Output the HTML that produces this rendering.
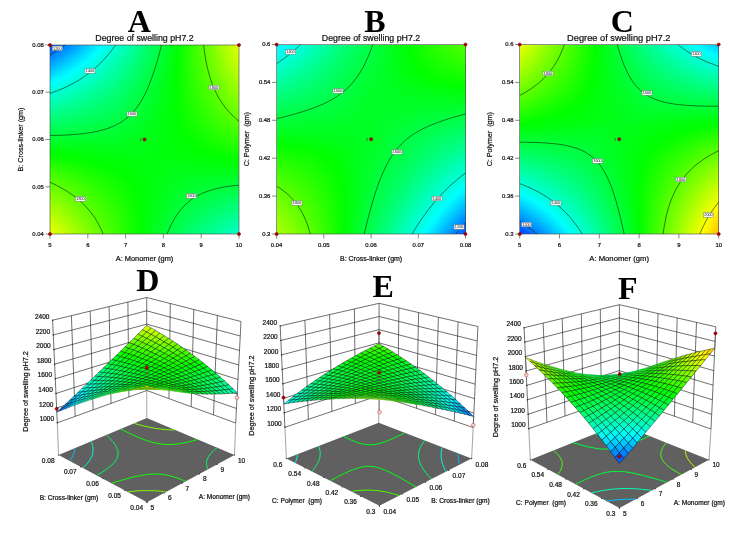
<!DOCTYPE html>
<html><head><meta charset="utf-8"><title>Degree of swelling pH7.2</title>
<style>html,body{margin:0;padding:0;background:#fff}svg{display:block}.t,.u{font-family:"Liberation Sans",Arial,sans-serif}.t{stroke:#111;stroke-width:.22px}</style></head>
<body><svg width="740" height="534" viewBox="0 0 740 534">
<rect width="740" height="534" fill="#fff"/>
<defs><linearGradient id="g0"><stop offset="0" stop-color="#004dff"/><stop offset="0.139" stop-color="#00a3ff"/><stop offset="0.278" stop-color="#0ff"/><stop offset="0.479" stop-color="#00ff84"/><stop offset="0.681" stop-color="#0f0"/><stop offset="0.84" stop-color="#70ff00"/><stop offset="1" stop-color="#e6ff00"/></linearGradient><linearGradient id="g1"><stop offset="0" stop-color="#0057ff"/><stop offset="0.135" stop-color="#00a8ff"/><stop offset="0.269" stop-color="#0ff"/><stop offset="0.474" stop-color="#00ff85"/><stop offset="0.68" stop-color="#0f0"/><stop offset="0.84" stop-color="#6eff00"/><stop offset="1" stop-color="#e3ff00"/></linearGradient><linearGradient id="g2"><stop offset="0" stop-color="#0060ff"/><stop offset="0.13" stop-color="#00adff"/><stop offset="0.259" stop-color="#0ff"/><stop offset="0.469" stop-color="#00ff85"/><stop offset="0.679" stop-color="#0f0"/><stop offset="0.839" stop-color="#6dff00"/><stop offset="1" stop-color="#e0ff00"/></linearGradient><linearGradient id="g3"><stop offset="0" stop-color="#006aff"/><stop offset="0.125" stop-color="#00b2ff"/><stop offset="0.25" stop-color="#0ff"/><stop offset="0.464" stop-color="#00ff85"/><stop offset="0.678" stop-color="#0f0"/><stop offset="0.839" stop-color="#6bff00"/><stop offset="1" stop-color="#df0"/></linearGradient><linearGradient id="g4"><stop offset="0" stop-color="#0074ff"/><stop offset="0.12" stop-color="#00b8ff"/><stop offset="0.239" stop-color="#0ff"/><stop offset="0.458" stop-color="#00ff85"/><stop offset="0.677" stop-color="#0f0"/><stop offset="0.838" stop-color="#6aff00"/><stop offset="1" stop-color="#daff00"/></linearGradient><linearGradient id="g5"><stop offset="0" stop-color="#007eff"/><stop offset="0.114" stop-color="#00bdff"/><stop offset="0.228" stop-color="#0ff"/><stop offset="0.452" stop-color="#00ff85"/><stop offset="0.676" stop-color="#0f0"/><stop offset="0.838" stop-color="#68ff00"/><stop offset="1" stop-color="#d6ff00"/></linearGradient><linearGradient id="g6"><stop offset="0" stop-color="#0087ff"/><stop offset="0.108" stop-color="#00c2ff"/><stop offset="0.217" stop-color="#0ff"/><stop offset="0.446" stop-color="#00ff86"/><stop offset="0.675" stop-color="#0f0"/><stop offset="0.837" stop-color="#6f0"/><stop offset="1" stop-color="#d3ff00"/></linearGradient><linearGradient id="g7"><stop offset="0" stop-color="#0091ff"/><stop offset="0.103" stop-color="#00c7ff"/><stop offset="0.205" stop-color="#0ff"/><stop offset="0.44" stop-color="#00ff86"/><stop offset="0.674" stop-color="#0f0"/><stop offset="0.837" stop-color="#65ff00"/><stop offset="1" stop-color="#d0ff00"/></linearGradient><linearGradient id="g8"><stop offset="0" stop-color="#009bff"/><stop offset="0.096" stop-color="#00cbff"/><stop offset="0.193" stop-color="#0ff"/><stop offset="0.433" stop-color="#00ff86"/><stop offset="0.673" stop-color="#0f0"/><stop offset="0.837" stop-color="#63ff00"/><stop offset="1" stop-color="#cdff00"/></linearGradient><linearGradient id="g9"><stop offset="0" stop-color="#00a4ff"/><stop offset="0.09" stop-color="#00d0ff"/><stop offset="0.18" stop-color="#0ff"/><stop offset="0.426" stop-color="#00ff87"/><stop offset="0.672" stop-color="#0f0"/><stop offset="0.836" stop-color="#62ff00"/><stop offset="1" stop-color="#c9ff00"/></linearGradient><linearGradient id="g10"><stop offset="0" stop-color="#00aeff"/><stop offset="0.083" stop-color="#00d5ff"/><stop offset="0.166" stop-color="#0ff"/><stop offset="0.419" stop-color="#00ff87"/><stop offset="0.672" stop-color="#0f0"/><stop offset="0.836" stop-color="#60ff00"/><stop offset="1" stop-color="#c6ff00"/></linearGradient><linearGradient id="g11"><stop offset="0" stop-color="#00b7ff"/><stop offset="0.076" stop-color="#00daff"/><stop offset="0.151" stop-color="#0ff"/><stop offset="0.411" stop-color="#0f8"/><stop offset="0.671" stop-color="#0f0"/><stop offset="0.835" stop-color="#5eff00"/><stop offset="1" stop-color="#c3ff00"/></linearGradient><linearGradient id="g12"><stop offset="0" stop-color="#00c0ff"/><stop offset="0.136" stop-color="#0ff"/><stop offset="0.403" stop-color="#0f8"/><stop offset="0.67" stop-color="#0f0"/><stop offset="0.835" stop-color="#5cff00"/><stop offset="1" stop-color="#bfff00"/></linearGradient><linearGradient id="g13"><stop offset="0" stop-color="#00caff"/><stop offset="0.12" stop-color="#0ff"/><stop offset="0.395" stop-color="#0f8"/><stop offset="0.669" stop-color="#0f0"/><stop offset="0.835" stop-color="#5bff00"/><stop offset="1" stop-color="#bcff00"/></linearGradient><linearGradient id="g14"><stop offset="0" stop-color="#00d3ff"/><stop offset="0.102" stop-color="#0ff"/><stop offset="0.385" stop-color="#00ff89"/><stop offset="0.669" stop-color="#0f0"/><stop offset="0.834" stop-color="#59ff00"/><stop offset="1" stop-color="#b8ff00"/></linearGradient><linearGradient id="g15"><stop offset="0" stop-color="#00dcff"/><stop offset="0.084" stop-color="#0ff"/><stop offset="0.376" stop-color="#00ff8a"/><stop offset="0.668" stop-color="#0f0"/><stop offset="0.834" stop-color="#57ff00"/><stop offset="1" stop-color="#b5ff00"/></linearGradient><linearGradient id="g16"><stop offset="0" stop-color="#00e6ff"/><stop offset="0.064" stop-color="#0ff"/><stop offset="0.366" stop-color="#00ff8a"/><stop offset="0.668" stop-color="#0f0"/><stop offset="0.834" stop-color="#5f0"/><stop offset="1" stop-color="#b1ff00"/></linearGradient><linearGradient id="g17"><stop offset="0" stop-color="#00efff"/><stop offset="0.042" stop-color="#0ff"/><stop offset="0.355" stop-color="#00ff8b"/><stop offset="0.667" stop-color="#0f0"/><stop offset="0.834" stop-color="#54ff00"/><stop offset="1" stop-color="#aeff00"/></linearGradient><linearGradient id="g18"><stop offset="0" stop-color="#00f8ff"/><stop offset="0.019" stop-color="#0ff"/><stop offset="0.343" stop-color="#00ff8c"/><stop offset="0.666" stop-color="#0f0"/><stop offset="0.833" stop-color="#52ff00"/><stop offset="1" stop-color="#af0"/></linearGradient><linearGradient id="g19"><stop offset="0" stop-color="#00fffd"/><stop offset="0.333" stop-color="#00ff8c"/><stop offset="0.666" stop-color="#0f0"/><stop offset="0.833" stop-color="#50ff00"/><stop offset="1" stop-color="#a7ff00"/></linearGradient><linearGradient id="g20"><stop offset="0" stop-color="#00fff5"/><stop offset="0.333" stop-color="#0f8"/><stop offset="0.666" stop-color="#0f0"/><stop offset="0.833" stop-color="#4eff00"/><stop offset="1" stop-color="#a3ff00"/></linearGradient><linearGradient id="g21"><stop offset="0" stop-color="#00ffed"/><stop offset="0.333" stop-color="#00ff84"/><stop offset="0.665" stop-color="#0f0"/><stop offset="0.833" stop-color="#4cff00"/><stop offset="1" stop-color="#9fff00"/></linearGradient><linearGradient id="g22"><stop offset="0" stop-color="#00ffe6"/><stop offset="0.333" stop-color="#00ff80"/><stop offset="0.665" stop-color="#0f0"/><stop offset="0.833" stop-color="#4aff00"/><stop offset="1" stop-color="#9cff00"/></linearGradient><linearGradient id="g23"><stop offset="0" stop-color="#00ffde"/><stop offset="0.332" stop-color="#00ff7c"/><stop offset="0.665" stop-color="#0f0"/><stop offset="0.832" stop-color="#49ff00"/><stop offset="1" stop-color="#98ff00"/></linearGradient><linearGradient id="g24"><stop offset="0" stop-color="#00ffd6"/><stop offset="0.332" stop-color="#00ff78"/><stop offset="0.665" stop-color="#0f0"/><stop offset="0.832" stop-color="#47ff00"/><stop offset="1" stop-color="#94ff00"/></linearGradient><linearGradient id="g25"><stop offset="0" stop-color="#00ffce"/><stop offset="0.332" stop-color="#00ff74"/><stop offset="0.665" stop-color="#0f0"/><stop offset="0.832" stop-color="#45ff00"/><stop offset="1" stop-color="#90ff00"/></linearGradient><linearGradient id="g26"><stop offset="0" stop-color="#00ffc7"/><stop offset="0.332" stop-color="#00ff71"/><stop offset="0.665" stop-color="#0f0"/><stop offset="0.832" stop-color="#43ff00"/><stop offset="1" stop-color="#8cff00"/></linearGradient><linearGradient id="g27"><stop offset="0" stop-color="#00ffbf"/><stop offset="0.332" stop-color="#00ff6d"/><stop offset="0.665" stop-color="#0f0"/><stop offset="0.832" stop-color="#41ff00"/><stop offset="1" stop-color="#8f0"/></linearGradient><linearGradient id="g28"><stop offset="0" stop-color="#00ffb8"/><stop offset="0.332" stop-color="#00ff69"/><stop offset="0.665" stop-color="#0f0"/><stop offset="0.832" stop-color="#3fff00"/><stop offset="1" stop-color="#84ff00"/></linearGradient><linearGradient id="g29"><stop offset="0" stop-color="#00ffb0"/><stop offset="0.333" stop-color="#00ff65"/><stop offset="0.665" stop-color="#0f0"/><stop offset="0.833" stop-color="#3dff00"/><stop offset="1" stop-color="#80ff00"/></linearGradient><linearGradient id="g30"><stop offset="0" stop-color="#00ffa8"/><stop offset="0.333" stop-color="#00ff61"/><stop offset="0.666" stop-color="#0f0"/><stop offset="0.833" stop-color="#3bff00"/><stop offset="1" stop-color="#7cff00"/></linearGradient><linearGradient id="g31"><stop offset="0" stop-color="#00ffa1"/><stop offset="0.333" stop-color="#00ff5e"/><stop offset="0.666" stop-color="#0f0"/><stop offset="0.833" stop-color="#39ff00"/><stop offset="1" stop-color="#78ff00"/></linearGradient><linearGradient id="g32"><stop offset="0" stop-color="#00ff9a"/><stop offset="0.334" stop-color="#00ff5a"/><stop offset="0.667" stop-color="#0f0"/><stop offset="0.834" stop-color="#37ff00"/><stop offset="1" stop-color="#74ff00"/></linearGradient><linearGradient id="g33"><stop offset="0" stop-color="#00ff92"/><stop offset="0.334" stop-color="#00ff56"/><stop offset="0.668" stop-color="#0f0"/><stop offset="0.834" stop-color="#35ff00"/><stop offset="1" stop-color="#70ff00"/></linearGradient><linearGradient id="g34"><stop offset="0" stop-color="#00ff8b"/><stop offset="0.335" stop-color="#00ff53"/><stop offset="0.669" stop-color="#0f0"/><stop offset="0.835" stop-color="#3f0"/><stop offset="1" stop-color="#6cff00"/></linearGradient><linearGradient id="g35"><stop offset="0" stop-color="#00ff83"/><stop offset="0.335" stop-color="#00ff4f"/><stop offset="0.67" stop-color="#0f0"/><stop offset="0.835" stop-color="#31ff00"/><stop offset="1" stop-color="#68ff00"/></linearGradient><linearGradient id="g36"><stop offset="0" stop-color="#00ff7c"/><stop offset="0.336" stop-color="#00ff4b"/><stop offset="0.672" stop-color="#0f0"/><stop offset="0.836" stop-color="#2fff00"/><stop offset="1" stop-color="#64ff00"/></linearGradient><linearGradient id="g37"><stop offset="0" stop-color="#00ff75"/><stop offset="0.337" stop-color="#00ff48"/><stop offset="0.674" stop-color="#0f0"/><stop offset="0.837" stop-color="#2dff00"/><stop offset="1" stop-color="#5fff00"/></linearGradient><linearGradient id="g38"><stop offset="0" stop-color="#00ff6e"/><stop offset="0.338" stop-color="#0f4"/><stop offset="0.676" stop-color="#0f0"/><stop offset="0.838" stop-color="#2aff00"/><stop offset="1" stop-color="#5bff00"/></linearGradient><linearGradient id="g39"><stop offset="0" stop-color="#0f6"/><stop offset="0.339" stop-color="#00ff41"/><stop offset="0.679" stop-color="#0f0"/><stop offset="0.839" stop-color="#28ff00"/><stop offset="1" stop-color="#57ff00"/></linearGradient><linearGradient id="g40"><stop offset="0" stop-color="#00ff5f"/><stop offset="0.341" stop-color="#00ff3d"/><stop offset="0.681" stop-color="#0f0"/><stop offset="0.841" stop-color="#26ff00"/><stop offset="1" stop-color="#52ff00"/></linearGradient><linearGradient id="g41"><stop offset="0" stop-color="#00ff58"/><stop offset="0.342" stop-color="#00ff3a"/><stop offset="0.685" stop-color="#0f0"/><stop offset="0.842" stop-color="#24ff00"/><stop offset="1" stop-color="#4eff00"/></linearGradient><linearGradient id="g42"><stop offset="0" stop-color="#00ff51"/><stop offset="0.344" stop-color="#00ff37"/><stop offset="0.689" stop-color="#0f0"/><stop offset="0.844" stop-color="#2f0"/><stop offset="1" stop-color="#4aff00"/></linearGradient><linearGradient id="g43"><stop offset="0" stop-color="#00ff4a"/><stop offset="0.347" stop-color="#0f3"/><stop offset="0.693" stop-color="#0f0"/><stop offset="0.847" stop-color="#20ff00"/><stop offset="1" stop-color="#45ff00"/></linearGradient><linearGradient id="g44"><stop offset="0" stop-color="#00ff43"/><stop offset="0.349" stop-color="#00ff30"/><stop offset="0.699" stop-color="#0f0"/><stop offset="0.849" stop-color="#1eff00"/><stop offset="1" stop-color="#41ff00"/></linearGradient><linearGradient id="g45"><stop offset="0" stop-color="#00ff3c"/><stop offset="0.353" stop-color="#00ff2d"/><stop offset="0.705" stop-color="#0f0"/><stop offset="0.853" stop-color="#1bff00"/><stop offset="1" stop-color="#3cff00"/></linearGradient><linearGradient id="g46"><stop offset="0" stop-color="#00ff35"/><stop offset="0.356" stop-color="#00ff2a"/><stop offset="0.712" stop-color="#0f0"/><stop offset="0.856" stop-color="#19ff00"/><stop offset="1" stop-color="#38ff00"/></linearGradient><linearGradient id="g47"><stop offset="0" stop-color="#00ff2e"/><stop offset="0.36" stop-color="#00ff26"/><stop offset="0.721" stop-color="#0f0"/><stop offset="0.86" stop-color="#17ff00"/><stop offset="1" stop-color="#3f0"/></linearGradient><linearGradient id="g48"><stop offset="0" stop-color="#00ff27"/><stop offset="0.366" stop-color="#00ff23"/><stop offset="0.731" stop-color="#0f0"/><stop offset="0.866" stop-color="#15ff00"/><stop offset="1" stop-color="#2eff00"/></linearGradient><linearGradient id="g49"><stop offset="0" stop-color="#00ff20"/><stop offset="0.372" stop-color="#00ff20"/><stop offset="0.743" stop-color="#0f0"/><stop offset="0.872" stop-color="#13ff00"/><stop offset="1" stop-color="#2aff00"/></linearGradient><linearGradient id="g50"><stop offset="0" stop-color="#00ff19"/><stop offset="0.379" stop-color="#00ff1e"/><stop offset="0.757" stop-color="#0f0"/><stop offset="0.879" stop-color="#1f0"/><stop offset="1" stop-color="#25ff00"/></linearGradient><linearGradient id="g51"><stop offset="0" stop-color="#00ff12"/><stop offset="0.387" stop-color="#00ff1b"/><stop offset="0.774" stop-color="#0f0"/><stop offset="0.887" stop-color="#0fff00"/><stop offset="1" stop-color="#20ff00"/></linearGradient><linearGradient id="g52"><stop offset="0" stop-color="#00ff0c"/><stop offset="0.397" stop-color="#00ff19"/><stop offset="0.794" stop-color="#0f0"/><stop offset="0.897" stop-color="#0dff00"/><stop offset="1" stop-color="#1cff00"/></linearGradient><linearGradient id="g53"><stop offset="0" stop-color="#00ff05"/><stop offset="0.409" stop-color="#00ff16"/><stop offset="0.818" stop-color="#0f0"/><stop offset="0.909" stop-color="#0aff00"/><stop offset="1" stop-color="#17ff00"/></linearGradient><linearGradient id="g54"><stop offset="0" stop-color="#02ff00"/><stop offset="0.017" stop-color="#0f0"/><stop offset="0.432" stop-color="#00ff15"/><stop offset="0.847" stop-color="#0f0"/><stop offset="0.924" stop-color="#08ff00"/><stop offset="1" stop-color="#12ff00"/></linearGradient><linearGradient id="g55"><stop offset="0" stop-color="#08ff00"/><stop offset="0.08" stop-color="#0f0"/><stop offset="0.481" stop-color="#00ff13"/><stop offset="0.881" stop-color="#0f0"/><stop offset="1" stop-color="#0dff00"/></linearGradient><linearGradient id="g56"><stop offset="0" stop-color="#0fff00"/><stop offset="0.137" stop-color="#0f0"/><stop offset="0.529" stop-color="#00ff12"/><stop offset="0.921" stop-color="#0f0"/><stop offset="1" stop-color="#08ff00"/></linearGradient><linearGradient id="g57"><stop offset="0" stop-color="#16ff00"/><stop offset="0.094" stop-color="#0aff00"/><stop offset="0.188" stop-color="#0f0"/><stop offset="0.577" stop-color="#00ff12"/><stop offset="0.967" stop-color="#0f0"/><stop offset="1" stop-color="#03ff00"/></linearGradient><linearGradient id="g58"><stop offset="0" stop-color="#1cff00"/><stop offset="0.116" stop-color="#0cff00"/><stop offset="0.232" stop-color="#0f0"/><stop offset="0.616" stop-color="#00ff12"/><stop offset="1" stop-color="#00ff02"/></linearGradient><linearGradient id="g59"><stop offset="0" stop-color="#23ff00"/><stop offset="0.135" stop-color="#0fff00"/><stop offset="0.27" stop-color="#0f0"/><stop offset="0.635" stop-color="#00ff13"/><stop offset="1" stop-color="#00ff07"/></linearGradient><linearGradient id="g60"><stop offset="0" stop-color="#29ff00"/><stop offset="0.151" stop-color="#12ff00"/><stop offset="0.303" stop-color="#0f0"/><stop offset="0.651" stop-color="#00ff14"/><stop offset="1" stop-color="#00ff0c"/></linearGradient><linearGradient id="g61"><stop offset="0" stop-color="#30ff00"/><stop offset="0.165" stop-color="#15ff00"/><stop offset="0.33" stop-color="#0f0"/><stop offset="0.665" stop-color="#00ff16"/><stop offset="1" stop-color="#0f1"/></linearGradient><linearGradient id="g62"><stop offset="0" stop-color="#36ff00"/><stop offset="0.177" stop-color="#17ff00"/><stop offset="0.353" stop-color="#0f0"/><stop offset="0.677" stop-color="#00ff17"/><stop offset="1" stop-color="#00ff16"/></linearGradient><linearGradient id="g63"><stop offset="0" stop-color="#3cff00"/><stop offset="0.186" stop-color="#1aff00"/><stop offset="0.373" stop-color="#0f0"/><stop offset="0.686" stop-color="#00ff19"/><stop offset="1" stop-color="#00ff1b"/></linearGradient><linearGradient id="g64"><stop offset="0" stop-color="#43ff00"/><stop offset="0.194" stop-color="#1dff00"/><stop offset="0.389" stop-color="#0f0"/><stop offset="0.694" stop-color="#00ff1b"/><stop offset="1" stop-color="#00ff20"/></linearGradient><linearGradient id="g65"><stop offset="0" stop-color="#49ff00"/><stop offset="0.201" stop-color="#20ff00"/><stop offset="0.402" stop-color="#0f0"/><stop offset="0.701" stop-color="#00ff1d"/><stop offset="1" stop-color="#00ff25"/></linearGradient><linearGradient id="g66"><stop offset="0" stop-color="#4fff00"/><stop offset="0.207" stop-color="#23ff00"/><stop offset="0.414" stop-color="#0f0"/><stop offset="0.707" stop-color="#00ff20"/><stop offset="1" stop-color="#00ff2b"/></linearGradient><linearGradient id="g67"><stop offset="0" stop-color="#56ff00"/><stop offset="0.212" stop-color="#26ff00"/><stop offset="0.424" stop-color="#0f0"/><stop offset="0.712" stop-color="#0f2"/><stop offset="1" stop-color="#00ff30"/></linearGradient><linearGradient id="g68"><stop offset="0" stop-color="#5cff00"/><stop offset="0.216" stop-color="#28ff00"/><stop offset="0.432" stop-color="#0f0"/><stop offset="0.716" stop-color="#00ff24"/><stop offset="1" stop-color="#00ff35"/></linearGradient><linearGradient id="g69"><stop offset="0" stop-color="#62ff00"/><stop offset="0.219" stop-color="#2bff00"/><stop offset="0.439" stop-color="#0f0"/><stop offset="0.719" stop-color="#00ff27"/><stop offset="1" stop-color="#00ff3b"/></linearGradient><linearGradient id="g70"><stop offset="0" stop-color="#68ff00"/><stop offset="0.222" stop-color="#2eff00"/><stop offset="0.445" stop-color="#0f0"/><stop offset="0.722" stop-color="#00ff29"/><stop offset="1" stop-color="#00ff40"/></linearGradient><linearGradient id="g71"><stop offset="0" stop-color="#6eff00"/><stop offset="0.225" stop-color="#31ff00"/><stop offset="0.45" stop-color="#0f0"/><stop offset="0.725" stop-color="#00ff2c"/><stop offset="1" stop-color="#00ff45"/></linearGradient><linearGradient id="g72"><stop offset="0" stop-color="#74ff00"/><stop offset="0.227" stop-color="#34ff00"/><stop offset="0.454" stop-color="#0f0"/><stop offset="0.727" stop-color="#00ff2e"/><stop offset="1" stop-color="#00ff4b"/></linearGradient><linearGradient id="g73"><stop offset="0" stop-color="#7bff00"/><stop offset="0.229" stop-color="#37ff00"/><stop offset="0.458" stop-color="#0f0"/><stop offset="0.729" stop-color="#00ff31"/><stop offset="1" stop-color="#00ff50"/></linearGradient><linearGradient id="g74"><stop offset="0" stop-color="#81ff00"/><stop offset="0.231" stop-color="#3aff00"/><stop offset="0.461" stop-color="#0f0"/><stop offset="0.731" stop-color="#00ff34"/><stop offset="1" stop-color="#00ff56"/></linearGradient><linearGradient id="g75"><stop offset="0" stop-color="#87ff00"/><stop offset="0.232" stop-color="#3dff00"/><stop offset="0.464" stop-color="#0f0"/><stop offset="0.732" stop-color="#00ff36"/><stop offset="1" stop-color="#00ff5b"/></linearGradient><linearGradient id="g76"><stop offset="0" stop-color="#8cff00"/><stop offset="0.233" stop-color="#40ff00"/><stop offset="0.467" stop-color="#0f0"/><stop offset="0.733" stop-color="#00ff39"/><stop offset="1" stop-color="#00ff61"/></linearGradient><linearGradient id="g77"><stop offset="0" stop-color="#92ff00"/><stop offset="0.234" stop-color="#43ff00"/><stop offset="0.469" stop-color="#0f0"/><stop offset="0.734" stop-color="#00ff3c"/><stop offset="1" stop-color="#00ff67"/></linearGradient><linearGradient id="g78"><stop offset="0" stop-color="#98ff00"/><stop offset="0.235" stop-color="#46ff00"/><stop offset="0.471" stop-color="#0f0"/><stop offset="0.735" stop-color="#00ff3e"/><stop offset="1" stop-color="#00ff6c"/></linearGradient><linearGradient id="g79"><stop offset="0" stop-color="#9eff00"/><stop offset="0.236" stop-color="#48ff00"/><stop offset="0.472" stop-color="#0f0"/><stop offset="0.736" stop-color="#00ff41"/><stop offset="1" stop-color="#00ff72"/></linearGradient><linearGradient id="g80"><stop offset="0" stop-color="#a4ff00"/><stop offset="0.237" stop-color="#4bff00"/><stop offset="0.473" stop-color="#0f0"/><stop offset="0.737" stop-color="#0f4"/><stop offset="1" stop-color="#00ff78"/></linearGradient><linearGradient id="g81"><stop offset="0" stop-color="#af0"/><stop offset="0.237" stop-color="#4eff00"/><stop offset="0.474" stop-color="#0f0"/><stop offset="0.737" stop-color="#00ff47"/><stop offset="1" stop-color="#00ff7d"/></linearGradient><linearGradient id="g82"><stop offset="0" stop-color="#afff00"/><stop offset="0.238" stop-color="#51ff00"/><stop offset="0.475" stop-color="#0f0"/><stop offset="0.738" stop-color="#00ff4a"/><stop offset="1" stop-color="#00ff83"/></linearGradient><linearGradient id="g83"><stop offset="0" stop-color="#b5ff00"/><stop offset="0.238" stop-color="#54ff00"/><stop offset="0.476" stop-color="#0f0"/><stop offset="0.738" stop-color="#00ff4d"/><stop offset="1" stop-color="#00ff89"/></linearGradient><linearGradient id="g84"><stop offset="0" stop-color="#bf0"/><stop offset="0.238" stop-color="#57ff00"/><stop offset="0.477" stop-color="#0f0"/><stop offset="0.738" stop-color="#00ff50"/><stop offset="1" stop-color="#00ff8f"/></linearGradient><linearGradient id="g85"><stop offset="0" stop-color="#c0ff00"/><stop offset="0.238" stop-color="#59ff00"/><stop offset="0.477" stop-color="#0f0"/><stop offset="0.738" stop-color="#00ff53"/><stop offset="1" stop-color="#00ff95"/></linearGradient><linearGradient id="g86"><stop offset="0" stop-color="#c6ff00"/><stop offset="0.239" stop-color="#5cff00"/><stop offset="0.477" stop-color="#0f0"/><stop offset="0.739" stop-color="#0f5"/><stop offset="1" stop-color="#00ff9b"/></linearGradient><linearGradient id="g87"><stop offset="0" stop-color="#cf0"/><stop offset="0.239" stop-color="#5fff00"/><stop offset="0.477" stop-color="#0f0"/><stop offset="0.739" stop-color="#00ff58"/><stop offset="1" stop-color="#00ffa1"/></linearGradient><linearGradient id="g88"><stop offset="0" stop-color="#d1ff00"/><stop offset="0.239" stop-color="#62ff00"/><stop offset="0.478" stop-color="#0f0"/><stop offset="0.739" stop-color="#00ff5b"/><stop offset="1" stop-color="#00ffa7"/></linearGradient><linearGradient id="g89"><stop offset="0" stop-color="#d7ff00"/><stop offset="0.239" stop-color="#65ff00"/><stop offset="0.478" stop-color="#0f0"/><stop offset="0.739" stop-color="#00ff5e"/><stop offset="1" stop-color="#00ffad"/></linearGradient><linearGradient id="g90"><stop offset="0" stop-color="#dcff00"/><stop offset="0.239" stop-color="#67ff00"/><stop offset="0.477" stop-color="#0f0"/><stop offset="0.739" stop-color="#00ff61"/><stop offset="1" stop-color="#00ffb3"/></linearGradient><linearGradient id="g91"><stop offset="0" stop-color="#e2ff00"/><stop offset="0.239" stop-color="#6aff00"/><stop offset="0.477" stop-color="#0f0"/><stop offset="0.739" stop-color="#00ff65"/><stop offset="1" stop-color="#00ffb9"/></linearGradient><linearGradient id="g92"><stop offset="0" stop-color="#e7ff00"/><stop offset="0.239" stop-color="#6dff00"/><stop offset="0.477" stop-color="#0f0"/><stop offset="0.739" stop-color="#00ff68"/><stop offset="1" stop-color="#00ffbf"/></linearGradient><linearGradient id="g93"><stop offset="0" stop-color="#ecff00"/><stop offset="0.238" stop-color="#6fff00"/><stop offset="0.477" stop-color="#0f0"/><stop offset="0.738" stop-color="#00ff6b"/><stop offset="1" stop-color="#00ffc5"/></linearGradient><linearGradient id="g94"><stop offset="0" stop-color="#f0ff00"/><stop offset="0.238" stop-color="#71ff00"/><stop offset="0.476" stop-color="#0f0"/><stop offset="0.738" stop-color="#00ff6d"/><stop offset="1" stop-color="#00ffca"/></linearGradient><linearGradient id="g95"><stop offset="0" stop-color="#00eaff"/><stop offset="0.038" stop-color="#0ff"/><stop offset="0.367" stop-color="#00ff72"/><stop offset="0.696" stop-color="#0f0"/><stop offset="0.848" stop-color="#2bff00"/><stop offset="1" stop-color="#51ff00"/></linearGradient><linearGradient id="g96"><stop offset="0" stop-color="#00f1ff"/><stop offset="0.025" stop-color="#0ff"/><stop offset="0.362" stop-color="#00ff71"/><stop offset="0.698" stop-color="#0f0"/><stop offset="0.849" stop-color="#2aff00"/><stop offset="1" stop-color="#4dff00"/></linearGradient><linearGradient id="g97"><stop offset="0" stop-color="#00f9ff"/><stop offset="0.012" stop-color="#0ff"/><stop offset="0.356" stop-color="#00ff71"/><stop offset="0.7" stop-color="#0f0"/><stop offset="0.85" stop-color="#28ff00"/><stop offset="1" stop-color="#4aff00"/></linearGradient><linearGradient id="g98"><stop offset="0" stop-color="#00fffe"/><stop offset="0.351" stop-color="#00ff6f"/><stop offset="0.703" stop-color="#0f0"/><stop offset="0.851" stop-color="#26ff00"/><stop offset="1" stop-color="#46ff00"/></linearGradient><linearGradient id="g99"><stop offset="0" stop-color="#00fff8"/><stop offset="0.353" stop-color="#00ff6c"/><stop offset="0.705" stop-color="#0f0"/><stop offset="0.853" stop-color="#24ff00"/><stop offset="1" stop-color="#42ff00"/></linearGradient><linearGradient id="g100"><stop offset="0" stop-color="#00fff2"/><stop offset="0.354" stop-color="#00ff69"/><stop offset="0.708" stop-color="#0f0"/><stop offset="0.854" stop-color="#2f0"/><stop offset="1" stop-color="#3fff00"/></linearGradient><linearGradient id="g101"><stop offset="0" stop-color="#00ffeb"/><stop offset="0.356" stop-color="#0f6"/><stop offset="0.712" stop-color="#0f0"/><stop offset="0.856" stop-color="#20ff00"/><stop offset="1" stop-color="#3bff00"/></linearGradient><linearGradient id="g102"><stop offset="0" stop-color="#00ffe5"/><stop offset="0.358" stop-color="#00ff62"/><stop offset="0.716" stop-color="#0f0"/><stop offset="0.858" stop-color="#1eff00"/><stop offset="1" stop-color="#37ff00"/></linearGradient><linearGradient id="g103"><stop offset="0" stop-color="#00ffdf"/><stop offset="0.36" stop-color="#00ff5f"/><stop offset="0.721" stop-color="#0f0"/><stop offset="0.86" stop-color="#1cff00"/><stop offset="1" stop-color="#3f0"/></linearGradient><linearGradient id="g104"><stop offset="0" stop-color="#00ffd9"/><stop offset="0.363" stop-color="#00ff5c"/><stop offset="0.726" stop-color="#0f0"/><stop offset="0.863" stop-color="#1aff00"/><stop offset="1" stop-color="#2fff00"/></linearGradient><linearGradient id="g105"><stop offset="0" stop-color="#00ffd3"/><stop offset="0.366" stop-color="#00ff59"/><stop offset="0.732" stop-color="#0f0"/><stop offset="0.866" stop-color="#18ff00"/><stop offset="1" stop-color="#2bff00"/></linearGradient><linearGradient id="g106"><stop offset="0" stop-color="#00ffcd"/><stop offset="0.369" stop-color="#0f5"/><stop offset="0.739" stop-color="#0f0"/><stop offset="0.869" stop-color="#16ff00"/><stop offset="1" stop-color="#27ff00"/></linearGradient><linearGradient id="g107"><stop offset="0" stop-color="#00ffc7"/><stop offset="0.373" stop-color="#00ff52"/><stop offset="0.747" stop-color="#0f0"/><stop offset="0.873" stop-color="#14ff00"/><stop offset="1" stop-color="#23ff00"/></linearGradient><linearGradient id="g108"><stop offset="0" stop-color="#00ffc1"/><stop offset="0.378" stop-color="#00ff4e"/><stop offset="0.756" stop-color="#0f0"/><stop offset="0.878" stop-color="#12ff00"/><stop offset="1" stop-color="#1fff00"/></linearGradient><linearGradient id="g109"><stop offset="0" stop-color="#0fb"/><stop offset="0.383" stop-color="#00ff4b"/><stop offset="0.767" stop-color="#0f0"/><stop offset="0.883" stop-color="#0fff00"/><stop offset="1" stop-color="#1bff00"/></linearGradient><linearGradient id="g110"><stop offset="0" stop-color="#00ffb5"/><stop offset="0.39" stop-color="#00ff47"/><stop offset="0.779" stop-color="#0f0"/><stop offset="0.89" stop-color="#0dff00"/><stop offset="1" stop-color="#17ff00"/></linearGradient><linearGradient id="g111"><stop offset="0" stop-color="#00ffaf"/><stop offset="0.398" stop-color="#0f4"/><stop offset="0.795" stop-color="#0f0"/><stop offset="0.898" stop-color="#0bff00"/><stop offset="1" stop-color="#13ff00"/></linearGradient><linearGradient id="g112"><stop offset="0" stop-color="#00ffa9"/><stop offset="0.407" stop-color="#00ff40"/><stop offset="0.815" stop-color="#0f0"/><stop offset="0.907" stop-color="#09ff00"/><stop offset="1" stop-color="#0fff00"/></linearGradient><linearGradient id="g113"><stop offset="0" stop-color="#00ffa4"/><stop offset="0.42" stop-color="#00ff3b"/><stop offset="0.84" stop-color="#0f0"/><stop offset="0.92" stop-color="#06ff00"/><stop offset="1" stop-color="#0bff00"/></linearGradient><linearGradient id="g114"><stop offset="0" stop-color="#00ff9e"/><stop offset="0.438" stop-color="#00ff37"/><stop offset="0.875" stop-color="#0f0"/><stop offset="1" stop-color="#07ff00"/></linearGradient><linearGradient id="g115"><stop offset="0" stop-color="#00ff98"/><stop offset="0.466" stop-color="#00ff30"/><stop offset="0.933" stop-color="#0f0"/><stop offset="1" stop-color="#02ff00"/></linearGradient><linearGradient id="g116"><stop offset="0" stop-color="#00ff92"/><stop offset="0.5" stop-color="#00ff2a"/><stop offset="1" stop-color="#00ff02"/></linearGradient><linearGradient id="g117"><stop offset="0" stop-color="#00ff8d"/><stop offset="0.5" stop-color="#00ff2a"/><stop offset="1" stop-color="#00ff06"/></linearGradient><linearGradient id="g118"><stop offset="0" stop-color="#00ff87"/><stop offset="0.5" stop-color="#00ff29"/><stop offset="1" stop-color="#00ff0a"/></linearGradient><linearGradient id="g119"><stop offset="0" stop-color="#00ff81"/><stop offset="0.5" stop-color="#00ff29"/><stop offset="1" stop-color="#00ff0f"/></linearGradient><linearGradient id="g120"><stop offset="0" stop-color="#00ff7c"/><stop offset="0.5" stop-color="#00ff28"/><stop offset="1" stop-color="#00ff13"/></linearGradient><linearGradient id="g121"><stop offset="0" stop-color="#00ff76"/><stop offset="0.5" stop-color="#00ff27"/><stop offset="1" stop-color="#00ff18"/></linearGradient><linearGradient id="g122"><stop offset="0" stop-color="#00ff71"/><stop offset="0.5" stop-color="#00ff27"/><stop offset="1" stop-color="#00ff1c"/></linearGradient><linearGradient id="g123"><stop offset="0" stop-color="#00ff6b"/><stop offset="0.5" stop-color="#00ff26"/><stop offset="1" stop-color="#00ff21"/></linearGradient><linearGradient id="g124"><stop offset="0" stop-color="#0f6"/><stop offset="0.5" stop-color="#00ff26"/><stop offset="1" stop-color="#00ff25"/></linearGradient><linearGradient id="g125"><stop offset="0" stop-color="#00ff61"/><stop offset="0.5" stop-color="#00ff26"/><stop offset="1" stop-color="#00ff2a"/></linearGradient><linearGradient id="g126"><stop offset="0" stop-color="#00ff5b"/><stop offset="0.5" stop-color="#00ff25"/><stop offset="1" stop-color="#00ff2e"/></linearGradient><linearGradient id="g127"><stop offset="0" stop-color="#00ff56"/><stop offset="0.5" stop-color="#00ff25"/><stop offset="1" stop-color="#0f3"/></linearGradient><linearGradient id="g128"><stop offset="0" stop-color="#00ff51"/><stop offset="0.5" stop-color="#00ff25"/><stop offset="1" stop-color="#00ff38"/></linearGradient><linearGradient id="g129"><stop offset="0" stop-color="#00ff4b"/><stop offset="0.5" stop-color="#00ff24"/><stop offset="1" stop-color="#00ff3d"/></linearGradient><linearGradient id="g130"><stop offset="0" stop-color="#00ff46"/><stop offset="0.5" stop-color="#00ff24"/><stop offset="1" stop-color="#00ff41"/></linearGradient><linearGradient id="g131"><stop offset="0" stop-color="#00ff41"/><stop offset="0.5" stop-color="#00ff24"/><stop offset="1" stop-color="#00ff46"/></linearGradient><linearGradient id="g132"><stop offset="0" stop-color="#00ff3c"/><stop offset="0.5" stop-color="#00ff24"/><stop offset="1" stop-color="#00ff4b"/></linearGradient><linearGradient id="g133"><stop offset="0" stop-color="#00ff37"/><stop offset="0.5" stop-color="#00ff24"/><stop offset="1" stop-color="#00ff50"/></linearGradient><linearGradient id="g134"><stop offset="0" stop-color="#00ff32"/><stop offset="0.5" stop-color="#00ff23"/><stop offset="1" stop-color="#0f5"/></linearGradient><linearGradient id="g135"><stop offset="0" stop-color="#00ff2d"/><stop offset="0.5" stop-color="#00ff23"/><stop offset="1" stop-color="#00ff5a"/></linearGradient><linearGradient id="g136"><stop offset="0" stop-color="#00ff28"/><stop offset="0.5" stop-color="#00ff23"/><stop offset="1" stop-color="#00ff5f"/></linearGradient><linearGradient id="g137"><stop offset="0" stop-color="#00ff23"/><stop offset="0.5" stop-color="#00ff23"/><stop offset="1" stop-color="#00ff64"/></linearGradient><linearGradient id="g138"><stop offset="0" stop-color="#00ff1e"/><stop offset="0.5" stop-color="#00ff23"/><stop offset="1" stop-color="#00ff69"/></linearGradient><linearGradient id="g139"><stop offset="0" stop-color="#00ff19"/><stop offset="0.5" stop-color="#00ff23"/><stop offset="1" stop-color="#00ff6e"/></linearGradient><linearGradient id="g140"><stop offset="0" stop-color="#00ff14"/><stop offset="0.5" stop-color="#00ff24"/><stop offset="1" stop-color="#00ff73"/></linearGradient><linearGradient id="g141"><stop offset="0" stop-color="#00ff0f"/><stop offset="0.5" stop-color="#00ff24"/><stop offset="1" stop-color="#00ff78"/></linearGradient><linearGradient id="g142"><stop offset="0" stop-color="#00ff0a"/><stop offset="0.5" stop-color="#00ff24"/><stop offset="1" stop-color="#00ff7d"/></linearGradient><linearGradient id="g143"><stop offset="0" stop-color="#00ff05"/><stop offset="0.5" stop-color="#00ff24"/><stop offset="1" stop-color="#00ff82"/></linearGradient><linearGradient id="g144"><stop offset="0" stop-color="#00ff01"/><stop offset="0.5" stop-color="#00ff24"/><stop offset="1" stop-color="#00ff87"/></linearGradient><linearGradient id="g145"><stop offset="0" stop-color="#04ff00"/><stop offset="0.122" stop-color="#0f0"/><stop offset="0.561" stop-color="#00ff2e"/><stop offset="1" stop-color="#00ff8d"/></linearGradient><linearGradient id="g146"><stop offset="0" stop-color="#09ff00"/><stop offset="0.087" stop-color="#05ff00"/><stop offset="0.175" stop-color="#0f0"/><stop offset="0.587" stop-color="#0f3"/><stop offset="1" stop-color="#00ff92"/></linearGradient><linearGradient id="g147"><stop offset="0" stop-color="#0dff00"/><stop offset="0.104" stop-color="#08ff00"/><stop offset="0.208" stop-color="#0f0"/><stop offset="0.604" stop-color="#00ff38"/><stop offset="1" stop-color="#00ff97"/></linearGradient><linearGradient id="g148"><stop offset="0" stop-color="#12ff00"/><stop offset="0.116" stop-color="#0bff00"/><stop offset="0.233" stop-color="#0f0"/><stop offset="0.616" stop-color="#00ff3c"/><stop offset="1" stop-color="#00ff9d"/></linearGradient><linearGradient id="g149"><stop offset="0" stop-color="#17ff00"/><stop offset="0.126" stop-color="#0dff00"/><stop offset="0.252" stop-color="#0f0"/><stop offset="0.626" stop-color="#00ff3f"/><stop offset="1" stop-color="#00ffa2"/></linearGradient><linearGradient id="g150"><stop offset="0" stop-color="#1bff00"/><stop offset="0.133" stop-color="#10ff00"/><stop offset="0.267" stop-color="#0f0"/><stop offset="0.633" stop-color="#00ff43"/><stop offset="1" stop-color="#00ffa7"/></linearGradient><linearGradient id="g151"><stop offset="0" stop-color="#20ff00"/><stop offset="0.14" stop-color="#12ff00"/><stop offset="0.279" stop-color="#0f0"/><stop offset="0.64" stop-color="#00ff46"/><stop offset="1" stop-color="#00ffad"/></linearGradient><linearGradient id="g152"><stop offset="0" stop-color="#24ff00"/><stop offset="0.145" stop-color="#15ff00"/><stop offset="0.29" stop-color="#0f0"/><stop offset="0.645" stop-color="#00ff49"/><stop offset="1" stop-color="#00ffb2"/></linearGradient><linearGradient id="g153"><stop offset="0" stop-color="#29ff00"/><stop offset="0.149" stop-color="#17ff00"/><stop offset="0.299" stop-color="#0f0"/><stop offset="0.649" stop-color="#00ff4c"/><stop offset="1" stop-color="#00ffb8"/></linearGradient><linearGradient id="g154"><stop offset="0" stop-color="#2dff00"/><stop offset="0.153" stop-color="#19ff00"/><stop offset="0.307" stop-color="#0f0"/><stop offset="0.653" stop-color="#00ff50"/><stop offset="1" stop-color="#00ffbe"/></linearGradient><linearGradient id="g155"><stop offset="0" stop-color="#31ff00"/><stop offset="0.157" stop-color="#1cff00"/><stop offset="0.313" stop-color="#0f0"/><stop offset="0.657" stop-color="#00ff53"/><stop offset="1" stop-color="#00ffc3"/></linearGradient><linearGradient id="g156"><stop offset="0" stop-color="#36ff00"/><stop offset="0.16" stop-color="#1eff00"/><stop offset="0.319" stop-color="#0f0"/><stop offset="0.66" stop-color="#00ff56"/><stop offset="1" stop-color="#00ffc9"/></linearGradient><linearGradient id="g157"><stop offset="0" stop-color="#3aff00"/><stop offset="0.162" stop-color="#20ff00"/><stop offset="0.324" stop-color="#0f0"/><stop offset="0.662" stop-color="#00ff59"/><stop offset="1" stop-color="#00ffce"/></linearGradient><linearGradient id="g158"><stop offset="0" stop-color="#3eff00"/><stop offset="0.164" stop-color="#23ff00"/><stop offset="0.329" stop-color="#0f0"/><stop offset="0.664" stop-color="#00ff5c"/><stop offset="1" stop-color="#00ffd4"/></linearGradient><linearGradient id="g159"><stop offset="0" stop-color="#43ff00"/><stop offset="0.166" stop-color="#25ff00"/><stop offset="0.333" stop-color="#0f0"/><stop offset="0.666" stop-color="#00ff5f"/><stop offset="1" stop-color="#00ffda"/></linearGradient><linearGradient id="g160"><stop offset="0" stop-color="#47ff00"/><stop offset="0.168" stop-color="#27ff00"/><stop offset="0.336" stop-color="#0f0"/><stop offset="0.668" stop-color="#00ff62"/><stop offset="1" stop-color="#00ffe0"/></linearGradient><linearGradient id="g161"><stop offset="0" stop-color="#4bff00"/><stop offset="0.17" stop-color="#29ff00"/><stop offset="0.339" stop-color="#0f0"/><stop offset="0.67" stop-color="#00ff65"/><stop offset="1" stop-color="#00ffe5"/></linearGradient><linearGradient id="g162"><stop offset="0" stop-color="#4fff00"/><stop offset="0.171" stop-color="#2bff00"/><stop offset="0.342" stop-color="#0f0"/><stop offset="0.671" stop-color="#00ff68"/><stop offset="1" stop-color="#00ffeb"/></linearGradient><linearGradient id="g163"><stop offset="0" stop-color="#53ff00"/><stop offset="0.172" stop-color="#2dff00"/><stop offset="0.344" stop-color="#0f0"/><stop offset="0.672" stop-color="#00ff6b"/><stop offset="1" stop-color="#00fff1"/></linearGradient><linearGradient id="g164"><stop offset="0" stop-color="#57ff00"/><stop offset="0.173" stop-color="#2fff00"/><stop offset="0.347" stop-color="#0f0"/><stop offset="0.673" stop-color="#00ff6e"/><stop offset="1" stop-color="#00fff7"/></linearGradient><linearGradient id="g165"><stop offset="0" stop-color="#5bff00"/><stop offset="0.174" stop-color="#31ff00"/><stop offset="0.348" stop-color="#0f0"/><stop offset="0.674" stop-color="#00ff71"/><stop offset="1" stop-color="#00fffd"/></linearGradient><linearGradient id="g166"><stop offset="0" stop-color="#5fff00"/><stop offset="0.175" stop-color="#34ff00"/><stop offset="0.35" stop-color="#0f0"/><stop offset="0.671" stop-color="#00ff72"/><stop offset="0.992" stop-color="#0ff"/><stop offset="1" stop-color="#00faff"/></linearGradient><linearGradient id="g167"><stop offset="0" stop-color="#63ff00"/><stop offset="0.176" stop-color="#36ff00"/><stop offset="0.352" stop-color="#0f0"/><stop offset="0.666" stop-color="#00ff73"/><stop offset="0.979" stop-color="#0ff"/><stop offset="1" stop-color="#00f3ff"/></linearGradient><linearGradient id="g168"><stop offset="0" stop-color="#67ff00"/><stop offset="0.176" stop-color="#38ff00"/><stop offset="0.353" stop-color="#0f0"/><stop offset="0.66" stop-color="#00ff74"/><stop offset="0.968" stop-color="#0ff"/><stop offset="1" stop-color="#00ecff"/></linearGradient><linearGradient id="g169"><stop offset="0" stop-color="#6bff00"/><stop offset="0.177" stop-color="#39ff00"/><stop offset="0.354" stop-color="#0f0"/><stop offset="0.655" stop-color="#00ff74"/><stop offset="0.956" stop-color="#0ff"/><stop offset="1" stop-color="#00e5ff"/></linearGradient><linearGradient id="g170"><stop offset="0" stop-color="#6fff00"/><stop offset="0.177" stop-color="#3bff00"/><stop offset="0.355" stop-color="#0f0"/><stop offset="0.65" stop-color="#00ff74"/><stop offset="0.945" stop-color="#0ff"/><stop offset="1" stop-color="#00deff"/></linearGradient><linearGradient id="g171"><stop offset="0" stop-color="#73ff00"/><stop offset="0.178" stop-color="#3dff00"/><stop offset="0.356" stop-color="#0f0"/><stop offset="0.645" stop-color="#00ff75"/><stop offset="0.934" stop-color="#0ff"/><stop offset="1" stop-color="#00d7ff"/></linearGradient><linearGradient id="g172"><stop offset="0" stop-color="#7f0"/><stop offset="0.178" stop-color="#3fff00"/><stop offset="0.356" stop-color="#0f0"/><stop offset="0.64" stop-color="#00ff75"/><stop offset="0.924" stop-color="#0ff"/><stop offset="1" stop-color="#00d0ff"/></linearGradient><linearGradient id="g173"><stop offset="0" stop-color="#7aff00"/><stop offset="0.178" stop-color="#41ff00"/><stop offset="0.357" stop-color="#0f0"/><stop offset="0.635" stop-color="#00ff76"/><stop offset="0.913" stop-color="#0ff"/><stop offset="1" stop-color="#00c9ff"/></linearGradient><linearGradient id="g174"><stop offset="0" stop-color="#7eff00"/><stop offset="0.179" stop-color="#43ff00"/><stop offset="0.357" stop-color="#0f0"/><stop offset="0.63" stop-color="#00ff76"/><stop offset="0.903" stop-color="#0ff"/><stop offset="1" stop-color="#00c2ff"/></linearGradient><linearGradient id="g175"><stop offset="0" stop-color="#82ff00"/><stop offset="0.179" stop-color="#45ff00"/><stop offset="0.358" stop-color="#0f0"/><stop offset="0.626" stop-color="#00ff76"/><stop offset="0.893" stop-color="#0ff"/><stop offset="1" stop-color="#00baff"/></linearGradient><linearGradient id="g176"><stop offset="0" stop-color="#85ff00"/><stop offset="0.179" stop-color="#47ff00"/><stop offset="0.358" stop-color="#0f0"/><stop offset="0.621" stop-color="#0f7"/><stop offset="0.884" stop-color="#0ff"/><stop offset="1" stop-color="#00b3ff"/></linearGradient><linearGradient id="g177"><stop offset="0" stop-color="#89ff00"/><stop offset="0.179" stop-color="#49ff00"/><stop offset="0.358" stop-color="#0f0"/><stop offset="0.616" stop-color="#0f7"/><stop offset="0.875" stop-color="#0ff"/><stop offset="1" stop-color="#00acff"/></linearGradient><linearGradient id="g178"><stop offset="0" stop-color="#8dff00"/><stop offset="0.179" stop-color="#4aff00"/><stop offset="0.358" stop-color="#0f0"/><stop offset="0.612" stop-color="#0f7"/><stop offset="0.866" stop-color="#0ff"/><stop offset="1" stop-color="#00a4ff"/></linearGradient><linearGradient id="g179"><stop offset="0" stop-color="#90ff00"/><stop offset="0.179" stop-color="#4cff00"/><stop offset="0.358" stop-color="#0f0"/><stop offset="0.607" stop-color="#00ff78"/><stop offset="0.857" stop-color="#0ff"/><stop offset="1" stop-color="#009dff"/></linearGradient><linearGradient id="g180"><stop offset="0" stop-color="#94ff00"/><stop offset="0.179" stop-color="#4eff00"/><stop offset="0.358" stop-color="#0f0"/><stop offset="0.603" stop-color="#00ff78"/><stop offset="0.848" stop-color="#0ff"/><stop offset="0.924" stop-color="#00cbff"/><stop offset="1" stop-color="#0095ff"/></linearGradient><linearGradient id="g181"><stop offset="0" stop-color="#97ff00"/><stop offset="0.179" stop-color="#50ff00"/><stop offset="0.358" stop-color="#0f0"/><stop offset="0.599" stop-color="#00ff78"/><stop offset="0.84" stop-color="#0ff"/><stop offset="0.92" stop-color="#00c7ff"/><stop offset="1" stop-color="#008eff"/></linearGradient><linearGradient id="g182"><stop offset="0" stop-color="#9bff00"/><stop offset="0.179" stop-color="#51ff00"/><stop offset="0.357" stop-color="#0f0"/><stop offset="0.595" stop-color="#00ff78"/><stop offset="0.832" stop-color="#0ff"/><stop offset="0.916" stop-color="#00c4ff"/><stop offset="1" stop-color="#0086ff"/></linearGradient><linearGradient id="g183"><stop offset="0" stop-color="#9eff00"/><stop offset="0.179" stop-color="#53ff00"/><stop offset="0.357" stop-color="#0f0"/><stop offset="0.59" stop-color="#00ff79"/><stop offset="0.824" stop-color="#0ff"/><stop offset="0.912" stop-color="#00c0ff"/><stop offset="1" stop-color="#007fff"/></linearGradient><linearGradient id="g184"><stop offset="0" stop-color="#a1ff00"/><stop offset="0.178" stop-color="#5f0"/><stop offset="0.357" stop-color="#0f0"/><stop offset="0.586" stop-color="#00ff79"/><stop offset="0.816" stop-color="#0ff"/><stop offset="0.908" stop-color="#00bcff"/><stop offset="1" stop-color="#07f"/></linearGradient><linearGradient id="g185"><stop offset="0" stop-color="#a5ff00"/><stop offset="0.178" stop-color="#56ff00"/><stop offset="0.356" stop-color="#0f0"/><stop offset="0.582" stop-color="#00ff79"/><stop offset="0.808" stop-color="#0ff"/><stop offset="0.904" stop-color="#00b9ff"/><stop offset="1" stop-color="#006fff"/></linearGradient><linearGradient id="g186"><stop offset="0" stop-color="#a8ff00"/><stop offset="0.178" stop-color="#58ff00"/><stop offset="0.356" stop-color="#0f0"/><stop offset="0.578" stop-color="#00ff79"/><stop offset="0.8" stop-color="#0ff"/><stop offset="0.9" stop-color="#00b5ff"/><stop offset="1" stop-color="#0068ff"/></linearGradient><linearGradient id="g187"><stop offset="0" stop-color="#abff00"/><stop offset="0.178" stop-color="#5aff00"/><stop offset="0.355" stop-color="#0f0"/><stop offset="0.574" stop-color="#00ff79"/><stop offset="0.793" stop-color="#0ff"/><stop offset="0.897" stop-color="#00b1ff"/><stop offset="1" stop-color="#0060ff"/></linearGradient><linearGradient id="g188"><stop offset="0" stop-color="#afff00"/><stop offset="0.177" stop-color="#5bff00"/><stop offset="0.355" stop-color="#0f0"/><stop offset="0.57" stop-color="#00ff7a"/><stop offset="0.786" stop-color="#0ff"/><stop offset="0.893" stop-color="#00adff"/><stop offset="1" stop-color="#0058ff"/></linearGradient><linearGradient id="g189"><stop offset="0" stop-color="#b1ff00"/><stop offset="0.177" stop-color="#5dff00"/><stop offset="0.354" stop-color="#0f0"/><stop offset="0.567" stop-color="#00ff7a"/><stop offset="0.78" stop-color="#0ff"/><stop offset="0.89" stop-color="#0af"/><stop offset="1" stop-color="#0051ff"/></linearGradient><linearGradient id="g190"><stop offset="0" stop-color="#ebff00"/><stop offset="0.19" stop-color="#71ff00"/><stop offset="0.38" stop-color="#0f0"/><stop offset="0.633" stop-color="#0f8"/><stop offset="0.887" stop-color="#0ff"/><stop offset="1" stop-color="#00c7ff"/></linearGradient><linearGradient id="g191"><stop offset="0" stop-color="#e6ff00"/><stop offset="0.19" stop-color="#6eff00"/><stop offset="0.38" stop-color="#0f0"/><stop offset="0.641" stop-color="#0f8"/><stop offset="0.903" stop-color="#0ff"/><stop offset="1" stop-color="#00d1ff"/></linearGradient><linearGradient id="g192"><stop offset="0" stop-color="#e0ff00"/><stop offset="0.19" stop-color="#6bff00"/><stop offset="0.38" stop-color="#0f0"/><stop offset="0.65" stop-color="#00ff89"/><stop offset="0.921" stop-color="#0ff"/><stop offset="1" stop-color="#00dbff"/></linearGradient><linearGradient id="g193"><stop offset="0" stop-color="#dbff00"/><stop offset="0.19" stop-color="#69ff00"/><stop offset="0.379" stop-color="#0f0"/><stop offset="0.66" stop-color="#00ff8a"/><stop offset="0.94" stop-color="#0ff"/><stop offset="1" stop-color="#00e5ff"/></linearGradient><linearGradient id="g194"><stop offset="0" stop-color="#d6ff00"/><stop offset="0.19" stop-color="#6f0"/><stop offset="0.379" stop-color="#0f0"/><stop offset="0.67" stop-color="#00ff8a"/><stop offset="0.961" stop-color="#0ff"/><stop offset="1" stop-color="#00efff"/></linearGradient><linearGradient id="g195"><stop offset="0" stop-color="#d0ff00"/><stop offset="0.189" stop-color="#64ff00"/><stop offset="0.379" stop-color="#0f0"/><stop offset="0.681" stop-color="#00ff8b"/><stop offset="0.983" stop-color="#0ff"/><stop offset="1" stop-color="#00f8ff"/></linearGradient><linearGradient id="g196"><stop offset="0" stop-color="#cbff00"/><stop offset="0.189" stop-color="#61ff00"/><stop offset="0.378" stop-color="#0f0"/><stop offset="0.689" stop-color="#00ff8b"/><stop offset="1" stop-color="#00fffc"/></linearGradient><linearGradient id="g197"><stop offset="0" stop-color="#c6ff00"/><stop offset="0.189" stop-color="#5eff00"/><stop offset="0.378" stop-color="#0f0"/><stop offset="0.689" stop-color="#00ff87"/><stop offset="1" stop-color="#00fff4"/></linearGradient><linearGradient id="g198"><stop offset="0" stop-color="#c0ff00"/><stop offset="0.189" stop-color="#5bff00"/><stop offset="0.377" stop-color="#0f0"/><stop offset="0.689" stop-color="#00ff83"/><stop offset="1" stop-color="#00ffec"/></linearGradient><linearGradient id="g199"><stop offset="0" stop-color="#bf0"/><stop offset="0.188" stop-color="#59ff00"/><stop offset="0.377" stop-color="#0f0"/><stop offset="0.688" stop-color="#00ff7e"/><stop offset="1" stop-color="#00ffe4"/></linearGradient><linearGradient id="g200"><stop offset="0" stop-color="#b5ff00"/><stop offset="0.188" stop-color="#56ff00"/><stop offset="0.376" stop-color="#0f0"/><stop offset="0.688" stop-color="#00ff7a"/><stop offset="1" stop-color="#00ffdc"/></linearGradient><linearGradient id="g201"><stop offset="0" stop-color="#afff00"/><stop offset="0.187" stop-color="#53ff00"/><stop offset="0.375" stop-color="#0f0"/><stop offset="0.687" stop-color="#00ff76"/><stop offset="1" stop-color="#00ffd3"/></linearGradient><linearGradient id="g202"><stop offset="0" stop-color="#af0"/><stop offset="0.187" stop-color="#50ff00"/><stop offset="0.373" stop-color="#0f0"/><stop offset="0.687" stop-color="#00ff72"/><stop offset="1" stop-color="#00ffcb"/></linearGradient><linearGradient id="g203"><stop offset="0" stop-color="#a4ff00"/><stop offset="0.186" stop-color="#4eff00"/><stop offset="0.372" stop-color="#0f0"/><stop offset="0.686" stop-color="#00ff6e"/><stop offset="1" stop-color="#00ffc3"/></linearGradient><linearGradient id="g204"><stop offset="0" stop-color="#9eff00"/><stop offset="0.185" stop-color="#4bff00"/><stop offset="0.37" stop-color="#0f0"/><stop offset="0.685" stop-color="#00ff6b"/><stop offset="1" stop-color="#0fb"/></linearGradient><linearGradient id="g205"><stop offset="0" stop-color="#9f0"/><stop offset="0.184" stop-color="#48ff00"/><stop offset="0.369" stop-color="#0f0"/><stop offset="0.684" stop-color="#00ff67"/><stop offset="1" stop-color="#00ffb3"/></linearGradient><linearGradient id="g206"><stop offset="0" stop-color="#93ff00"/><stop offset="0.183" stop-color="#45ff00"/><stop offset="0.366" stop-color="#0f0"/><stop offset="0.683" stop-color="#00ff63"/><stop offset="1" stop-color="#00ffab"/></linearGradient><linearGradient id="g207"><stop offset="0" stop-color="#8dff00"/><stop offset="0.182" stop-color="#42ff00"/><stop offset="0.364" stop-color="#0f0"/><stop offset="0.682" stop-color="#00ff5f"/><stop offset="1" stop-color="#00ffa3"/></linearGradient><linearGradient id="g208"><stop offset="0" stop-color="#87ff00"/><stop offset="0.181" stop-color="#3fff00"/><stop offset="0.361" stop-color="#0f0"/><stop offset="0.681" stop-color="#00ff5b"/><stop offset="1" stop-color="#00ff9c"/></linearGradient><linearGradient id="g209"><stop offset="0" stop-color="#81ff00"/><stop offset="0.179" stop-color="#3cff00"/><stop offset="0.358" stop-color="#0f0"/><stop offset="0.679" stop-color="#00ff57"/><stop offset="1" stop-color="#00ff94"/></linearGradient><linearGradient id="g210"><stop offset="0" stop-color="#7bff00"/><stop offset="0.177" stop-color="#39ff00"/><stop offset="0.355" stop-color="#0f0"/><stop offset="0.677" stop-color="#00ff54"/><stop offset="1" stop-color="#00ff8c"/></linearGradient><linearGradient id="g211"><stop offset="0" stop-color="#75ff00"/><stop offset="0.176" stop-color="#37ff00"/><stop offset="0.351" stop-color="#0f0"/><stop offset="0.676" stop-color="#00ff50"/><stop offset="1" stop-color="#00ff84"/></linearGradient><linearGradient id="g212"><stop offset="0" stop-color="#6fff00"/><stop offset="0.173" stop-color="#34ff00"/><stop offset="0.347" stop-color="#0f0"/><stop offset="0.673" stop-color="#00ff4c"/><stop offset="1" stop-color="#00ff7c"/></linearGradient><linearGradient id="g213"><stop offset="0" stop-color="#69ff00"/><stop offset="0.171" stop-color="#31ff00"/><stop offset="0.342" stop-color="#0f0"/><stop offset="0.671" stop-color="#00ff49"/><stop offset="1" stop-color="#00ff75"/></linearGradient><linearGradient id="g214"><stop offset="0" stop-color="#63ff00"/><stop offset="0.168" stop-color="#2eff00"/><stop offset="0.336" stop-color="#0f0"/><stop offset="0.668" stop-color="#00ff45"/><stop offset="1" stop-color="#00ff6d"/></linearGradient><linearGradient id="g215"><stop offset="0" stop-color="#5dff00"/><stop offset="0.165" stop-color="#2bff00"/><stop offset="0.33" stop-color="#0f0"/><stop offset="0.665" stop-color="#00ff41"/><stop offset="1" stop-color="#0f6"/></linearGradient><linearGradient id="g216"><stop offset="0" stop-color="#57ff00"/><stop offset="0.161" stop-color="#28ff00"/><stop offset="0.322" stop-color="#0f0"/><stop offset="0.661" stop-color="#00ff3e"/><stop offset="1" stop-color="#00ff5e"/></linearGradient><linearGradient id="g217"><stop offset="0" stop-color="#50ff00"/><stop offset="0.157" stop-color="#25ff00"/><stop offset="0.314" stop-color="#0f0"/><stop offset="0.657" stop-color="#00ff3b"/><stop offset="1" stop-color="#00ff57"/></linearGradient><linearGradient id="g218"><stop offset="0" stop-color="#4aff00"/><stop offset="0.152" stop-color="#2f0"/><stop offset="0.304" stop-color="#0f0"/><stop offset="0.652" stop-color="#00ff37"/><stop offset="1" stop-color="#00ff4f"/></linearGradient><linearGradient id="g219"><stop offset="0" stop-color="#4f0"/><stop offset="0.147" stop-color="#1fff00"/><stop offset="0.293" stop-color="#0f0"/><stop offset="0.647" stop-color="#00ff34"/><stop offset="1" stop-color="#00ff48"/></linearGradient><linearGradient id="g220"><stop offset="0" stop-color="#3eff00"/><stop offset="0.14" stop-color="#1cff00"/><stop offset="0.281" stop-color="#0f0"/><stop offset="0.64" stop-color="#00ff31"/><stop offset="1" stop-color="#00ff40"/></linearGradient><linearGradient id="g221"><stop offset="0" stop-color="#37ff00"/><stop offset="0.133" stop-color="#19ff00"/><stop offset="0.266" stop-color="#0f0"/><stop offset="0.633" stop-color="#00ff2e"/><stop offset="1" stop-color="#00ff39"/></linearGradient><linearGradient id="g222"><stop offset="0" stop-color="#31ff00"/><stop offset="0.124" stop-color="#16ff00"/><stop offset="0.249" stop-color="#0f0"/><stop offset="0.624" stop-color="#00ff2b"/><stop offset="1" stop-color="#00ff32"/></linearGradient><linearGradient id="g223"><stop offset="0" stop-color="#2aff00"/><stop offset="0.114" stop-color="#13ff00"/><stop offset="0.229" stop-color="#0f0"/><stop offset="0.614" stop-color="#00ff28"/><stop offset="1" stop-color="#00ff2a"/></linearGradient><linearGradient id="g224"><stop offset="0" stop-color="#24ff00"/><stop offset="0.103" stop-color="#1f0"/><stop offset="0.206" stop-color="#0f0"/><stop offset="0.603" stop-color="#00ff26"/><stop offset="1" stop-color="#00ff23"/></linearGradient><linearGradient id="g225"><stop offset="0" stop-color="#1dff00"/><stop offset="0.089" stop-color="#0eff00"/><stop offset="0.179" stop-color="#0f0"/><stop offset="0.589" stop-color="#00ff24"/><stop offset="1" stop-color="#00ff1c"/></linearGradient><linearGradient id="g226"><stop offset="0" stop-color="#17ff00"/><stop offset="0.147" stop-color="#0f0"/><stop offset="0.574" stop-color="#0f2"/><stop offset="1" stop-color="#00ff15"/></linearGradient><linearGradient id="g227"><stop offset="0" stop-color="#10ff00"/><stop offset="0.111" stop-color="#0f0"/><stop offset="0.556" stop-color="#00ff20"/><stop offset="1" stop-color="#00ff0d"/></linearGradient><linearGradient id="g228"><stop offset="0" stop-color="#0aff00"/><stop offset="0.069" stop-color="#0f0"/><stop offset="0.535" stop-color="#00ff1f"/><stop offset="1" stop-color="#00ff06"/></linearGradient><linearGradient id="g229"><stop offset="0" stop-color="#03ff00"/><stop offset="0.022" stop-color="#0f0"/><stop offset="0.508" stop-color="#00ff1f"/><stop offset="0.995" stop-color="#0f0"/><stop offset="1" stop-color="#01ff00"/></linearGradient><linearGradient id="g230"><stop offset="0" stop-color="#00ff04"/><stop offset="0.471" stop-color="#00ff1f"/><stop offset="0.943" stop-color="#0f0"/><stop offset="1" stop-color="#08ff00"/></linearGradient><linearGradient id="g231"><stop offset="0" stop-color="#00ff0b"/><stop offset="0.448" stop-color="#00ff20"/><stop offset="0.897" stop-color="#0f0"/><stop offset="1" stop-color="#0fff00"/></linearGradient><linearGradient id="g232"><stop offset="0" stop-color="#0f1"/><stop offset="0.428" stop-color="#00ff21"/><stop offset="0.857" stop-color="#0f0"/><stop offset="1" stop-color="#16ff00"/></linearGradient><linearGradient id="g233"><stop offset="0" stop-color="#00ff18"/><stop offset="0.411" stop-color="#0f2"/><stop offset="0.822" stop-color="#0f0"/><stop offset="0.911" stop-color="#0dff00"/><stop offset="1" stop-color="#1cff00"/></linearGradient><linearGradient id="g234"><stop offset="0" stop-color="#00ff1f"/><stop offset="0.396" stop-color="#00ff24"/><stop offset="0.792" stop-color="#0f0"/><stop offset="0.896" stop-color="#10ff00"/><stop offset="1" stop-color="#23ff00"/></linearGradient><linearGradient id="g235"><stop offset="0" stop-color="#00ff26"/><stop offset="0.383" stop-color="#00ff26"/><stop offset="0.766" stop-color="#0f0"/><stop offset="0.883" stop-color="#13ff00"/><stop offset="1" stop-color="#2aff00"/></linearGradient><linearGradient id="g236"><stop offset="0" stop-color="#00ff2d"/><stop offset="0.372" stop-color="#00ff28"/><stop offset="0.743" stop-color="#0f0"/><stop offset="0.872" stop-color="#16ff00"/><stop offset="1" stop-color="#31ff00"/></linearGradient><linearGradient id="g237"><stop offset="0" stop-color="#00ff34"/><stop offset="0.362" stop-color="#00ff2b"/><stop offset="0.724" stop-color="#0f0"/><stop offset="0.862" stop-color="#19ff00"/><stop offset="1" stop-color="#38ff00"/></linearGradient><linearGradient id="g238"><stop offset="0" stop-color="#00ff3b"/><stop offset="0.354" stop-color="#00ff2e"/><stop offset="0.708" stop-color="#0f0"/><stop offset="0.854" stop-color="#1cff00"/><stop offset="1" stop-color="#3eff00"/></linearGradient><linearGradient id="g239"><stop offset="0" stop-color="#00ff42"/><stop offset="0.347" stop-color="#00ff31"/><stop offset="0.694" stop-color="#0f0"/><stop offset="0.847" stop-color="#1fff00"/><stop offset="1" stop-color="#45ff00"/></linearGradient><linearGradient id="g240"><stop offset="0" stop-color="#00ff49"/><stop offset="0.341" stop-color="#00ff34"/><stop offset="0.682" stop-color="#0f0"/><stop offset="0.841" stop-color="#23ff00"/><stop offset="1" stop-color="#4cff00"/></linearGradient><linearGradient id="g241"><stop offset="0" stop-color="#00ff50"/><stop offset="0.335" stop-color="#00ff37"/><stop offset="0.671" stop-color="#0f0"/><stop offset="0.835" stop-color="#26ff00"/><stop offset="1" stop-color="#52ff00"/></linearGradient><linearGradient id="g242"><stop offset="0" stop-color="#00ff58"/><stop offset="0.331" stop-color="#00ff3a"/><stop offset="0.662" stop-color="#0f0"/><stop offset="0.831" stop-color="#29ff00"/><stop offset="1" stop-color="#59ff00"/></linearGradient><linearGradient id="g243"><stop offset="0" stop-color="#00ff5f"/><stop offset="0.327" stop-color="#00ff3d"/><stop offset="0.654" stop-color="#0f0"/><stop offset="0.827" stop-color="#2cff00"/><stop offset="1" stop-color="#5fff00"/></linearGradient><linearGradient id="g244"><stop offset="0" stop-color="#0f6"/><stop offset="0.323" stop-color="#00ff41"/><stop offset="0.647" stop-color="#0f0"/><stop offset="0.823" stop-color="#2fff00"/><stop offset="1" stop-color="#6f0"/></linearGradient><linearGradient id="g245"><stop offset="0" stop-color="#00ff6d"/><stop offset="0.32" stop-color="#0f4"/><stop offset="0.64" stop-color="#0f0"/><stop offset="0.82" stop-color="#32ff00"/><stop offset="1" stop-color="#6cff00"/></linearGradient><linearGradient id="g246"><stop offset="0" stop-color="#00ff75"/><stop offset="0.317" stop-color="#00ff47"/><stop offset="0.635" stop-color="#0f0"/><stop offset="0.817" stop-color="#35ff00"/><stop offset="1" stop-color="#73ff00"/></linearGradient><linearGradient id="g247"><stop offset="0" stop-color="#00ff7c"/><stop offset="0.315" stop-color="#00ff4b"/><stop offset="0.63" stop-color="#0f0"/><stop offset="0.815" stop-color="#38ff00"/><stop offset="1" stop-color="#79ff00"/></linearGradient><linearGradient id="g248"><stop offset="0" stop-color="#00ff83"/><stop offset="0.313" stop-color="#00ff4e"/><stop offset="0.626" stop-color="#0f0"/><stop offset="0.813" stop-color="#3bff00"/><stop offset="1" stop-color="#7fff00"/></linearGradient><linearGradient id="g249"><stop offset="0" stop-color="#00ff8b"/><stop offset="0.311" stop-color="#00ff52"/><stop offset="0.622" stop-color="#0f0"/><stop offset="0.811" stop-color="#3eff00"/><stop offset="1" stop-color="#86ff00"/></linearGradient><linearGradient id="g250"><stop offset="0" stop-color="#00ff92"/><stop offset="0.309" stop-color="#00ff56"/><stop offset="0.619" stop-color="#0f0"/><stop offset="0.809" stop-color="#41ff00"/><stop offset="1" stop-color="#8cff00"/></linearGradient><linearGradient id="g251"><stop offset="0" stop-color="#00ff9a"/><stop offset="0.308" stop-color="#00ff59"/><stop offset="0.616" stop-color="#0f0"/><stop offset="0.808" stop-color="#4f0"/><stop offset="1" stop-color="#92ff00"/></linearGradient><linearGradient id="g252"><stop offset="0" stop-color="#00ffa2"/><stop offset="0.307" stop-color="#00ff5d"/><stop offset="0.613" stop-color="#0f0"/><stop offset="0.807" stop-color="#47ff00"/><stop offset="1" stop-color="#98ff00"/></linearGradient><linearGradient id="g253"><stop offset="0" stop-color="#00ffa9"/><stop offset="0.305" stop-color="#00ff61"/><stop offset="0.611" stop-color="#0f0"/><stop offset="0.805" stop-color="#4aff00"/><stop offset="1" stop-color="#9eff00"/></linearGradient><linearGradient id="g254"><stop offset="0" stop-color="#00ffb1"/><stop offset="0.304" stop-color="#00ff64"/><stop offset="0.609" stop-color="#0f0"/><stop offset="0.804" stop-color="#4dff00"/><stop offset="1" stop-color="#a4ff00"/></linearGradient><linearGradient id="g255"><stop offset="0" stop-color="#00ffb8"/><stop offset="0.304" stop-color="#00ff68"/><stop offset="0.607" stop-color="#0f0"/><stop offset="0.804" stop-color="#50ff00"/><stop offset="1" stop-color="#af0"/></linearGradient><linearGradient id="g256"><stop offset="0" stop-color="#00ffc0"/><stop offset="0.303" stop-color="#00ff6c"/><stop offset="0.606" stop-color="#0f0"/><stop offset="0.803" stop-color="#53ff00"/><stop offset="1" stop-color="#b0ff00"/></linearGradient><linearGradient id="g257"><stop offset="0" stop-color="#00ffc8"/><stop offset="0.302" stop-color="#00ff70"/><stop offset="0.604" stop-color="#0f0"/><stop offset="0.802" stop-color="#56ff00"/><stop offset="1" stop-color="#b6ff00"/></linearGradient><linearGradient id="g258"><stop offset="0" stop-color="#00ffd0"/><stop offset="0.302" stop-color="#00ff74"/><stop offset="0.603" stop-color="#0f0"/><stop offset="0.802" stop-color="#59ff00"/><stop offset="1" stop-color="#bcff00"/></linearGradient><linearGradient id="g259"><stop offset="0" stop-color="#00ffd8"/><stop offset="0.301" stop-color="#00ff78"/><stop offset="0.602" stop-color="#0f0"/><stop offset="0.801" stop-color="#5cff00"/><stop offset="1" stop-color="#c2ff00"/></linearGradient><linearGradient id="g260"><stop offset="0" stop-color="#00ffdf"/><stop offset="0.301" stop-color="#00ff7b"/><stop offset="0.601" stop-color="#0f0"/><stop offset="0.801" stop-color="#5fff00"/><stop offset="1" stop-color="#c8ff00"/></linearGradient><linearGradient id="g261"><stop offset="0" stop-color="#00ffe7"/><stop offset="0.3" stop-color="#00ff7f"/><stop offset="0.601" stop-color="#0f0"/><stop offset="0.8" stop-color="#62ff00"/><stop offset="1" stop-color="#ceff00"/></linearGradient><linearGradient id="g262"><stop offset="0" stop-color="#00ffef"/><stop offset="0.3" stop-color="#00ff83"/><stop offset="0.6" stop-color="#0f0"/><stop offset="0.8" stop-color="#65ff00"/><stop offset="1" stop-color="#d4ff00"/></linearGradient><linearGradient id="g263"><stop offset="0" stop-color="#00fff7"/><stop offset="0.3" stop-color="#00ff87"/><stop offset="0.599" stop-color="#0f0"/><stop offset="0.8" stop-color="#67ff00"/><stop offset="1" stop-color="#d9ff00"/></linearGradient><linearGradient id="g264"><stop offset="0" stop-color="#0ff"/><stop offset="0.001" stop-color="#0ff"/><stop offset="0.3" stop-color="#00ff8b"/><stop offset="0.599" stop-color="#0f0"/><stop offset="0.799" stop-color="#6aff00"/><stop offset="1" stop-color="#dfff00"/></linearGradient><linearGradient id="g265"><stop offset="0" stop-color="#00f5ff"/><stop offset="0.023" stop-color="#0ff"/><stop offset="0.311" stop-color="#00ff8a"/><stop offset="0.599" stop-color="#0f0"/><stop offset="0.799" stop-color="#6dff00"/><stop offset="1" stop-color="#e5ff00"/></linearGradient><linearGradient id="g266"><stop offset="0" stop-color="#00ecff"/><stop offset="0.043" stop-color="#0ff"/><stop offset="0.321" stop-color="#00ff8a"/><stop offset="0.598" stop-color="#0f0"/><stop offset="0.799" stop-color="#70ff00"/><stop offset="1" stop-color="#eaff00"/></linearGradient><linearGradient id="g267"><stop offset="0" stop-color="#00e2ff"/><stop offset="0.062" stop-color="#0ff"/><stop offset="0.33" stop-color="#00ff89"/><stop offset="0.598" stop-color="#0f0"/><stop offset="0.799" stop-color="#73ff00"/><stop offset="1" stop-color="#f0ff00"/></linearGradient><linearGradient id="g268"><stop offset="0" stop-color="#00d9ff"/><stop offset="0.079" stop-color="#0ff"/><stop offset="0.339" stop-color="#0f8"/><stop offset="0.598" stop-color="#0f0"/><stop offset="0.799" stop-color="#76ff00"/><stop offset="1" stop-color="#f6ff00"/></linearGradient><linearGradient id="g269"><stop offset="0" stop-color="#00cfff"/><stop offset="0.096" stop-color="#0ff"/><stop offset="0.347" stop-color="#0f8"/><stop offset="0.598" stop-color="#0f0"/><stop offset="0.799" stop-color="#78ff00"/><stop offset="1" stop-color="#fbff00"/></linearGradient><linearGradient id="g270"><stop offset="0" stop-color="#00c6ff"/><stop offset="0.111" stop-color="#0ff"/><stop offset="0.355" stop-color="#00ff87"/><stop offset="0.598" stop-color="#0f0"/><stop offset="0.798" stop-color="#7aff00"/><stop offset="0.998" stop-color="#ff0"/><stop offset="1" stop-color="#fffe00"/></linearGradient><linearGradient id="g271"><stop offset="0" stop-color="#00bcff"/><stop offset="0.125" stop-color="#0ff"/><stop offset="0.362" stop-color="#00ff87"/><stop offset="0.599" stop-color="#0f0"/><stop offset="0.794" stop-color="#7bff00"/><stop offset="0.99" stop-color="#ff0"/><stop offset="1" stop-color="#fff800"/></linearGradient><linearGradient id="g272"><stop offset="0" stop-color="#00b3ff"/><stop offset="0.139" stop-color="#0ff"/><stop offset="0.369" stop-color="#00ff86"/><stop offset="0.599" stop-color="#0f0"/><stop offset="0.791" stop-color="#7bff00"/><stop offset="0.983" stop-color="#ff0"/><stop offset="1" stop-color="#fff300"/></linearGradient><linearGradient id="g273"><stop offset="0" stop-color="#00a9ff"/><stop offset="0.076" stop-color="#00d3ff"/><stop offset="0.151" stop-color="#0ff"/><stop offset="0.375" stop-color="#00ff86"/><stop offset="0.599" stop-color="#0f0"/><stop offset="0.787" stop-color="#7bff00"/><stop offset="0.976" stop-color="#ff0"/><stop offset="1" stop-color="#fe0"/></linearGradient><linearGradient id="g274"><stop offset="0" stop-color="#009fff"/><stop offset="0.082" stop-color="#00ceff"/><stop offset="0.163" stop-color="#0ff"/><stop offset="0.381" stop-color="#00ff86"/><stop offset="0.599" stop-color="#0f0"/><stop offset="0.784" stop-color="#7bff00"/><stop offset="0.969" stop-color="#ff0"/><stop offset="1" stop-color="#ffe900"/></linearGradient><linearGradient id="g275"><stop offset="0" stop-color="#0095ff"/><stop offset="0.087" stop-color="#00c9ff"/><stop offset="0.175" stop-color="#0ff"/><stop offset="0.387" stop-color="#00ff85"/><stop offset="0.6" stop-color="#0f0"/><stop offset="0.781" stop-color="#7bff00"/><stop offset="0.963" stop-color="#ff0"/><stop offset="1" stop-color="#ffe400"/></linearGradient><linearGradient id="g276"><stop offset="0" stop-color="#008cff"/><stop offset="0.093" stop-color="#00c4ff"/><stop offset="0.186" stop-color="#0ff"/><stop offset="0.393" stop-color="#00ff85"/><stop offset="0.6" stop-color="#0f0"/><stop offset="0.778" stop-color="#7bff00"/><stop offset="0.956" stop-color="#ff0"/><stop offset="1" stop-color="#ffde00"/></linearGradient><linearGradient id="g277"><stop offset="0" stop-color="#0082ff"/><stop offset="0.098" stop-color="#00bfff"/><stop offset="0.196" stop-color="#0ff"/><stop offset="0.398" stop-color="#00ff85"/><stop offset="0.6" stop-color="#0f0"/><stop offset="0.775" stop-color="#7cff00"/><stop offset="0.95" stop-color="#ff0"/><stop offset="1" stop-color="#ffd900"/></linearGradient><linearGradient id="g278"><stop offset="0" stop-color="#0078ff"/><stop offset="0.103" stop-color="#00baff"/><stop offset="0.206" stop-color="#0ff"/><stop offset="0.403" stop-color="#00ff85"/><stop offset="0.601" stop-color="#0f0"/><stop offset="0.773" stop-color="#7cff00"/><stop offset="0.945" stop-color="#ff0"/><stop offset="1" stop-color="#ffd400"/></linearGradient><linearGradient id="g279"><stop offset="0" stop-color="#006eff"/><stop offset="0.108" stop-color="#00b5ff"/><stop offset="0.215" stop-color="#0ff"/><stop offset="0.408" stop-color="#00ff84"/><stop offset="0.601" stop-color="#0f0"/><stop offset="0.77" stop-color="#7cff00"/><stop offset="0.939" stop-color="#ff0"/><stop offset="1" stop-color="#ffcf00"/></linearGradient><linearGradient id="g280"><stop offset="0" stop-color="#0064ff"/><stop offset="0.112" stop-color="#00afff"/><stop offset="0.225" stop-color="#0ff"/><stop offset="0.413" stop-color="#00ff84"/><stop offset="0.602" stop-color="#0f0"/><stop offset="0.768" stop-color="#7cff00"/><stop offset="0.934" stop-color="#ff0"/><stop offset="1" stop-color="#ffca00"/></linearGradient><linearGradient id="g281"><stop offset="0" stop-color="#005aff"/><stop offset="0.117" stop-color="#0af"/><stop offset="0.233" stop-color="#0ff"/><stop offset="0.418" stop-color="#00ff84"/><stop offset="0.603" stop-color="#0f0"/><stop offset="0.766" stop-color="#7cff00"/><stop offset="0.929" stop-color="#ff0"/><stop offset="1" stop-color="#ffc600"/></linearGradient><linearGradient id="g282"><stop offset="0" stop-color="#0050ff"/><stop offset="0.121" stop-color="#00a5ff"/><stop offset="0.242" stop-color="#0ff"/><stop offset="0.422" stop-color="#00ff84"/><stop offset="0.603" stop-color="#0f0"/><stop offset="0.764" stop-color="#7cff00"/><stop offset="0.924" stop-color="#ff0"/><stop offset="1" stop-color="#ffc100"/></linearGradient><linearGradient id="g283"><stop offset="0" stop-color="#0045ff"/><stop offset="0.125" stop-color="#00a0ff"/><stop offset="0.25" stop-color="#0ff"/><stop offset="0.427" stop-color="#00ff84"/><stop offset="0.604" stop-color="#0f0"/><stop offset="0.762" stop-color="#7cff00"/><stop offset="0.92" stop-color="#ff0"/><stop offset="1" stop-color="#ffbc00"/></linearGradient><linearGradient id="g284"><stop offset="0" stop-color="#003cff"/><stop offset="0.128" stop-color="#009bff"/><stop offset="0.257" stop-color="#0ff"/><stop offset="0.43" stop-color="#00ff83"/><stop offset="0.604" stop-color="#0f0"/><stop offset="0.76" stop-color="#7cff00"/><stop offset="0.916" stop-color="#ff0"/><stop offset="1" stop-color="#ffb800"/></linearGradient></defs>
<g shape-rendering="crispEdges"><rect x="50" y="45" width="189" height="2.3" fill="url(#g0)"/><rect x="50" y="47" width="189" height="2.3" fill="url(#g1)"/><rect x="50" y="49" width="189" height="2.3" fill="url(#g2)"/><rect x="50" y="51" width="189" height="2.3" fill="url(#g3)"/><rect x="50" y="53" width="189" height="2.3" fill="url(#g4)"/><rect x="50" y="55" width="189" height="2.3" fill="url(#g5)"/><rect x="50" y="57" width="189" height="2.3" fill="url(#g6)"/><rect x="50" y="59" width="189" height="2.3" fill="url(#g7)"/><rect x="50" y="61" width="189" height="2.3" fill="url(#g8)"/><rect x="50" y="63" width="189" height="2.3" fill="url(#g9)"/><rect x="50" y="65" width="189" height="2.3" fill="url(#g10)"/><rect x="50" y="67" width="189" height="2.3" fill="url(#g11)"/><rect x="50" y="69" width="189" height="2.3" fill="url(#g12)"/><rect x="50" y="71" width="189" height="2.3" fill="url(#g13)"/><rect x="50" y="73" width="189" height="2.3" fill="url(#g14)"/><rect x="50" y="75" width="189" height="2.3" fill="url(#g15)"/><rect x="50" y="77" width="189" height="2.3" fill="url(#g16)"/><rect x="50" y="79" width="189" height="2.3" fill="url(#g17)"/><rect x="50" y="81" width="189" height="2.3" fill="url(#g18)"/><rect x="50" y="83" width="189" height="2.3" fill="url(#g19)"/><rect x="50" y="85" width="189" height="2.3" fill="url(#g20)"/><rect x="50" y="87" width="189" height="2.3" fill="url(#g21)"/><rect x="50" y="89" width="189" height="2.3" fill="url(#g22)"/><rect x="50" y="91" width="189" height="2.3" fill="url(#g23)"/><rect x="50" y="93" width="189" height="2.3" fill="url(#g24)"/><rect x="50" y="95" width="189" height="2.3" fill="url(#g25)"/><rect x="50" y="97" width="189" height="2.3" fill="url(#g26)"/><rect x="50" y="99" width="189" height="2.3" fill="url(#g27)"/><rect x="50" y="101" width="189" height="2.3" fill="url(#g28)"/><rect x="50" y="103" width="189" height="2.3" fill="url(#g29)"/><rect x="50" y="105" width="189" height="2.3" fill="url(#g30)"/><rect x="50" y="107" width="189" height="2.3" fill="url(#g31)"/><rect x="50" y="109" width="189" height="2.3" fill="url(#g32)"/><rect x="50" y="111" width="189" height="2.3" fill="url(#g33)"/><rect x="50" y="113" width="189" height="2.3" fill="url(#g34)"/><rect x="50" y="115" width="189" height="2.3" fill="url(#g35)"/><rect x="50" y="117" width="189" height="2.3" fill="url(#g36)"/><rect x="50" y="119" width="189" height="2.3" fill="url(#g37)"/><rect x="50" y="121" width="189" height="2.3" fill="url(#g38)"/><rect x="50" y="123" width="189" height="2.3" fill="url(#g39)"/><rect x="50" y="125" width="189" height="2.3" fill="url(#g40)"/><rect x="50" y="127" width="189" height="2.3" fill="url(#g41)"/><rect x="50" y="129" width="189" height="2.3" fill="url(#g42)"/><rect x="50" y="131" width="189" height="2.3" fill="url(#g43)"/><rect x="50" y="133" width="189" height="2.3" fill="url(#g44)"/><rect x="50" y="135" width="189" height="2.3" fill="url(#g45)"/><rect x="50" y="137" width="189" height="2.3" fill="url(#g46)"/><rect x="50" y="139" width="189" height="2.3" fill="url(#g47)"/><rect x="50" y="141" width="189" height="2.3" fill="url(#g48)"/><rect x="50" y="143" width="189" height="2.3" fill="url(#g49)"/><rect x="50" y="145" width="189" height="2.3" fill="url(#g50)"/><rect x="50" y="147" width="189" height="2.3" fill="url(#g51)"/><rect x="50" y="149" width="189" height="2.3" fill="url(#g52)"/><rect x="50" y="151" width="189" height="2.3" fill="url(#g53)"/><rect x="50" y="153" width="189" height="2.3" fill="url(#g54)"/><rect x="50" y="155" width="189" height="2.3" fill="url(#g55)"/><rect x="50" y="157" width="189" height="2.3" fill="url(#g56)"/><rect x="50" y="159" width="189" height="2.3" fill="url(#g57)"/><rect x="50" y="161" width="189" height="2.3" fill="url(#g58)"/><rect x="50" y="163" width="189" height="2.3" fill="url(#g59)"/><rect x="50" y="165" width="189" height="2.3" fill="url(#g60)"/><rect x="50" y="167" width="189" height="2.3" fill="url(#g61)"/><rect x="50" y="169" width="189" height="2.3" fill="url(#g62)"/><rect x="50" y="171" width="189" height="2.3" fill="url(#g63)"/><rect x="50" y="173" width="189" height="2.3" fill="url(#g64)"/><rect x="50" y="175" width="189" height="2.3" fill="url(#g65)"/><rect x="50" y="177" width="189" height="2.3" fill="url(#g66)"/><rect x="50" y="179" width="189" height="2.3" fill="url(#g67)"/><rect x="50" y="181" width="189" height="2.3" fill="url(#g68)"/><rect x="50" y="183" width="189" height="2.3" fill="url(#g69)"/><rect x="50" y="185" width="189" height="2.3" fill="url(#g70)"/><rect x="50" y="187" width="189" height="2.3" fill="url(#g71)"/><rect x="50" y="189" width="189" height="2.3" fill="url(#g72)"/><rect x="50" y="191" width="189" height="2.3" fill="url(#g73)"/><rect x="50" y="193" width="189" height="2.3" fill="url(#g74)"/><rect x="50" y="195" width="189" height="2.3" fill="url(#g75)"/><rect x="50" y="197" width="189" height="2.3" fill="url(#g76)"/><rect x="50" y="199" width="189" height="2.3" fill="url(#g77)"/><rect x="50" y="201" width="189" height="2.3" fill="url(#g78)"/><rect x="50" y="203" width="189" height="2.3" fill="url(#g79)"/><rect x="50" y="205" width="189" height="2.3" fill="url(#g80)"/><rect x="50" y="207" width="189" height="2.3" fill="url(#g81)"/><rect x="50" y="209" width="189" height="2.3" fill="url(#g82)"/><rect x="50" y="211" width="189" height="2.3" fill="url(#g83)"/><rect x="50" y="213" width="189" height="2.3" fill="url(#g84)"/><rect x="50" y="215" width="189" height="2.3" fill="url(#g85)"/><rect x="50" y="217" width="189" height="2.3" fill="url(#g86)"/><rect x="50" y="219" width="189" height="2.3" fill="url(#g87)"/><rect x="50" y="221" width="189" height="2.3" fill="url(#g88)"/><rect x="50" y="223" width="189" height="2.3" fill="url(#g89)"/><rect x="50" y="225" width="189" height="2.3" fill="url(#g90)"/><rect x="50" y="227" width="189" height="2.3" fill="url(#g91)"/><rect x="50" y="229" width="189" height="2.3" fill="url(#g92)"/><rect x="50" y="231" width="189" height="2.3" fill="url(#g93)"/><rect x="50" y="233" width="189" height="1.3" fill="url(#g94)"/></g>
<rect x="50" y="45" width="189" height="189" fill="none" stroke="#444" stroke-width="0.6"/>
<polyline fill="none" stroke="#012601" stroke-width="0.6" points="64.9,45 62.6,46.7 59.4,48.9 56.3,51.1 53.5,52.9 50.9,54.5 50,55"/>
<polyline fill="none" stroke="#012601" stroke-width="0.6" points="115.6,45 113.3,48.2 111.4,50.7 109.7,52.9 107,56 105.1,58.2 102.7,60.8 100.4,63.1 98,65.5 95.7,67.6 92.6,70.2 90.7,71.8 87.8,74 84.7,76.3 82,78.1 79.6,79.7 76.8,81.4 73.6,83.1 70.5,84.8 67.3,86.4 64.2,87.9 61,89.2 57.5,90.7 53.3,92.2 50,93.4 50,93.4"/>
<polyline fill="none" stroke="#012601" stroke-width="0.6" points="161.5,45 160.3,49.7 159.5,52.9 158.6,56 157.3,60.8 156.4,63.9 155.4,67.1 153.9,71.7 152.8,74.9 151.7,78.1 150.6,81.2 149.2,84.6 147.6,88.4 146.1,91.8 144.5,95.1 142.9,98 141.3,100.8 139.8,103.3 137.6,106.4 135.2,109.6 133.5,111.6 131,114.3 128.8,116.4 125.6,119 123.4,120.6 120.9,122.3 117.7,124.1 114.6,125.7 111.4,127 107.5,128.5 103.5,129.7 100.4,130.6 95.9,131.6 92.5,132.3 87.8,133 84.7,133.5 79.9,134 75.2,134.4 70.5,134.8 67.3,135 62.6,135.2 57.9,135.3 53.1,135.4 50,135.4"/>
<polyline fill="none" stroke="#012601" stroke-width="0.6" points="203.6,45 204.2,49.7 204.6,52.9 205.4,57.6 205.9,60.8 206.9,65.5 207.6,68.6 208.8,73.4 209.7,76.5 210.7,79.6 212.2,84 213.6,87.5 215,90.7 216.6,93.8 218.2,97 220.1,100.1 221.7,102.5 223.3,104.8 225.7,108 228,110.7 229.8,112.7 232.7,115.7 234.6,117.4 237.4,119.9 239,121.2"/>
<polyline fill="none" stroke="#012601" stroke-width="0.6" points="103.1,234 101.8,230.8 100.3,227.7 98.7,224.5 97,221.4 95.1,218.2 92.9,215.1 91,212.5 89.3,210.4 86.5,207.2 84.7,205.3 81.8,202.5 79.9,200.8 76.8,198.2 74.2,196.2 72,194.6 68.9,192.5 65.8,190.5 62.6,188.7 59.4,186.9 56.3,185.3 53.1,183.7 50,182.3 50,182.3"/>
<polyline fill="none" stroke="#012601" stroke-width="0.6" points="167,234 168.3,230.9 169.8,227.7 171.3,224.5 173,221.4 174.8,218.2 176.8,215.1 179,211.9 180.7,209.8 182.9,207.2 185.4,204.6 187.8,202.5 190.2,200.5 193.3,198.3 196.5,196.3 199.6,194.6 202.8,193.1 205.9,191.9 209.1,190.7 212.2,189.8 216.9,188.5 220.1,187.8 224.8,186.9 228,186.4 232.7,185.8 237.4,185.3 239,185.2"/>
<rect x="52.3" y="46.1" width="10" height="4.4" fill="#fff" stroke="#777" stroke-width="0.5"/>
<text x="57.3" y="49.6" font-size="3.8" text-anchor="middle" fill="#111" class="u">1200</text>
<rect x="85" y="68.8" width="10" height="4.4" fill="#fff" stroke="#777" stroke-width="0.5"/>
<text x="90" y="72.3" font-size="3.8" text-anchor="middle" fill="#111" class="u">1400</text>
<rect x="127" y="111.8" width="10" height="4.4" fill="#fff" stroke="#777" stroke-width="0.5"/>
<text x="132" y="115.3" font-size="3.8" text-anchor="middle" fill="#111" class="u">1600</text>
<rect x="209" y="85.3" width="10" height="4.4" fill="#fff" stroke="#777" stroke-width="0.5"/>
<text x="214" y="88.8" font-size="3.8" text-anchor="middle" fill="#111" class="u">1800</text>
<rect x="75.5" y="196.8" width="10" height="4.4" fill="#fff" stroke="#777" stroke-width="0.5"/>
<text x="80.5" y="200.3" font-size="3.8" text-anchor="middle" fill="#111" class="u">1800</text>
<rect x="186.5" y="193.8" width="10" height="4.4" fill="#fff" stroke="#777" stroke-width="0.5"/>
<text x="191.5" y="197.3" font-size="3.8" text-anchor="middle" fill="#111" class="u">1600</text>
<line x1="50" y1="234" x2="50" y2="238.5" stroke="#555" stroke-width="0.7"/>
<text x="50" y="247" font-size="5.9" text-anchor="middle" fill="#111" class="t">5</text>
<line x1="87.8" y1="234" x2="87.8" y2="238.5" stroke="#555" stroke-width="0.7"/>
<text x="87.8" y="247" font-size="5.9" text-anchor="middle" fill="#111" class="t">6</text>
<line x1="125.6" y1="234" x2="125.6" y2="238.5" stroke="#555" stroke-width="0.7"/>
<text x="125.6" y="247" font-size="5.9" text-anchor="middle" fill="#111" class="t">7</text>
<line x1="163.4" y1="234" x2="163.4" y2="238.5" stroke="#555" stroke-width="0.7"/>
<text x="163.4" y="247" font-size="5.9" text-anchor="middle" fill="#111" class="t">8</text>
<line x1="201.2" y1="234" x2="201.2" y2="238.5" stroke="#555" stroke-width="0.7"/>
<text x="201.2" y="247" font-size="5.9" text-anchor="middle" fill="#111" class="t">9</text>
<line x1="239" y1="234" x2="239" y2="238.5" stroke="#555" stroke-width="0.7"/>
<text x="239" y="247" font-size="5.9" text-anchor="middle" fill="#111" class="t">10</text>
<line x1="45.5" y1="234" x2="50" y2="234" stroke="#555" stroke-width="0.7"/>
<text x="43.8" y="235.9" font-size="5.9" text-anchor="end" fill="#111" class="t">0.04</text>
<line x1="45.5" y1="186.8" x2="50" y2="186.8" stroke="#555" stroke-width="0.7"/>
<text x="43.8" y="188.7" font-size="5.9" text-anchor="end" fill="#111" class="t">0.05</text>
<line x1="45.5" y1="139.5" x2="50" y2="139.5" stroke="#555" stroke-width="0.7"/>
<text x="43.8" y="141.4" font-size="5.9" text-anchor="end" fill="#111" class="t">0.06</text>
<line x1="45.5" y1="92.2" x2="50" y2="92.2" stroke="#555" stroke-width="0.7"/>
<text x="43.8" y="94.2" font-size="5.9" text-anchor="end" fill="#111" class="t">0.07</text>
<line x1="45.5" y1="45" x2="50" y2="45" stroke="#555" stroke-width="0.7"/>
<text x="43.8" y="46.9" font-size="5.9" text-anchor="end" fill="#111" class="t">0.08</text>
<text x="144.5" y="261.4" font-size="7.4" text-anchor="middle" fill="#111" class="t">A: Monomer (gm)</text>
<text transform="translate(22.5,139.5) rotate(-90)" font-size="7.2" text-anchor="middle" xml:space="preserve" fill="#111" class="t">B: Cross-linker (gm)</text>
<text x="144.5" y="41.2" font-size="8.8" text-anchor="middle" fill="#111" class="t">Degree of swelling pH7.2</text>
<circle cx="50" cy="45" r="1.6" fill="#b00000" stroke="#700000" stroke-width="0.5"/>
<circle cx="239" cy="45" r="1.6" fill="#b00000" stroke="#700000" stroke-width="0.5"/>
<circle cx="50" cy="234" r="1.6" fill="#b00000" stroke="#700000" stroke-width="0.5"/>
<circle cx="239" cy="234" r="1.6" fill="#b00000" stroke="#700000" stroke-width="0.5"/>
<circle cx="144.5" cy="139.5" r="1.6" fill="#b00000" stroke="#700000" stroke-width="0.5"/>
<text x="141.5" y="140.8" font-size="3.6" text-anchor="end" fill="#333" class="u">2</text>
<g shape-rendering="crispEdges"><rect x="276.6" y="44.5" width="188.9" height="2.3" fill="url(#g95)"/><rect x="276.6" y="46.5" width="188.9" height="2.3" fill="url(#g96)"/><rect x="276.6" y="48.5" width="188.9" height="2.3" fill="url(#g97)"/><rect x="276.6" y="50.5" width="188.9" height="2.3" fill="url(#g98)"/><rect x="276.6" y="52.5" width="188.9" height="2.3" fill="url(#g99)"/><rect x="276.6" y="54.5" width="188.9" height="2.3" fill="url(#g100)"/><rect x="276.6" y="56.5" width="188.9" height="2.3" fill="url(#g101)"/><rect x="276.6" y="58.5" width="188.9" height="2.3" fill="url(#g102)"/><rect x="276.6" y="60.5" width="188.9" height="2.3" fill="url(#g103)"/><rect x="276.6" y="62.5" width="188.9" height="2.3" fill="url(#g104)"/><rect x="276.6" y="64.5" width="188.9" height="2.3" fill="url(#g105)"/><rect x="276.6" y="66.5" width="188.9" height="2.3" fill="url(#g106)"/><rect x="276.6" y="68.5" width="188.9" height="2.3" fill="url(#g107)"/><rect x="276.6" y="70.5" width="188.9" height="2.3" fill="url(#g108)"/><rect x="276.6" y="72.5" width="188.9" height="2.3" fill="url(#g109)"/><rect x="276.6" y="74.5" width="188.9" height="2.3" fill="url(#g110)"/><rect x="276.6" y="76.5" width="188.9" height="2.3" fill="url(#g111)"/><rect x="276.6" y="78.5" width="188.9" height="2.3" fill="url(#g112)"/><rect x="276.6" y="80.5" width="188.9" height="2.3" fill="url(#g113)"/><rect x="276.6" y="82.5" width="188.9" height="2.3" fill="url(#g114)"/><rect x="276.6" y="84.5" width="188.9" height="2.3" fill="url(#g115)"/><rect x="276.6" y="86.5" width="188.9" height="2.3" fill="url(#g116)"/><rect x="276.6" y="88.5" width="188.9" height="2.3" fill="url(#g117)"/><rect x="276.6" y="90.5" width="188.9" height="2.3" fill="url(#g118)"/><rect x="276.6" y="92.5" width="188.9" height="2.3" fill="url(#g119)"/><rect x="276.6" y="94.5" width="188.9" height="2.3" fill="url(#g120)"/><rect x="276.6" y="96.5" width="188.9" height="2.3" fill="url(#g121)"/><rect x="276.6" y="98.5" width="188.9" height="2.3" fill="url(#g122)"/><rect x="276.6" y="100.5" width="188.9" height="2.3" fill="url(#g123)"/><rect x="276.6" y="102.5" width="188.9" height="2.3" fill="url(#g124)"/><rect x="276.6" y="104.5" width="188.9" height="2.3" fill="url(#g125)"/><rect x="276.6" y="106.5" width="188.9" height="2.3" fill="url(#g126)"/><rect x="276.6" y="108.5" width="188.9" height="2.3" fill="url(#g127)"/><rect x="276.6" y="110.5" width="188.9" height="2.3" fill="url(#g128)"/><rect x="276.6" y="112.5" width="188.9" height="2.3" fill="url(#g129)"/><rect x="276.6" y="114.5" width="188.9" height="2.3" fill="url(#g130)"/><rect x="276.6" y="116.5" width="188.9" height="2.3" fill="url(#g131)"/><rect x="276.6" y="118.5" width="188.9" height="2.3" fill="url(#g132)"/><rect x="276.6" y="120.5" width="188.9" height="2.3" fill="url(#g133)"/><rect x="276.6" y="122.5" width="188.9" height="2.3" fill="url(#g134)"/><rect x="276.6" y="124.5" width="188.9" height="2.3" fill="url(#g135)"/><rect x="276.6" y="126.5" width="188.9" height="2.3" fill="url(#g136)"/><rect x="276.6" y="128.5" width="188.9" height="2.3" fill="url(#g137)"/><rect x="276.6" y="130.5" width="188.9" height="2.3" fill="url(#g138)"/><rect x="276.6" y="132.5" width="188.9" height="2.3" fill="url(#g139)"/><rect x="276.6" y="134.5" width="188.9" height="2.3" fill="url(#g140)"/><rect x="276.6" y="136.5" width="188.9" height="2.3" fill="url(#g141)"/><rect x="276.6" y="138.5" width="188.9" height="2.3" fill="url(#g142)"/><rect x="276.6" y="140.5" width="188.9" height="2.3" fill="url(#g143)"/><rect x="276.6" y="142.5" width="188.9" height="2.3" fill="url(#g144)"/><rect x="276.6" y="144.5" width="188.9" height="2.3" fill="url(#g145)"/><rect x="276.6" y="146.5" width="188.9" height="2.3" fill="url(#g146)"/><rect x="276.6" y="148.5" width="188.9" height="2.3" fill="url(#g147)"/><rect x="276.6" y="150.5" width="188.9" height="2.3" fill="url(#g148)"/><rect x="276.6" y="152.5" width="188.9" height="2.3" fill="url(#g149)"/><rect x="276.6" y="154.5" width="188.9" height="2.3" fill="url(#g150)"/><rect x="276.6" y="156.5" width="188.9" height="2.3" fill="url(#g151)"/><rect x="276.6" y="158.5" width="188.9" height="2.3" fill="url(#g152)"/><rect x="276.6" y="160.5" width="188.9" height="2.3" fill="url(#g153)"/><rect x="276.6" y="162.5" width="188.9" height="2.3" fill="url(#g154)"/><rect x="276.6" y="164.5" width="188.9" height="2.3" fill="url(#g155)"/><rect x="276.6" y="166.5" width="188.9" height="2.3" fill="url(#g156)"/><rect x="276.6" y="168.5" width="188.9" height="2.3" fill="url(#g157)"/><rect x="276.6" y="170.5" width="188.9" height="2.3" fill="url(#g158)"/><rect x="276.6" y="172.5" width="188.9" height="2.3" fill="url(#g159)"/><rect x="276.6" y="174.5" width="188.9" height="2.3" fill="url(#g160)"/><rect x="276.6" y="176.5" width="188.9" height="2.3" fill="url(#g161)"/><rect x="276.6" y="178.5" width="188.9" height="2.3" fill="url(#g162)"/><rect x="276.6" y="180.5" width="188.9" height="2.3" fill="url(#g163)"/><rect x="276.6" y="182.5" width="188.9" height="2.3" fill="url(#g164)"/><rect x="276.6" y="184.5" width="188.9" height="2.3" fill="url(#g165)"/><rect x="276.6" y="186.5" width="188.9" height="2.3" fill="url(#g166)"/><rect x="276.6" y="188.5" width="188.9" height="2.3" fill="url(#g167)"/><rect x="276.6" y="190.5" width="188.9" height="2.3" fill="url(#g168)"/><rect x="276.6" y="192.5" width="188.9" height="2.3" fill="url(#g169)"/><rect x="276.6" y="194.5" width="188.9" height="2.3" fill="url(#g170)"/><rect x="276.6" y="196.5" width="188.9" height="2.3" fill="url(#g171)"/><rect x="276.6" y="198.5" width="188.9" height="2.3" fill="url(#g172)"/><rect x="276.6" y="200.5" width="188.9" height="2.3" fill="url(#g173)"/><rect x="276.6" y="202.5" width="188.9" height="2.3" fill="url(#g174)"/><rect x="276.6" y="204.5" width="188.9" height="2.3" fill="url(#g175)"/><rect x="276.6" y="206.5" width="188.9" height="2.3" fill="url(#g176)"/><rect x="276.6" y="208.5" width="188.9" height="2.3" fill="url(#g177)"/><rect x="276.6" y="210.5" width="188.9" height="2.3" fill="url(#g178)"/><rect x="276.6" y="212.5" width="188.9" height="2.3" fill="url(#g179)"/><rect x="276.6" y="214.5" width="188.9" height="2.3" fill="url(#g180)"/><rect x="276.6" y="216.5" width="188.9" height="2.3" fill="url(#g181)"/><rect x="276.6" y="218.5" width="188.9" height="2.3" fill="url(#g182)"/><rect x="276.6" y="220.5" width="188.9" height="2.3" fill="url(#g183)"/><rect x="276.6" y="222.5" width="188.9" height="2.3" fill="url(#g184)"/><rect x="276.6" y="224.5" width="188.9" height="2.3" fill="url(#g185)"/><rect x="276.6" y="226.5" width="188.9" height="2.3" fill="url(#g186)"/><rect x="276.6" y="228.5" width="188.9" height="2.3" fill="url(#g187)"/><rect x="276.6" y="230.5" width="188.9" height="2.3" fill="url(#g188)"/><rect x="276.6" y="232.5" width="188.9" height="1.8" fill="url(#g189)"/></g>
<rect x="276.6" y="44.5" width="188.9" height="189.5" fill="none" stroke="#444" stroke-width="0.6"/>
<polyline fill="none" stroke="#012601" stroke-width="0.6" points="300.7,44.5 298.6,46.4 295.5,49.2 293.6,50.8 290.8,53.2 287.8,55.6 285.8,57.1 282.9,59.3 279.7,61.5 277,63.4 276.6,63.7"/>
<polyline fill="none" stroke="#012601" stroke-width="0.6" points="372.8,44.5 371.7,47.7 370.5,50.8 369.3,54 367.9,57.2 366.3,60.7 364.8,64 363.2,67.1 361.6,69.9 359.8,72.9 357.7,76.1 355.4,79.2 353.7,81.4 351.5,84 349,86.7 346.9,88.7 344.3,91 341.2,93.5 339.1,95 336.4,96.8 333.3,98.8 330.1,100.5 327,102.2 323.8,103.7 320.7,105.1 317.5,106.4 314.3,107.7 310,109.2 306.5,110.4 303.4,111.5 300.2,112.4 295.5,113.8 292.3,114.7 289.2,115.6 284.5,116.8 281.3,117.6 276.6,118.7 276.6,118.7"/>
<polyline fill="none" stroke="#012601" stroke-width="0.6" points="364.2,234 365,230.8 366.1,226.1 366.9,222.9 367.9,219 368.9,215.1 369.8,211.9 371.1,207.2 372,204 372.9,200.8 374.2,196.5 375.3,192.9 376.4,189.8 377.5,186.6 378.9,182.5 380.4,178.7 381.7,175.6 383,172.4 384.5,169.3 386,166.1 387.7,162.9 389.4,159.8 391.4,156.6 393.1,154.1 394.7,151.9 397.2,148.7 399.4,146.2 401.5,144 404.1,141.5 406.7,139.2 408.8,137.5 412,135.2 415.1,133.2 418.2,131.4 421,129.8 424.1,128.2 427.5,126.6 430.9,125.1 434,123.9 437.2,122.7 440.3,121.5 443.9,120.3 448.2,118.9 451.3,117.9 454.5,117 459.2,115.7 462.4,114.9 465.5,114"/>
<polyline fill="none" stroke="#012601" stroke-width="0.6" points="412.2,234 414,230.8 416,227.7 418,224.5 419.8,221.7 421.4,219.3 423.3,216.6 425.6,213.5 427.7,210.6 429.3,208.6 431.7,205.6 434,202.7 435.6,200.8 438.4,197.7 440.3,195.6 442.8,192.9 445,190.7 447.6,188.2 449.8,186.1 452.7,183.5 454.5,181.9 457.6,179.2 460.1,177.2 462.4,175.4 465.5,173 465.5,173"/>
<polyline fill="none" stroke="#012601" stroke-width="0.6" points="455.7,234 457.6,231.7 459.8,229.3 462.4,226.4 464.1,224.5 465.5,223"/>
<polyline fill="none" stroke="#012601" stroke-width="0.6" points="310.3,234 309.4,230.8 308.1,226.7 306.8,222.9 305.5,219.8 304.1,216.6 302.5,213.5 300.8,210.3 298.8,207.2 297.1,204.6 295.4,202.4 292.7,199.3 290.8,197.2 288,194.5 286,192.8 282.9,190.4 279.8,188.2 277.3,186.6 276.6,186.2"/>
<rect x="285.5" y="49.8" width="10" height="4.4" fill="#fff" stroke="#777" stroke-width="0.5"/>
<text x="290.5" y="53.4" font-size="3.8" text-anchor="middle" fill="#111" class="u">1400</text>
<rect x="333" y="88.8" width="10" height="4.4" fill="#fff" stroke="#777" stroke-width="0.5"/>
<text x="338" y="92.3" font-size="3.8" text-anchor="middle" fill="#111" class="u">1600</text>
<rect x="392" y="149.8" width="10" height="4.4" fill="#fff" stroke="#777" stroke-width="0.5"/>
<text x="397" y="153.3" font-size="3.8" text-anchor="middle" fill="#111" class="u">1600</text>
<rect x="432" y="196.3" width="10" height="4.4" fill="#fff" stroke="#777" stroke-width="0.5"/>
<text x="437" y="199.8" font-size="3.8" text-anchor="middle" fill="#111" class="u">1400</text>
<rect x="454" y="224.8" width="10" height="4.4" fill="#fff" stroke="#777" stroke-width="0.5"/>
<text x="459" y="228.3" font-size="3.8" text-anchor="middle" fill="#111" class="u">1200</text>
<rect x="292" y="200.8" width="10" height="4.4" fill="#fff" stroke="#777" stroke-width="0.5"/>
<text x="297" y="204.3" font-size="3.8" text-anchor="middle" fill="#111" class="u">1800</text>
<line x1="276.6" y1="234" x2="276.6" y2="238.5" stroke="#555" stroke-width="0.7"/>
<text x="276.6" y="247" font-size="5.9" text-anchor="middle" fill="#111" class="t">0.04</text>
<line x1="323.8" y1="234" x2="323.8" y2="238.5" stroke="#555" stroke-width="0.7"/>
<text x="323.8" y="247" font-size="5.9" text-anchor="middle" fill="#111" class="t">0.05</text>
<line x1="371.1" y1="234" x2="371.1" y2="238.5" stroke="#555" stroke-width="0.7"/>
<text x="371.1" y="247" font-size="5.9" text-anchor="middle" fill="#111" class="t">0.06</text>
<line x1="418.3" y1="234" x2="418.3" y2="238.5" stroke="#555" stroke-width="0.7"/>
<text x="418.3" y="247" font-size="5.9" text-anchor="middle" fill="#111" class="t">0.07</text>
<line x1="465.5" y1="234" x2="465.5" y2="238.5" stroke="#555" stroke-width="0.7"/>
<text x="465.5" y="247" font-size="5.9" text-anchor="middle" fill="#111" class="t">0.08</text>
<line x1="272.1" y1="234" x2="276.6" y2="234" stroke="#555" stroke-width="0.7"/>
<text x="270.4" y="235.9" font-size="5.9" text-anchor="end" fill="#111" class="t">0.3</text>
<line x1="272.1" y1="196.1" x2="276.6" y2="196.1" stroke="#555" stroke-width="0.7"/>
<text x="270.4" y="198" font-size="5.9" text-anchor="end" fill="#111" class="t">0.36</text>
<line x1="272.1" y1="158.2" x2="276.6" y2="158.2" stroke="#555" stroke-width="0.7"/>
<text x="270.4" y="160.1" font-size="5.9" text-anchor="end" fill="#111" class="t">0.42</text>
<line x1="272.1" y1="120.3" x2="276.6" y2="120.3" stroke="#555" stroke-width="0.7"/>
<text x="270.4" y="122.2" font-size="5.9" text-anchor="end" fill="#111" class="t">0.48</text>
<line x1="272.1" y1="82.4" x2="276.6" y2="82.4" stroke="#555" stroke-width="0.7"/>
<text x="270.4" y="84.3" font-size="5.9" text-anchor="end" fill="#111" class="t">0.54</text>
<line x1="272.1" y1="44.5" x2="276.6" y2="44.5" stroke="#555" stroke-width="0.7"/>
<text x="270.4" y="46.4" font-size="5.9" text-anchor="end" fill="#111" class="t">0.6</text>
<text x="371.1" y="261.4" font-size="7" text-anchor="middle" fill="#111" class="t">B: Cross-linker (gm)</text>
<text transform="translate(249.1,139.2) rotate(-90)" font-size="7.2" text-anchor="middle" xml:space="preserve" fill="#111" class="t">C: Polymer  (gm)</text>
<text x="371" y="40.7" font-size="8.8" text-anchor="middle" fill="#111" class="t">Degree of swelling pH7.2</text>
<circle cx="276.6" cy="44.5" r="1.6" fill="#b00000" stroke="#700000" stroke-width="0.5"/>
<circle cx="465.5" cy="44.5" r="1.6" fill="#b00000" stroke="#700000" stroke-width="0.5"/>
<circle cx="276.6" cy="234" r="1.6" fill="#b00000" stroke="#700000" stroke-width="0.5"/>
<circle cx="465.5" cy="234" r="1.6" fill="#b00000" stroke="#700000" stroke-width="0.5"/>
<circle cx="371.1" cy="139.2" r="1.6" fill="#b00000" stroke="#700000" stroke-width="0.5"/>
<text x="368.1" y="140.6" font-size="3.6" text-anchor="end" fill="#333" class="u">2</text>
<g shape-rendering="crispEdges"><rect x="519.7" y="44.5" width="199" height="2.3" fill="url(#g190)"/><rect x="519.7" y="46.5" width="199" height="2.3" fill="url(#g191)"/><rect x="519.7" y="48.5" width="199" height="2.3" fill="url(#g192)"/><rect x="519.7" y="50.5" width="199" height="2.3" fill="url(#g193)"/><rect x="519.7" y="52.5" width="199" height="2.3" fill="url(#g194)"/><rect x="519.7" y="54.5" width="199" height="2.3" fill="url(#g195)"/><rect x="519.7" y="56.5" width="199" height="2.3" fill="url(#g196)"/><rect x="519.7" y="58.5" width="199" height="2.3" fill="url(#g197)"/><rect x="519.7" y="60.5" width="199" height="2.3" fill="url(#g198)"/><rect x="519.7" y="62.5" width="199" height="2.3" fill="url(#g199)"/><rect x="519.7" y="64.5" width="199" height="2.3" fill="url(#g200)"/><rect x="519.7" y="66.5" width="199" height="2.3" fill="url(#g201)"/><rect x="519.7" y="68.5" width="199" height="2.3" fill="url(#g202)"/><rect x="519.7" y="70.5" width="199" height="2.3" fill="url(#g203)"/><rect x="519.7" y="72.5" width="199" height="2.3" fill="url(#g204)"/><rect x="519.7" y="74.5" width="199" height="2.3" fill="url(#g205)"/><rect x="519.7" y="76.5" width="199" height="2.3" fill="url(#g206)"/><rect x="519.7" y="78.5" width="199" height="2.3" fill="url(#g207)"/><rect x="519.7" y="80.5" width="199" height="2.3" fill="url(#g208)"/><rect x="519.7" y="82.5" width="199" height="2.3" fill="url(#g209)"/><rect x="519.7" y="84.5" width="199" height="2.3" fill="url(#g210)"/><rect x="519.7" y="86.5" width="199" height="2.3" fill="url(#g211)"/><rect x="519.7" y="88.5" width="199" height="2.3" fill="url(#g212)"/><rect x="519.7" y="90.5" width="199" height="2.3" fill="url(#g213)"/><rect x="519.7" y="92.5" width="199" height="2.3" fill="url(#g214)"/><rect x="519.7" y="94.5" width="199" height="2.3" fill="url(#g215)"/><rect x="519.7" y="96.5" width="199" height="2.3" fill="url(#g216)"/><rect x="519.7" y="98.5" width="199" height="2.3" fill="url(#g217)"/><rect x="519.7" y="100.5" width="199" height="2.3" fill="url(#g218)"/><rect x="519.7" y="102.5" width="199" height="2.3" fill="url(#g219)"/><rect x="519.7" y="104.5" width="199" height="2.3" fill="url(#g220)"/><rect x="519.7" y="106.5" width="199" height="2.3" fill="url(#g221)"/><rect x="519.7" y="108.5" width="199" height="2.3" fill="url(#g222)"/><rect x="519.7" y="110.5" width="199" height="2.3" fill="url(#g223)"/><rect x="519.7" y="112.5" width="199" height="2.3" fill="url(#g224)"/><rect x="519.7" y="114.5" width="199" height="2.3" fill="url(#g225)"/><rect x="519.7" y="116.5" width="199" height="2.3" fill="url(#g226)"/><rect x="519.7" y="118.5" width="199" height="2.3" fill="url(#g227)"/><rect x="519.7" y="120.5" width="199" height="2.3" fill="url(#g228)"/><rect x="519.7" y="122.5" width="199" height="2.3" fill="url(#g229)"/><rect x="519.7" y="124.5" width="199" height="2.3" fill="url(#g230)"/><rect x="519.7" y="126.5" width="199" height="2.3" fill="url(#g231)"/><rect x="519.7" y="128.5" width="199" height="2.3" fill="url(#g232)"/><rect x="519.7" y="130.5" width="199" height="2.3" fill="url(#g233)"/><rect x="519.7" y="132.5" width="199" height="2.3" fill="url(#g234)"/><rect x="519.7" y="134.5" width="199" height="2.3" fill="url(#g235)"/><rect x="519.7" y="136.5" width="199" height="2.3" fill="url(#g236)"/><rect x="519.7" y="138.5" width="199" height="2.3" fill="url(#g237)"/><rect x="519.7" y="140.5" width="199" height="2.3" fill="url(#g238)"/><rect x="519.7" y="142.5" width="199" height="2.3" fill="url(#g239)"/><rect x="519.7" y="144.5" width="199" height="2.3" fill="url(#g240)"/><rect x="519.7" y="146.5" width="199" height="2.3" fill="url(#g241)"/><rect x="519.7" y="148.5" width="199" height="2.3" fill="url(#g242)"/><rect x="519.7" y="150.5" width="199" height="2.3" fill="url(#g243)"/><rect x="519.7" y="152.5" width="199" height="2.3" fill="url(#g244)"/><rect x="519.7" y="154.5" width="199" height="2.3" fill="url(#g245)"/><rect x="519.7" y="156.5" width="199" height="2.3" fill="url(#g246)"/><rect x="519.7" y="158.5" width="199" height="2.3" fill="url(#g247)"/><rect x="519.7" y="160.5" width="199" height="2.3" fill="url(#g248)"/><rect x="519.7" y="162.5" width="199" height="2.3" fill="url(#g249)"/><rect x="519.7" y="164.5" width="199" height="2.3" fill="url(#g250)"/><rect x="519.7" y="166.5" width="199" height="2.3" fill="url(#g251)"/><rect x="519.7" y="168.5" width="199" height="2.3" fill="url(#g252)"/><rect x="519.7" y="170.5" width="199" height="2.3" fill="url(#g253)"/><rect x="519.7" y="172.5" width="199" height="2.3" fill="url(#g254)"/><rect x="519.7" y="174.5" width="199" height="2.3" fill="url(#g255)"/><rect x="519.7" y="176.5" width="199" height="2.3" fill="url(#g256)"/><rect x="519.7" y="178.5" width="199" height="2.3" fill="url(#g257)"/><rect x="519.7" y="180.5" width="199" height="2.3" fill="url(#g258)"/><rect x="519.7" y="182.5" width="199" height="2.3" fill="url(#g259)"/><rect x="519.7" y="184.5" width="199" height="2.3" fill="url(#g260)"/><rect x="519.7" y="186.5" width="199" height="2.3" fill="url(#g261)"/><rect x="519.7" y="188.5" width="199" height="2.3" fill="url(#g262)"/><rect x="519.7" y="190.5" width="199" height="2.3" fill="url(#g263)"/><rect x="519.7" y="192.5" width="199" height="2.3" fill="url(#g264)"/><rect x="519.7" y="194.5" width="199" height="2.3" fill="url(#g265)"/><rect x="519.7" y="196.5" width="199" height="2.3" fill="url(#g266)"/><rect x="519.7" y="198.5" width="199" height="2.3" fill="url(#g267)"/><rect x="519.7" y="200.5" width="199" height="2.3" fill="url(#g268)"/><rect x="519.7" y="202.5" width="199" height="2.3" fill="url(#g269)"/><rect x="519.7" y="204.5" width="199" height="2.3" fill="url(#g270)"/><rect x="519.7" y="206.5" width="199" height="2.3" fill="url(#g271)"/><rect x="519.7" y="208.5" width="199" height="2.3" fill="url(#g272)"/><rect x="519.7" y="210.5" width="199" height="2.3" fill="url(#g273)"/><rect x="519.7" y="212.5" width="199" height="2.3" fill="url(#g274)"/><rect x="519.7" y="214.5" width="199" height="2.3" fill="url(#g275)"/><rect x="519.7" y="216.5" width="199" height="2.3" fill="url(#g276)"/><rect x="519.7" y="218.5" width="199" height="2.3" fill="url(#g277)"/><rect x="519.7" y="220.5" width="199" height="2.3" fill="url(#g278)"/><rect x="519.7" y="222.5" width="199" height="2.3" fill="url(#g279)"/><rect x="519.7" y="224.5" width="199" height="2.3" fill="url(#g280)"/><rect x="519.7" y="226.5" width="199" height="2.3" fill="url(#g281)"/><rect x="519.7" y="228.5" width="199" height="2.3" fill="url(#g282)"/><rect x="519.7" y="230.5" width="199" height="2.3" fill="url(#g283)"/><rect x="519.7" y="232.5" width="199" height="1.8" fill="url(#g284)"/></g>
<rect x="519.7" y="44.5" width="199" height="189.5" fill="none" stroke="#444" stroke-width="0.6"/>
<polyline fill="none" stroke="#012601" stroke-width="0.6" points="519.7,95.5 523,93.7 526.2,91.9 528.7,90.3 531.3,88.6 534.6,86.2 537.5,84 539.6,82.2 542.8,79.2 544.6,77.5 547.4,74.5 549.6,71.9 551.3,69.8 553.5,66.6 555.6,63.4 557.4,60.3 559.1,57.1 560.6,54 561.9,50.8 563.2,47.7 564.3,44.5"/>
<polyline fill="none" stroke="#012601" stroke-width="0.6" points="718.7,66.3 715.1,65 710.8,63.4 707.1,62 703.8,60.5 700.5,59 697.1,57.3 693.9,55.6 691.2,54 688.7,52.4 685.5,50.3 682.2,48 679.7,46.1 677.7,44.5"/>
<polyline fill="none" stroke="#012601" stroke-width="0.6" points="718.7,106.1 713.7,106.2 708.8,106.2 703.8,106.1 700.5,106.1 695.5,105.9 690.5,105.6 685.5,105.3 680.6,104.8 677.2,104.5 672.3,103.7 667.8,102.9 664,102.1 660.7,101.2 656.4,99.8 652.6,98.2 649.3,96.6 646.6,95 644.1,93.3 640.8,90.7 638.6,88.7 635.8,85.6 634.1,83.5 632.2,80.8 630.2,77.7 628.4,74.5 626.8,71.3 625.4,68.2 624,65 622.5,61.2 621.1,57.1 620,54 619,50.8 617.6,46.1 617.2,44.5"/>
<polyline fill="none" stroke="#012601" stroke-width="0.6" points="519.7,142.3 524.7,142.3 529.7,142.3 533.3,142.4 537.9,142.6 542.9,142.8 547.9,143.1 552.9,143.6 556.6,144 561.2,144.6 566.1,145.5 569.5,146.3 572.8,147.1 577.7,148.7 581.1,150.1 584.4,151.7 587.4,153.5 589.8,155 592.7,157.3 595.4,159.8 597.6,162.2 599.6,164.5 601.9,167.7 603.9,170.8 605.6,174 607.2,177.2 608.7,180.3 610,183.5 611.3,186.6 612.6,190.2 614,194.5 615,197.7 616,200.8 617.3,205.6 618.2,208.7 619.2,212.7 620.2,216.6 620.9,219.8 622,224.5 622.7,227.7 623.8,232.4 624.1,234"/>
<polyline fill="none" stroke="#012601" stroke-width="0.6" points="519.7,183.7 523.3,185 527.2,186.6 530.8,188.2 534.1,189.8 537.2,191.4 540.1,192.9 542.9,194.6 546.2,196.6 549.6,198.9 552.3,200.8 554.5,202.6 557.8,205.3 560,207.2 562.8,209.8 565,211.9 567.8,214.9 569.5,216.7 572.1,219.8 574.4,222.8 576.1,224.9 578.1,227.7 580.2,230.8 582.3,234 582.3,234"/>
<polyline fill="none" stroke="#012601" stroke-width="0.6" points="519.7,221.3 522.3,222.9 524.7,224.6 528,226.9 531.1,229.3 533.2,230.8 536.3,233.4 537,234"/>
<polyline fill="none" stroke="#012601" stroke-width="0.6" points="718.7,150.7 715.4,152.4 712.1,154.1 708.8,156 705.4,158.1 702.9,159.8 700.5,161.5 697.1,164 694.6,166.1 692.2,168.3 689.6,170.8 687.2,173.3 685.3,175.6 682.7,178.7 680.6,181.8 678.9,184.3 677.2,187.1 675.6,190.1 673.9,193.5 672.3,197.2 670.8,200.8 669.7,204 668.7,207.2 667.3,211.9 666.5,215.1 665.6,219 664.9,222.9 664,227.7 663.5,230.8 663.1,234"/>
<polyline fill="none" stroke="#012601" stroke-width="0.6" points="718.7,202.1 717,204.2 714.8,207.2 712.5,210.3 710.5,213.5 708.8,216.2 707.1,219 705.4,222.1 703.8,225.3 702.1,228.7 700.5,232.4 699.8,234"/>
<rect x="543" y="71.3" width="10" height="4.4" fill="#fff" stroke="#777" stroke-width="0.5"/>
<text x="548" y="74.8" font-size="3.8" text-anchor="middle" fill="#111" class="u">1800</text>
<rect x="691.5" y="51.8" width="10" height="4.4" fill="#fff" stroke="#777" stroke-width="0.5"/>
<text x="696.5" y="55.4" font-size="3.8" text-anchor="middle" fill="#111" class="u">1400</text>
<rect x="642" y="90.8" width="10" height="4.4" fill="#fff" stroke="#777" stroke-width="0.5"/>
<text x="647" y="94.3" font-size="3.8" text-anchor="middle" fill="#111" class="u">1600</text>
<rect x="592.5" y="158.8" width="10" height="4.4" fill="#fff" stroke="#777" stroke-width="0.5"/>
<text x="597.5" y="162.3" font-size="3.8" text-anchor="middle" fill="#111" class="u">1600</text>
<rect x="551" y="200.8" width="10" height="4.4" fill="#fff" stroke="#777" stroke-width="0.5"/>
<text x="556" y="204.3" font-size="3.8" text-anchor="middle" fill="#111" class="u">1400</text>
<rect x="521.5" y="222.3" width="10" height="4.4" fill="#fff" stroke="#777" stroke-width="0.5"/>
<text x="526.5" y="225.8" font-size="3.8" text-anchor="middle" fill="#111" class="u">1200</text>
<rect x="676" y="177.3" width="10" height="4.4" fill="#fff" stroke="#777" stroke-width="0.5"/>
<text x="681" y="180.8" font-size="3.8" text-anchor="middle" fill="#111" class="u">1800</text>
<rect x="703.5" y="212.8" width="10" height="4.4" fill="#fff" stroke="#777" stroke-width="0.5"/>
<text x="708.5" y="216.3" font-size="3.8" text-anchor="middle" fill="#111" class="u">2000</text>
<line x1="519.7" y1="234" x2="519.7" y2="238.5" stroke="#555" stroke-width="0.7"/>
<text x="519.7" y="247" font-size="5.9" text-anchor="middle" fill="#111" class="t">5</text>
<line x1="559.5" y1="234" x2="559.5" y2="238.5" stroke="#555" stroke-width="0.7"/>
<text x="559.5" y="247" font-size="5.9" text-anchor="middle" fill="#111" class="t">6</text>
<line x1="599.3" y1="234" x2="599.3" y2="238.5" stroke="#555" stroke-width="0.7"/>
<text x="599.3" y="247" font-size="5.9" text-anchor="middle" fill="#111" class="t">7</text>
<line x1="639.1" y1="234" x2="639.1" y2="238.5" stroke="#555" stroke-width="0.7"/>
<text x="639.1" y="247" font-size="5.9" text-anchor="middle" fill="#111" class="t">8</text>
<line x1="678.9" y1="234" x2="678.9" y2="238.5" stroke="#555" stroke-width="0.7"/>
<text x="678.9" y="247" font-size="5.9" text-anchor="middle" fill="#111" class="t">9</text>
<line x1="718.7" y1="234" x2="718.7" y2="238.5" stroke="#555" stroke-width="0.7"/>
<text x="718.7" y="247" font-size="5.9" text-anchor="middle" fill="#111" class="t">10</text>
<line x1="515.2" y1="234" x2="519.7" y2="234" stroke="#555" stroke-width="0.7"/>
<text x="513.5" y="235.9" font-size="5.9" text-anchor="end" fill="#111" class="t">0.3</text>
<line x1="515.2" y1="196.1" x2="519.7" y2="196.1" stroke="#555" stroke-width="0.7"/>
<text x="513.5" y="198" font-size="5.9" text-anchor="end" fill="#111" class="t">0.36</text>
<line x1="515.2" y1="158.2" x2="519.7" y2="158.2" stroke="#555" stroke-width="0.7"/>
<text x="513.5" y="160.1" font-size="5.9" text-anchor="end" fill="#111" class="t">0.42</text>
<line x1="515.2" y1="120.3" x2="519.7" y2="120.3" stroke="#555" stroke-width="0.7"/>
<text x="513.5" y="122.2" font-size="5.9" text-anchor="end" fill="#111" class="t">0.48</text>
<line x1="515.2" y1="82.4" x2="519.7" y2="82.4" stroke="#555" stroke-width="0.7"/>
<text x="513.5" y="84.3" font-size="5.9" text-anchor="end" fill="#111" class="t">0.54</text>
<line x1="515.2" y1="44.5" x2="519.7" y2="44.5" stroke="#555" stroke-width="0.7"/>
<text x="513.5" y="46.4" font-size="5.9" text-anchor="end" fill="#111" class="t">0.6</text>
<text x="619.2" y="261.4" font-size="7.7" text-anchor="middle" fill="#111" class="t">A: Monomer (gm)</text>
<text transform="translate(492.2,139.2) rotate(-90)" font-size="7.2" text-anchor="middle" xml:space="preserve" fill="#111" class="t">C: Polymer  (gm)</text>
<text x="618.8" y="40.7" font-size="9.25" text-anchor="middle" fill="#111" class="t">Degree of swelling pH7.2</text>
<circle cx="519.7" cy="44.5" r="1.6" fill="#b00000" stroke="#700000" stroke-width="0.5"/>
<circle cx="718.7" cy="44.5" r="1.6" fill="#b00000" stroke="#700000" stroke-width="0.5"/>
<circle cx="519.7" cy="234" r="1.6" fill="#b00000" stroke="#700000" stroke-width="0.5"/>
<circle cx="718.7" cy="234" r="1.6" fill="#b00000" stroke="#700000" stroke-width="0.5"/>
<circle cx="619.2" cy="139.2" r="1.6" fill="#b00000" stroke="#700000" stroke-width="0.5"/>
<text x="616.2" y="140.6" font-size="3.6" text-anchor="end" fill="#333" class="u">2</text>
<text x="139.2" y="32.2" font-size="32" font-weight="bold" text-anchor="middle" fill="#000" font-family="Liberation Serif, Times New Roman, serif">A</text>
<text x="375" y="32" font-size="32" font-weight="bold" text-anchor="middle" fill="#000" font-family="Liberation Serif, Times New Roman, serif">B</text>
<text x="622.4" y="32" font-size="32" font-weight="bold" text-anchor="middle" fill="#000" font-family="Liberation Serif, Times New Roman, serif">C</text>
<path d="M57.3 422.8L146.8 390.5M146.8 390.5L235.7 423M56.6 408.1L146.8 377.2M146.8 377.2L236.5 408.5M56 393.5L146.8 363.9M146.8 363.9L237.2 394M55.3 378.8L146.8 350.6M146.8 350.6L238 379.5M54.6 364.2L146.7 337.4M146.7 337.4L238.7 365M53.9 349.5L146.7 324.1M146.7 324.1L239.5 350.5M53.3 334.9L146.7 310.8M146.7 310.8L240.2 336M52.6 320.2L146.7 297.5M146.7 297.5L241 321.5M57.3 422.8L52.6 320.2M75.2 416.3L71.4 315.7M93.1 409.9L90.2 311.1M111 403.4L109.1 306.6M128.9 397L127.9 302M146.8 390.5L146.7 297.5M169 398.6L170.3 303.5M191.2 406.8L193.8 309.5M213.5 414.9L217.4 315.5M235.7 423L241 321.5" stroke="#222" stroke-width="0.65" fill="none"/>
<path d="M57.3 422.8L58.5 455M146.8 390.5L146.8 418M235.7 423L234.5 455" stroke="#666" stroke-width="0.6" fill="none"/>
<polygon points="58.5,455 146.8,418 234.5,455 147,502.2" fill="#606060"/>
<polyline fill="none" stroke="#00bdff" stroke-width="1" points="74.9,448.1 74.7,449.6 74.5,450.9 74.2,452.1 73.8,453.4 73.2,455.1 72.7,456.2 72,457.7 71.3,459 70.3,460.6 69.9,461.1"/>
<polyline fill="none" stroke="#00ffcb" stroke-width="1" points="91.1,441.3 91.6,442.5 92.2,444.1 92.6,445.4 92.8,446.7 93,448 93.1,449.3 93,450.7 92.9,452.2 92.6,453.7 92.2,455.1 91.8,456.3 91,457.9 90.4,459.1 89.4,460.7 88.6,461.8 87.5,463.2 86.2,464.7 84.8,466.1 83.3,467.5 82.8,468"/>
<polyline fill="none" stroke="#00ff5d" stroke-width="1" points="208,469.3 207.4,468.1 206.9,466.4 206.7,464.9 206.6,463.6 206.6,462.1 206.9,460.6 207.2,459.4 207.9,457.9 208.6,456.5 209.7,454.9 210.8,453.5 212,452.2 213.6,450.7 215.5,449 217.2,447.7 217.2,447.7"/>
<polyline fill="none" stroke="#00ff5d" stroke-width="1" points="106.3,435 107.8,436.3 109.1,437.6 110.3,438.8 111.4,440.1 112.7,441.5 113.9,443 114.8,444.3 115.6,445.6 116.5,447.2 117,448.4 117.5,449.7 117.9,451.3 118.1,452.7 118.1,454.1 117.9,455.4 117.6,456.7 117.1,458.1 116.3,459.6 115.4,461 114.5,462.2 113.2,463.7 111.7,465.1 110.2,466.4 108.4,467.8 106.2,469.4 104.4,470.7 101.9,472.3 100,473.4 97.3,475 96.7,475.3"/>
<polyline fill="none" stroke="#10ff00" stroke-width="1" points="185.7,481.3 183.3,480.3 180.1,479.1 177,477.9 174.2,477 171.5,476.2 168.6,475.5 165.5,474.9 162.3,474.4 159.6,474.2 157,474 154.1,474 150.9,474.2 147.6,474.5 145.2,474.8 141.9,475.3 138.7,475.9 136.1,476.4 133.4,477 130.4,477.8 127.2,478.6 124.1,479.5 121.4,480.3 118.6,481.1 115.9,481.9 112.4,483 111.5,483.3"/>
<polyline fill="none" stroke="#10ff00" stroke-width="1" points="120.7,429 123.4,430.4 126.2,431.7 128.4,432.8 131.2,434.1 134.1,435.5 137.1,436.8 139.4,437.8 142.5,439 145.7,440.2 148.3,441.1 151.8,442.1 154.6,442.8 157.6,443.5 160.3,443.9 163.1,444.3 166,444.5 169.2,444.5 172,444.5 174.7,444.3 178,443.9 180.6,443.5 183.9,442.9 186.8,442.3 189.4,441.7 192.2,441 195.3,440.2 197.8,439.5"/>
<polyline fill="none" stroke="#7dff00" stroke-width="1" points="166,492 163.7,491.6 160.2,491.2 157.8,491 154.6,490.8 151.4,490.6 148.4,490.6 145.4,490.6 142.6,490.6 140,490.8 137.3,490.9 133.8,491.2 131.2,491.5 128.1,491.9 127.7,491.9"/>
<polyline fill="none" stroke="#7dff00" stroke-width="1" points="134.2,423.3 136.8,424.1 139.5,424.8 142.9,425.8 145.9,426.5 148.8,427.1 151.9,427.7 154.4,428.2 157.1,428.6 160.4,429 163,429.3 166.3,429.6 168.8,429.8 171.9,429.9 175,429.9 175,429.9"/>
<circle cx="57.3" cy="422.8" r="0.7" fill="#222"/>
<text x="54.1" y="421.4" font-size="6.5" text-anchor="end" fill="#111" class="t">1000</text>
<circle cx="56.6" cy="408.1" r="0.7" fill="#222"/>
<text x="53.4" y="406.7" font-size="6.5" text-anchor="end" fill="#111" class="t">1200</text>
<circle cx="56" cy="393.5" r="0.7" fill="#222"/>
<text x="52.8" y="392.1" font-size="6.5" text-anchor="end" fill="#111" class="t">1400</text>
<circle cx="55.3" cy="378.8" r="0.7" fill="#222"/>
<text x="52.1" y="377.4" font-size="6.5" text-anchor="end" fill="#111" class="t">1600</text>
<circle cx="54.6" cy="364.2" r="0.7" fill="#222"/>
<text x="51.4" y="362.8" font-size="6.5" text-anchor="end" fill="#111" class="t">1800</text>
<circle cx="53.9" cy="349.5" r="0.7" fill="#222"/>
<text x="50.7" y="348.1" font-size="6.5" text-anchor="end" fill="#111" class="t">2000</text>
<circle cx="53.3" cy="334.9" r="0.7" fill="#222"/>
<text x="50.1" y="333.5" font-size="6.5" text-anchor="end" fill="#111" class="t">2200</text>
<circle cx="52.6" cy="320.2" r="0.7" fill="#222"/>
<text x="49.4" y="318.8" font-size="6.5" text-anchor="end" fill="#111" class="t">2400</text>
<text transform="translate(27.5,391.5) rotate(-90)" font-size="7.2" text-anchor="middle" fill="#111" class="t">Degree of swelling pH7.2</text>
<line x1="237.3" y1="392.8" x2="237" y2="397.6" stroke="#555" stroke-width="0.6"/><circle cx="237" cy="397.6" r="1.9" fill="#f8caca" stroke="#b05050" stroke-width="0.5"/>
<g stroke="#000" stroke-opacity="0.8" stroke-width="0.5" stroke-linejoin="round"><polygon points="146.7,332.1 151.1,327.9 146.7,325.4 142.3,329.8" fill="#cfff00"/><polygon points="142.3,336.2 146.7,332.1 142.3,329.8 137.9,334.1" fill="#acff00"/><polygon points="151.1,334.4 155.5,330.4 151.1,327.9 146.7,332.1" fill="#c2ff00"/><polygon points="138,340.3 142.3,336.2 137.9,334.1 133.6,338.4" fill="#8aff00"/><polygon points="146.7,338.4 151.1,334.4 146.7,332.1 142.3,336.2" fill="#a2ff00"/><polygon points="155.5,336.8 159.9,333 155.5,330.4 151.1,334.4" fill="#b5ff00"/><polygon points="142.3,342.3 146.7,338.4 142.3,336.2 138,340.3" fill="#82ff00"/><polygon points="151.1,340.6 155.5,336.8 151.1,334.4 146.7,338.4" fill="#97ff00"/><polygon points="133.6,344.4 138,340.3 133.6,338.4 129.2,342.7" fill="#69ff00"/><polygon points="159.9,339.3 164.3,335.7 159.9,333 155.5,336.8" fill="#a6ff00"/><polygon points="129.2,348.5 133.6,344.4 129.2,342.7 124.8,346.9" fill="#48ff00"/><polygon points="138,346.2 142.3,342.3 138,340.3 133.6,344.4" fill="#63ff00"/><polygon points="146.7,344.4 151.1,340.6 146.7,338.4 142.3,342.3" fill="#7aff00"/><polygon points="155.5,342.9 159.9,339.3 155.5,336.8 151.1,340.6" fill="#8bff00"/><polygon points="164.3,341.9 168.7,338.4 164.3,335.7 159.9,339.3" fill="#97ff00"/><polygon points="124.9,352.6 129.2,348.5 124.8,346.9 120.5,351.2" fill="#28ff00"/><polygon points="133.6,350.1 138,346.2 133.6,344.4 129.2,348.5" fill="#45ff00"/><polygon points="159.9,345.3 164.3,341.9 159.9,339.3 155.5,342.9" fill="#7fff00"/><polygon points="168.7,344.5 173.1,341.2 168.7,338.4 164.3,341.9" fill="#8f0"/><polygon points="142.3,348.1 146.7,344.4 142.3,342.3 138,346.2" fill="#5dff00"/><polygon points="151.1,346.5 155.5,342.9 151.1,340.6 146.7,344.4" fill="#71ff00"/><polygon points="129.2,354 133.6,350.1 129.2,348.5 124.9,352.6" fill="#27ff00"/><polygon points="164.3,347.8 168.7,344.5 164.3,341.9 159.9,345.3" fill="#71ff00"/><polygon points="120.5,356.6 124.9,352.6 120.5,351.2 116.2,355.4" fill="#08ff00"/><polygon points="138,351.8 142.3,348.1 138,346.2 133.6,350.1" fill="#41ff00"/><polygon points="146.7,350.1 151.1,346.5 146.7,344.4 142.3,348.1" fill="#56ff00"/><polygon points="155.5,348.7 159.9,345.3 155.5,342.9 151.1,346.5" fill="#6f0"/><polygon points="173,347.2 177.4,344.1 173.1,341.2 168.7,344.5" fill="#7f0"/><polygon points="116.2,360.6 120.5,356.6 116.2,355.4 111.9,359.6" fill="#00ff18"/><polygon points="124.9,357.9 129.2,354 124.9,352.6 120.5,356.6" fill="#0aff00"/><polygon points="133.6,355.5 138,351.8 133.6,350.1 129.2,354" fill="#26ff00"/><polygon points="142.4,353.6 146.7,350.1 142.3,348.1 138,351.8" fill="#3dff00"/><polygon points="151.1,352.1 155.5,348.7 151.1,346.5 146.7,350.1" fill="#4fff00"/><polygon points="159.9,351 164.3,347.8 159.9,345.3 155.5,348.7" fill="#5cff00"/><polygon points="168.6,350.3 173,347.2 168.7,344.5 164.3,347.8" fill="#64ff00"/><polygon points="177.4,350 181.8,347.1 177.4,344.1 173,347.2" fill="#6f0"/><polygon points="111.9,364.6 116.2,360.6 111.9,359.6 107.6,363.8" fill="#00ff36"/><polygon points="120.6,361.7 124.9,357.9 120.5,356.6 116.2,360.6" fill="#00ff13"/><polygon points="129.3,359.2 133.6,355.5 129.2,354 124.9,357.9" fill="#0bff00"/><polygon points="138,357.1 142.4,353.6 138,351.8 133.6,355.5" fill="#24ff00"/><polygon points="146.7,355.4 151.1,352.1 146.7,350.1 142.4,353.6" fill="#38ff00"/><polygon points="155.5,354.2 159.9,351 155.5,348.7 151.1,352.1" fill="#47ff00"/><polygon points="164.2,353.3 168.6,350.3 164.3,347.8 159.9,351" fill="#50ff00"/><polygon points="173,352.9 177.4,350 173,347.2 168.6,350.3" fill="#5f0"/><polygon points="181.7,352.8 186.1,350.1 181.8,347.1 177.4,350" fill="#5f0"/><polygon points="107.6,368.6 111.9,364.6 107.6,363.8 103.3,368" fill="#0f5"/><polygon points="116.3,365.5 120.6,361.7 116.2,360.6 111.9,364.6" fill="#00ff30"/><polygon points="124.9,362.8 129.3,359.2 124.9,357.9 120.6,361.7" fill="#00ff10"/><polygon points="133.6,360.6 138,357.1 133.6,355.5 129.3,359.2" fill="#0bff00"/><polygon points="142.4,358.7 146.7,355.4 142.4,353.6 138,357.1" fill="#21ff00"/><polygon points="151.1,357.3 155.5,354.2 151.1,352.1 146.7,355.4" fill="#32ff00"/><polygon points="159.8,356.3 164.2,353.3 159.9,351 155.5,354.2" fill="#3eff00"/><polygon points="168.6,355.7 173,352.9 168.6,350.3 164.2,353.3" fill="#4f0"/><polygon points="177.3,355.5 181.7,352.8 177.4,350 173,352.9" fill="#46ff00"/><polygon points="186.1,355.8 190.5,353.2 186.1,350.1 181.7,352.8" fill="#42ff00"/><polygon points="103.3,372.6 107.6,368.6 103.3,368 99,372.1" fill="#00ff72"/><polygon points="111.9,369.3 116.3,365.5 111.9,364.6 107.6,368.6" fill="#00ff4b"/><polygon points="120.6,366.4 124.9,362.8 120.6,361.7 116.3,365.5" fill="#00ff29"/><polygon points="138,362 142.4,358.7 138,357.1 133.6,360.6" fill="#0bff00"/><polygon points="146.7,360.4 151.1,357.3 146.7,355.4 142.4,358.7" fill="#1eff00"/><polygon points="155.5,359.3 159.8,356.3 155.5,354.2 151.1,357.3" fill="#2cff00"/><polygon points="173,358.2 177.3,355.5 173,352.9 168.6,355.7" fill="#37ff00"/><polygon points="181.7,358.3 186.1,355.8 181.7,352.8 177.3,355.5" fill="#36ff00"/><polygon points="190.4,358.8 194.8,356.4 190.5,353.2 186.1,355.8" fill="#2fff00"/><polygon points="129.3,364 133.6,360.6 129.3,359.2 124.9,362.8" fill="#00ff0d"/><polygon points="164.2,358.5 168.6,355.7 164.2,353.3 159.8,356.3" fill="#34ff00"/><polygon points="107.6,373 111.9,369.3 107.6,368.6 103.3,372.6" fill="#00ff67"/><polygon points="116.3,370 120.6,366.4 116.3,365.5 111.9,369.3" fill="#00ff43"/><polygon points="142.4,363.5 146.7,360.4 142.4,358.7 138,362" fill="#0aff00"/><polygon points="151.1,362.2 155.5,359.3 151.1,357.3 146.7,360.4" fill="#1aff00"/><polygon points="177.3,360.7 181.7,358.3 177.3,355.5 173,358.2" fill="#2aff00"/><polygon points="186,361.1 190.4,358.8 186.1,355.8 181.7,358.3" fill="#25ff00"/><polygon points="99,376.5 103.3,372.6 99,372.1 94.8,376.2" fill="#00ff90"/><polygon points="125,367.4 129.3,364 124.9,362.8 120.6,366.4" fill="#00ff24"/><polygon points="133.6,365.3 138,362 133.6,360.6 129.3,364" fill="#00ff0a"/><polygon points="159.8,361.3 164.2,358.5 159.8,356.3 155.5,359.3" fill="#24ff00"/><polygon points="168.6,360.8 173,358.2 168.6,355.7 164.2,358.5" fill="#2aff00"/><polygon points="194.7,361.9 199.1,359.7 194.8,356.4 190.4,358.8" fill="#1bff00"/><polygon points="94.8,380.4 99,376.5 94.8,376.2 90.5,380.3" fill="#00ffac"/><polygon points="103.4,376.8 107.6,373 103.3,372.6 99,376.5" fill="#00ff81"/><polygon points="112,373.6 116.3,370 111.9,369.3 107.6,373" fill="#00ff5c"/><polygon points="120.6,370.8 125,367.4 120.6,366.4 116.3,370" fill="#00ff3b"/><polygon points="129.3,368.5 133.6,365.3 129.3,364 125,367.4" fill="#00ff1f"/><polygon points="138,366.6 142.4,363.5 138,362 133.6,365.3" fill="#00ff09"/><polygon points="146.7,365.1 151.1,362.2 146.7,360.4 142.4,363.5" fill="#09ff00"/><polygon points="155.5,364 159.8,361.3 155.5,359.3 151.1,362.2" fill="#15ff00"/><polygon points="164.2,363.4 168.6,360.8 164.2,358.5 159.8,361.3" fill="#1cff00"/><polygon points="172.9,363.1 177.3,360.7 173,358.2 168.6,360.8" fill="#1fff00"/><polygon points="181.7,363.4 186,361.1 181.7,358.3 177.3,360.7" fill="#1cff00"/><polygon points="190.4,364 194.7,361.9 190.4,358.8 186,361.1" fill="#14ff00"/><polygon points="199,365 203.4,363.1 199.1,359.7 194.7,361.9" fill="#07ff00"/><polygon points="99.1,380.4 103.4,376.8 99,376.5 94.8,380.4" fill="#00ff9c"/><polygon points="125,371.7 129.3,368.5 125,367.4 120.6,370.8" fill="#00ff34"/><polygon points="133.7,369.6 138,366.6 133.6,365.3 129.3,368.5" fill="#00ff1b"/><polygon points="159.8,365.9 164.2,363.4 159.8,361.3 155.5,364" fill="#10ff00"/><polygon points="168.6,365.5 172.9,363.1 168.6,360.8 164.2,363.4" fill="#14ff00"/><polygon points="194.7,366.9 199,365 194.7,361.9 190.4,364" fill="#02ff00"/><polygon points="90.5,384.2 94.8,380.4 90.5,380.3 86.3,384.4" fill="#00ffc8"/><polygon points="107.7,377.1 112,373.6 107.6,373 103.4,376.8" fill="#00ff74"/><polygon points="116.3,374.2 120.6,370.8 116.3,370 112,373.6" fill="#00ff51"/><polygon points="142.4,367.9 146.7,365.1 142.4,363.5 138,366.6" fill="#00ff08"/><polygon points="151.1,366.7 155.5,364 151.1,362.2 146.7,365.1" fill="#07ff00"/><polygon points="177.3,365.6 181.7,363.4 177.3,360.7 172.9,363.1" fill="#13ff00"/><polygon points="186,366 190.4,364 186,361.1 181.7,363.4" fill="#0dff00"/><polygon points="203.3,368.3 207.7,366.5 203.4,363.1 199,365" fill="#00ff0f"/><polygon points="129.3,372.6 133.7,369.6 129.3,368.5 125,371.7" fill="#00ff2d"/><polygon points="164.2,367.9 168.6,365.5 164.2,363.4 159.8,365.9" fill="#0aff00"/><polygon points="86.3,388.1 90.5,384.2 86.3,384.4 82,388.4" fill="#00ffe4"/><polygon points="94.8,384.1 99.1,380.4 94.8,380.4 90.5,384.2" fill="#00ffb5"/><polygon points="103.4,380.6 107.7,377.1 103.4,376.8 99.1,380.4" fill="#00ff8c"/><polygon points="112,377.5 116.3,374.2 112,373.6 107.7,377.1" fill="#00ff67"/><polygon points="120.6,374.8 125,371.7 120.6,370.8 116.3,374.2" fill="#00ff47"/><polygon points="138,370.7 142.4,367.9 138,366.6 133.7,369.6" fill="#00ff18"/><polygon points="146.7,369.4 151.1,366.7 146.7,365.1 142.4,367.9" fill="#00ff07"/><polygon points="155.5,368.4 159.8,365.9 155.5,364 151.1,366.7" fill="#04ff00"/><polygon points="172.9,367.8 177.3,365.6 172.9,363.1 168.6,365.5" fill="#0bff00"/><polygon points="181.6,368.1 186,366 181.7,363.4 177.3,365.6" fill="#07ff00"/><polygon points="190.3,368.8 194.7,366.9 190.4,364 186,366" fill="#00ff03"/><polygon points="199,370 203.3,368.3 199,365 194.7,366.9" fill="#0f1"/><polygon points="207.6,371.6 212,370 207.7,366.5 203.3,368.3" fill="#00ff24"/><polygon points="82,391.9 86.3,388.1 82,388.4 77.8,392.5" fill="#0ff"/><polygon points="90.5,387.7 94.8,384.1 90.5,384.2 86.3,388.1" fill="#00ffce"/><polygon points="99.1,384 103.4,380.6 99.1,380.4 94.8,384.1" fill="#00ffa3"/><polygon points="107.7,380.8 112,377.5 107.7,377.1 103.4,380.6" fill="#00ff7c"/><polygon points="116.3,377.9 120.6,374.8 116.3,374.2 112,377.5" fill="#00ff5b"/><polygon points="125,375.5 129.3,372.6 125,371.7 120.6,374.8" fill="#00ff3e"/><polygon points="133.7,373.5 138,370.7 133.7,369.6 129.3,372.6" fill="#00ff27"/><polygon points="142.4,372 146.7,369.4 142.4,367.9 138,370.7" fill="#00ff15"/><polygon points="151.1,370.8 155.5,368.4 151.1,366.7 146.7,369.4" fill="#00ff08"/><polygon points="159.8,370.2 164.2,367.9 159.8,365.9 155.5,368.4" fill="#0f0"/><polygon points="168.5,369.9 172.9,367.8 168.6,365.5 164.2,367.9" fill="#03ff00"/><polygon points="177.3,370.1 181.6,368.1 177.3,365.6 172.9,367.8" fill="#01ff00"/><polygon points="186,370.6 190.3,368.8 186,366 181.6,368.1" fill="#00ff07"/><polygon points="194.6,371.7 199,370 194.7,366.9 190.3,368.8" fill="#00ff13"/><polygon points="203.3,373.1 207.6,371.6 203.3,368.3 199,370" fill="#00ff24"/><polygon points="211.9,375 216.2,373.6 212,370 207.6,371.6" fill="#00ff3b"/><polygon points="77.8,395.7 82,391.9 77.8,392.5 73.6,396.5" fill="#00e0ff"/><polygon points="86.3,391.4 90.5,387.7 86.3,388.1 82,391.9" fill="#00ffe7"/><polygon points="94.8,387.5 99.1,384 94.8,384.1 90.5,387.7" fill="#00ffb9"/><polygon points="112,381 116.3,377.9 112,377.5 107.7,380.8" fill="#00ff6d"/><polygon points="120.7,378.4 125,375.5 120.6,374.8 116.3,377.9" fill="#00ff4f"/><polygon points="129.3,376.3 133.7,373.5 129.3,372.6 125,375.5" fill="#00ff36"/><polygon points="138,374.5 142.4,372 138,370.7 133.7,373.5" fill="#0f2"/><polygon points="146.7,373.3 151.1,370.8 146.7,369.4 142.4,372" fill="#00ff13"/><polygon points="155.5,372.4 159.8,370.2 155.5,368.4 151.1,370.8" fill="#00ff09"/><polygon points="164.2,372 168.5,369.9 164.2,367.9 159.8,370.2" fill="#00ff04"/><polygon points="172.9,372 177.3,370.1 172.9,367.8 168.5,369.9" fill="#00ff04"/><polygon points="181.6,372.4 186,370.6 181.6,368.1 177.3,370.1" fill="#00ff0a"/><polygon points="198.9,374.6 203.3,373.1 199,370 194.6,371.7" fill="#00ff24"/><polygon points="207.6,376.3 211.9,375 207.6,371.6 203.3,373.1" fill="#00ff38"/><polygon points="216.2,378.4 220.5,377.3 216.2,373.6 211.9,375" fill="#00ff52"/><polygon points="103.4,384 107.7,380.8 103.4,380.6 99.1,384" fill="#00ff91"/><polygon points="190.3,373.3 194.6,371.7 190.3,368.8 186,370.6" fill="#00ff14"/><polygon points="73.6,399.4 77.8,395.7 73.6,396.5 69.4,400.4" fill="#00c2ff"/><polygon points="82,394.9 86.3,391.4 82,391.9 77.8,395.7" fill="#0ff"/><polygon points="90.5,390.9 94.8,387.5 90.5,387.7 86.3,391.4" fill="#00ffcf"/><polygon points="99.1,387.2 103.4,384 99.1,384 94.8,387.5" fill="#00ffa5"/><polygon points="107.7,384 112,381 107.7,380.8 103.4,384" fill="#00ff80"/><polygon points="116.3,381.3 120.7,378.4 116.3,377.9 112,381" fill="#00ff5f"/><polygon points="125,379 129.3,376.3 125,375.5 120.7,378.4" fill="#0f4"/><polygon points="133.7,377.1 138,374.5 133.7,373.5 129.3,376.3" fill="#00ff2e"/><polygon points="142.4,375.6 146.7,373.3 142.4,372 138,374.5" fill="#00ff1d"/><polygon points="151.1,374.6 155.5,372.4 151.1,370.8 146.7,373.3" fill="#00ff12"/><polygon points="159.8,374 164.2,372 159.8,370.2 155.5,372.4" fill="#00ff0b"/><polygon points="168.5,373.9 172.9,372 168.5,369.9 164.2,372" fill="#00ff09"/><polygon points="177.3,374.2 181.6,372.4 177.3,370.1 172.9,372" fill="#00ff0d"/><polygon points="185.9,374.9 190.3,373.3 186,370.6 181.6,372.4" fill="#00ff15"/><polygon points="194.6,376 198.9,374.6 194.6,371.7 190.3,373.3" fill="#00ff23"/><polygon points="203.2,377.6 207.6,376.3 203.3,373.1 198.9,374.6" fill="#00ff35"/><polygon points="211.8,379.6 216.2,378.4 211.9,375 207.6,376.3" fill="#00ff4d"/><polygon points="220.4,382 224.7,381 220.5,377.3 216.2,378.4" fill="#00ff6a"/><polygon points="77.8,398.5 82,394.9 77.8,395.7 73.6,399.4" fill="#00e4ff"/><polygon points="103.4,387.1 107.7,384 103.4,384 99.1,387.2" fill="#00ff91"/><polygon points="112,384.1 116.3,381.3 112,381 107.7,384" fill="#00ff6f"/><polygon points="120.7,381.6 125,379 120.7,378.4 116.3,381.3" fill="#00ff52"/><polygon points="138,378 142.4,375.6 138,374.5 133.7,377.1" fill="#00ff27"/><polygon points="146.8,376.8 151.1,374.6 146.7,373.3 142.4,375.6" fill="#00ff1a"/><polygon points="155.5,376 159.8,374 155.5,372.4 151.1,374.6" fill="#0f1"/><polygon points="172.9,375.8 177.3,374.2 172.9,372 168.5,373.9" fill="#00ff0f"/><polygon points="181.6,376.4 185.9,374.9 181.6,372.4 177.3,374.2" fill="#00ff15"/><polygon points="190.3,377.4 194.6,376 190.3,373.3 185.9,374.9" fill="#00ff21"/><polygon points="216.1,382.9 220.4,382 216.2,378.4 211.8,379.6" fill="#00ff63"/><polygon points="69.4,403.2 73.6,399.4 69.4,400.4 65.2,404.4" fill="#00a5ff"/><polygon points="86.3,394.2 90.5,390.9 86.3,391.4 82,394.9" fill="#00ffe5"/><polygon points="94.8,390.4 99.1,387.2 94.8,387.5 90.5,390.9" fill="#00ffb9"/><polygon points="129.3,379.6 133.7,377.1 129.3,376.3 125,379" fill="#00ff3a"/><polygon points="164.2,375.7 168.5,373.9 164.2,372 159.8,374" fill="#00ff0d"/><polygon points="198.9,378.8 203.2,377.6 198.9,374.6 194.6,376" fill="#00ff32"/><polygon points="207.5,380.6 211.8,379.6 207.6,376.3 203.2,377.6" fill="#00ff48"/><polygon points="224.6,385.6 228.9,384.8 224.7,381 220.4,382" fill="#00ff83"/><polygon points="65.2,406.8 69.4,403.2 65.2,404.4 61,408.3" fill="#08f"/><polygon points="73.6,402 77.8,398.5 73.6,399.4 69.4,403.2" fill="#00c9ff"/><polygon points="82,397.6 86.3,394.2 82,394.9 77.8,398.5" fill="#00fffa"/><polygon points="107.7,386.9 112,384.1 107.7,384 103.4,387.1" fill="#00ff7e"/><polygon points="142.4,378.9 146.8,376.8 142.4,375.6 138,378" fill="#00ff21"/><polygon points="151.1,378 155.5,376 151.1,374.6 146.8,376.8" fill="#00ff16"/><polygon points="185.9,378.7 190.3,377.4 185.9,374.9 181.6,376.4" fill="#00ff1f"/><polygon points="211.8,383.8 216.1,382.9 211.8,379.6 207.5,380.6" fill="#00ff5b"/><polygon points="220.4,386.4 224.6,385.6 220.4,382 216.1,382.9" fill="#00ff79"/><polygon points="228.8,389.4 233.1,388.8 228.9,384.8 224.6,385.6" fill="#00ff9c"/><polygon points="90.5,393.6 94.8,390.4 90.5,390.9 86.3,394.2" fill="#0fc"/><polygon points="99.1,390 103.4,387.1 99.1,387.2 94.8,390.4" fill="#00ffa3"/><polygon points="116.3,384.2 120.7,381.6 116.3,381.3 112,384.1" fill="#00ff5f"/><polygon points="125,382 129.3,379.6 125,379 120.7,381.6" fill="#00ff46"/><polygon points="133.7,380.2 138,378 133.7,377.1 129.3,379.6" fill="#00ff31"/><polygon points="159.8,377.5 164.2,375.7 159.8,374 155.5,376" fill="#0f1"/><polygon points="168.5,377.5 172.9,375.8 168.5,373.9 164.2,375.7" fill="#0f1"/><polygon points="177.3,377.9 181.6,376.4 177.3,374.2 172.9,375.8" fill="#00ff15"/><polygon points="194.6,380 198.9,378.8 194.6,376 190.3,377.4" fill="#00ff2e"/><polygon points="203.2,381.7 207.5,380.6 203.2,377.6 198.9,378.8" fill="#00ff42"/><polygon points="60.9,410.5 65.2,406.8 61,408.3 56.8,412.1" fill="#006cff"/><polygon points="69.3,405.5 73.6,402 69.4,403.2 65.2,406.8" fill="#00afff"/><polygon points="77.8,400.8 82,397.6 77.8,398.5 73.6,402" fill="#00edff"/><polygon points="94.8,393 99.1,390 94.8,390.4 90.5,393.6" fill="#00ffb3"/><polygon points="103.4,389.7 107.7,386.9 103.4,387.1 99.1,390" fill="#00ff8d"/><polygon points="112,386.8 116.3,384.2 112,384.1 107.7,386.9" fill="#00ff6c"/><polygon points="129.4,382.5 133.7,380.2 129.3,379.6 125,382" fill="#00ff3a"/><polygon points="138.1,381 142.4,378.9 138,378 133.7,380.2" fill="#00ff28"/><polygon points="146.8,379.9 151.1,378 146.8,376.8 142.4,378.9" fill="#00ff1c"/><polygon points="155.5,379.2 159.8,377.5 155.5,376 151.1,378" fill="#00ff14"/><polygon points="164.2,379 168.5,377.5 164.2,375.7 159.8,377.5" fill="#00ff12"/><polygon points="181.6,380 185.9,378.7 181.6,376.4 177.3,377.9" fill="#00ff1c"/><polygon points="190.3,381.1 194.6,380 190.3,377.4 185.9,378.7" fill="#00ff29"/><polygon points="198.9,382.6 203.2,381.7 198.9,378.8 194.6,380" fill="#00ff3b"/><polygon points="216.1,387 220.4,386.4 216.1,382.9 211.8,383.8" fill="#00ff6f"/><polygon points="224.6,389.9 228.8,389.4 224.6,385.6 220.4,386.4" fill="#00ff90"/><polygon points="233.1,393.2 237.3,392.8 233.1,388.8 228.8,389.4" fill="#00ffb6"/><polygon points="86.3,396.7 90.5,393.6 86.3,394.2 82,397.6" fill="#00ffde"/><polygon points="120.7,384.4 125,382 120.7,381.6 116.3,384.2" fill="#00ff50"/><polygon points="172.9,379.3 177.3,377.9 172.9,375.8 168.5,377.5" fill="#00ff14"/><polygon points="207.5,384.6 211.8,383.8 207.5,380.6 203.2,381.7" fill="#00ff52"/><polygon points="65.1,408.9 69.3,405.5 65.2,406.8 60.9,410.5" fill="#0096ff" stroke-opacity="0.57"/><polygon points="99.1,392.4 103.4,389.7 99.1,390 94.8,393" fill="#00ff9b"/><polygon points="133.7,383 138.1,381 133.7,380.2 129.4,382.5" fill="#00ff2e"/><polygon points="159.8,380.6 164.2,379 159.8,377.5 155.5,379.2" fill="#00ff12"/><polygon points="194.6,383.5 198.9,382.6 194.6,380 190.3,381.1" fill="#00ff34"/><polygon points="228.8,393.5 233.1,393.2 228.8,389.4 224.6,389.9" fill="#00ffa7"/><polygon points="73.5,404.1 77.8,400.8 73.6,402 69.3,405.5" fill="#00d6ff" stroke-opacity="0.57"/><polygon points="82,399.8 86.3,396.7 82,397.6 77.8,400.8" fill="#00fff0"/><polygon points="90.5,395.8 94.8,393 90.5,393.6 86.3,396.7" fill="#00ffc3"/><polygon points="107.7,389.4 112,386.8 107.7,386.9 103.4,389.7" fill="#00ff78"/><polygon points="116.3,386.8 120.7,384.4 116.3,384.2 112,386.8" fill="#00ff5b"/><polygon points="125,384.7 129.4,382.5 125,382 120.7,384.4" fill="#00ff42"/><polygon points="142.4,381.7 146.8,379.9 142.4,378.9 138.1,381" fill="#00ff20"/><polygon points="151.1,380.9 155.5,379.2 151.1,378 146.8,379.9" fill="#00ff17"/><polygon points="168.6,380.7 172.9,379.3 168.5,377.5 164.2,379" fill="#00ff13"/><polygon points="177.3,381.2 181.6,380 177.3,377.9 172.9,379.3" fill="#00ff19"/><polygon points="185.9,382.1 190.3,381.1 185.9,378.7 181.6,380" fill="#00ff24"/><polygon points="203.2,385.4 207.5,384.6 203.2,381.7 198.9,382.6" fill="#00ff49"/><polygon points="211.8,387.6 216.1,387 211.8,383.8 207.5,384.6" fill="#00ff64"/><polygon points="220.3,390.3 224.6,389.9 220.4,386.4 216.1,387" fill="#00ff83"/><polygon points="69.3,407.3 73.5,404.1 69.3,405.5 65.1,408.9" fill="#00c0ff" stroke-opacity="0.57"/><polygon points="86.2,398.7 90.5,395.8 86.3,396.7 82,399.8" fill="#00ffd3" stroke-opacity="0.57"/><polygon points="94.8,395.1 99.1,392.4 94.8,393 90.5,395.8" fill="#00ffa9" stroke-opacity="0.57"/><polygon points="103.4,391.9 107.7,389.4 103.4,389.7 99.1,392.4" fill="#00ff84"/><polygon points="120.7,386.8 125,384.7 120.7,384.4 116.3,386.8" fill="#00ff4a"/><polygon points="129.4,385 133.7,383 129.4,382.5 125,384.7" fill="#00ff34"/><polygon points="138.1,383.5 142.4,381.7 138.1,381 133.7,383" fill="#00ff24"/><polygon points="155.5,382 159.8,380.6 155.5,379.2 151.1,380.9" fill="#00ff12"/><polygon points="164.2,382 168.6,380.7 164.2,379 159.8,380.6" fill="#0f1"/><polygon points="172.9,382.3 177.3,381.2 172.9,379.3 168.6,380.7" fill="#00ff15"/><polygon points="190.3,384.4 194.6,383.5 190.3,381.1 185.9,382.1" fill="#00ff2c"/><polygon points="198.9,386.1 203.2,385.4 198.9,382.6 194.6,383.5" fill="#00ff40"/><polygon points="207.5,388.2 211.8,387.6 207.5,384.6 203.2,385.4" fill="#00ff58"/><polygon points="224.6,393.7 228.8,393.5 224.6,389.9 220.3,390.3" fill="#00ff98"/><polygon points="77.7,402.8 82,399.8 77.8,400.8 73.5,404.1" fill="#00fcff" stroke-opacity="0.57"/><polygon points="112,389.1 116.3,386.8 112,386.8 107.7,389.4" fill="#00ff64"/><polygon points="146.8,382.6 151.1,380.9 146.8,379.9 142.4,381.7" fill="#00ff19"/><polygon points="181.6,383.1 185.9,382.1 181.6,380 177.3,381.2" fill="#00ff1e"/><polygon points="216.1,390.7 220.3,390.3 216.1,387 211.8,387.6" fill="#00ff75"/><polygon points="90.5,397.7 94.8,395.1 90.5,395.8 86.2,398.7" fill="#00ffb6" stroke-opacity="0.57"/><polygon points="125,386.9 129.4,385 125,384.7 120.7,386.8" fill="#00ff3a"/><polygon points="168.6,383.4 172.9,382.3 168.6,380.7 164.2,382" fill="#0f1"/><polygon points="203.2,388.7 207.5,388.2 203.2,385.4 198.9,386.1" fill="#00ff4c"/><polygon points="73.5,405.8 77.7,402.8 73.5,404.1 69.3,407.3" fill="#00e8ff" stroke-opacity="0.37"/><polygon points="82,401.5 86.2,398.7 82,399.8 77.7,402.8" fill="#00ffe2" stroke-opacity="0.57"/><polygon points="99.1,394.3 103.4,391.9 99.1,392.4 94.8,395.1" fill="#00ff8f" stroke-opacity="0.57"/><polygon points="107.7,391.4 112,389.1 107.7,389.4 103.4,391.9" fill="#00ff6e" stroke-opacity="0.57"/><polygon points="116.3,388.9 120.7,386.8 116.3,386.8 112,389.1" fill="#00ff51" stroke-opacity="0.57"/><polygon points="133.7,385.3 138.1,383.5 133.7,383 129.4,385" fill="#00ff27"/><polygon points="142.4,384.2 146.8,382.6 142.4,381.7 138.1,383.5" fill="#00ff1a"/><polygon points="151.1,383.5 155.5,382 151.1,380.9 146.8,382.6" fill="#00ff12"/><polygon points="159.9,383.2 164.2,382 159.8,380.6 155.5,382" fill="#00ff0f"/><polygon points="177.3,384.1 181.6,383.1 177.3,381.2 172.9,382.3" fill="#00ff18"/><polygon points="186,385.2 190.3,384.4 185.9,382.1 181.6,383.1" fill="#00ff24"/><polygon points="194.6,386.7 198.9,386.1 194.6,383.5 190.3,384.4" fill="#00ff36"/><polygon points="211.8,391.1 216.1,390.7 211.8,387.6 207.5,388.2" fill="#00ff68"/><polygon points="220.3,393.9 224.6,393.7 220.3,390.3 216.1,390.7" fill="#0f8"/><polygon points="77.7,404.3 82,401.5 77.7,402.8 73.5,405.8" fill="#00fff0" stroke-opacity="0.37"/><polygon points="86.2,400.3 90.5,397.7 86.2,398.7 82,401.5" fill="#00ffc2" stroke-opacity="0.37"/><polygon points="94.8,396.7 99.1,394.3 94.8,395.1 90.5,397.7" fill="#00ff9a" stroke-opacity="0.37"/><polygon points="112,391 116.3,388.9 112,389.1 107.7,391.4" fill="#00ff58" stroke-opacity="0.57"/><polygon points="120.7,388.8 125,386.9 120.7,386.8 116.3,388.9" fill="#00ff3e" stroke-opacity="0.57"/><polygon points="129.4,387 133.7,385.3 129.4,385 125,386.9" fill="#00ff2a" stroke-opacity="0.57"/><polygon points="146.8,384.8 151.1,383.5 146.8,382.6 142.4,384.2" fill="#0f1"/><polygon points="164.2,384.5 168.6,383.4 164.2,382 159.9,383.2" fill="#00ff0c"/><polygon points="172.9,384.9 177.3,384.1 172.9,382.3 168.6,383.4" fill="#0f1"/><polygon points="181.6,385.9 186,385.2 181.6,383.1 177.3,384.1" fill="#00ff1c"/><polygon points="198.9,389.1 203.2,388.7 198.9,386.1 194.6,386.7" fill="#00ff3f"/><polygon points="207.5,391.3 211.8,391.1 207.5,388.2 203.2,388.7" fill="#00ff59"/><polygon points="216.1,394 220.3,393.9 216.1,390.7 211.8,391.1" fill="#00ff78"/><polygon points="103.4,393.6 107.7,391.4 103.4,391.9 99.1,394.3" fill="#00ff76" stroke-opacity="0.57"/><polygon points="138.1,385.7 142.4,384.2 138.1,383.5 133.7,385.3" fill="#00ff1b"/><polygon points="155.5,384.4 159.9,383.2 155.5,382 151.1,383.5" fill="#00ff0c"/><polygon points="190.3,387.3 194.6,386.7 190.3,384.4 186,385.2" fill="#00ff2b"/><polygon points="81.9,402.8 86.2,400.3 82,401.5 77.7,404.3" fill="#00ffce" stroke-opacity="0.37"/><polygon points="116.3,390.6 120.7,388.8 116.3,388.9 112,391" fill="#00ff43" stroke-opacity="0.57"/><polygon points="177.3,386.5 181.6,385.9 177.3,384.1 172.9,384.9" fill="#00ff12"/><polygon points="211.8,394.1 216.1,394 211.8,391.1 207.5,391.3" fill="#00ff67"/><polygon points="90.4,399.1 94.8,396.7 90.5,397.7 86.2,400.3" fill="#00ffa4" stroke-opacity="0.37"/><polygon points="99,395.8 103.4,393.6 99.1,394.3 94.8,396.7" fill="#00ff7e" stroke-opacity="0.37"/><polygon points="107.7,393 112,391 107.7,391.4 103.4,393.6" fill="#00ff5e" stroke-opacity="0.37"/><polygon points="125,388.7 129.4,387 125,386.9 120.7,388.8" fill="#00ff2d" stroke-opacity="0.57"/><polygon points="133.7,387.2 138.1,385.7 133.7,385.3 129.4,387" fill="#00ff1b" stroke-opacity="0.57"/><polygon points="142.4,386.1 146.8,384.8 142.4,384.2 138.1,385.7" fill="#00ff0f" stroke-opacity="0.57"/><polygon points="151.2,385.6 155.5,384.4 151.1,383.5 146.8,384.8" fill="#00ff08" stroke-opacity="0.57"/><polygon points="159.9,385.4 164.2,384.5 159.9,383.2 155.5,384.4" fill="#00ff07"/><polygon points="168.6,385.8 172.9,384.9 168.6,383.4 164.2,384.5" fill="#00ff0a"/><polygon points="186,387.8 190.3,387.3 186,385.2 181.6,385.9" fill="#00ff20"/><polygon points="194.6,389.4 198.9,389.1 194.6,386.7 190.3,387.3" fill="#00ff32"/><polygon points="203.3,391.5 207.5,391.3 203.2,388.7 198.9,389.1" fill="#00ff4a"/><polygon points="86.1,401.4 90.4,399.1 86.2,400.3 81.9,402.8" fill="#00ffad" stroke-opacity="0.2"/><polygon points="103.3,394.9 107.7,393 103.4,393.6 99,395.8" fill="#00ff64" stroke-opacity="0.37"/><polygon points="112,392.4 116.3,390.6 112,391 107.7,393" fill="#00ff46" stroke-opacity="0.37"/><polygon points="120.7,390.3 125,388.7 120.7,388.8 116.3,390.6" fill="#00ff2e" stroke-opacity="0.37"/><polygon points="138.1,387.4 142.4,386.1 138.1,385.7 133.7,387.2" fill="#00ff0d" stroke-opacity="0.57"/><polygon points="155.5,386.4 159.9,385.4 155.5,384.4 151.2,385.6" fill="#00ff01" stroke-opacity="0.57"/><polygon points="173,387.1 177.3,386.5 172.9,384.9 168.6,385.8" fill="#00ff08"/><polygon points="181.7,388.2 186,387.8 181.6,385.9 177.3,386.5" fill="#00ff14"/><polygon points="190.3,389.7 194.6,389.4 190.3,387.3 186,387.8" fill="#00ff25"/><polygon points="207.6,394.1 211.8,394.1 207.5,391.3 203.3,391.5" fill="#0f5"/><polygon points="94.7,397.9 99,395.8 94.8,396.7 90.4,399.1" fill="#00ff86" stroke-opacity="0.37"/><polygon points="129.4,388.6 133.7,387.2 129.4,387 125,388.7" fill="#00ff1b" stroke-opacity="0.37"/><polygon points="146.8,386.7 151.2,385.6 146.8,384.8 142.4,386.1" fill="#00ff04" stroke-opacity="0.57"/><polygon points="164.3,386.5 168.6,385.8 164.2,384.5 159.9,385.4" fill="#00ff02" stroke-opacity="0.57"/><polygon points="199,391.7 203.3,391.5 198.9,389.1 194.6,389.4" fill="#00ff3a"/><polygon points="107.6,394.1 112,392.4 107.7,393 103.3,394.9" fill="#00ff4a" stroke-opacity="0.2"/><polygon points="186,389.9 190.3,389.7 186,387.8 181.7,388.2" fill="#00ff16"/><polygon points="90.4,400 94.7,397.9 90.4,399.1 86.1,401.4" fill="#00ff8d" stroke-opacity="0.2"/><polygon points="99,396.8 103.3,394.9 99,395.8 94.7,397.9" fill="#00ff69" stroke-opacity="0.2"/><polygon points="116.3,391.8 120.7,390.3 116.3,390.6 112,392.4" fill="#00ff30" stroke-opacity="0.37"/><polygon points="125,390 129.4,388.6 125,388.7 120.7,390.3" fill="#00ff1b" stroke-opacity="0.37"/><polygon points="133.7,388.6 138.1,387.4 133.7,387.2 129.4,388.6" fill="#00ff0b" stroke-opacity="0.37"/><polygon points="142.5,387.7 146.8,386.7 142.4,386.1 138.1,387.4" fill="#0f0" stroke-opacity="0.37"/><polygon points="151.2,387.2 155.5,386.4 151.2,385.6 146.8,386.7" fill="#06ff00" stroke-opacity="0.57"/><polygon points="159.9,387.2 164.3,386.5 159.9,385.4 155.5,386.4" fill="#06ff00" stroke-opacity="0.57"/><polygon points="168.6,387.7 173,387.1 168.6,385.8 164.3,386.5" fill="#02ff00" stroke-opacity="0.57"/><polygon points="177.4,388.6 181.7,388.2 177.3,386.5 173,387.1" fill="#00ff08" stroke-opacity="0.57"/><polygon points="194.7,391.7 199,391.7 194.6,389.4 190.3,389.7" fill="#00ff2a"/><polygon points="203.3,394 207.6,394.1 203.3,391.5 199,391.7" fill="#00ff43"/><polygon points="94.7,398.7 99,396.8 94.7,397.9 90.4,400" fill="#00ff6d" stroke-opacity="0.2"/><polygon points="103.3,395.8 107.6,394.1 103.3,394.9 99,396.8" fill="#00ff4c" stroke-opacity="0.2"/><polygon points="112,393.3 116.3,391.8 112,392.4 107.6,394.1" fill="#00ff30" stroke-opacity="0.2"/><polygon points="129.4,389.8 133.7,388.6 129.4,388.6 125,390" fill="#00ff08" stroke-opacity="0.2"/><polygon points="146.8,388 151.2,387.2 146.8,386.7 142.5,387.7" fill="#0dff00" stroke-opacity="0.37"/><polygon points="164.3,388.1 168.6,387.7 164.3,386.5 159.9,387.2" fill="#0dff00" stroke-opacity="0.37"/><polygon points="181.7,390.1 186,389.9 181.7,388.2 177.4,388.6" fill="#00ff08" stroke-opacity="0.57"/><polygon points="190.4,391.7 194.7,391.7 190.3,389.7 186,389.9" fill="#00ff1a" stroke-opacity="0.57"/><polygon points="199,393.8 203.3,394 199,391.7 194.7,391.7" fill="#00ff30"/><polygon points="120.7,391.3 125,390 120.7,390.3 116.3,391.8" fill="#00ff19" stroke-opacity="0.2"/><polygon points="138.1,388.7 142.5,387.7 138.1,387.4 133.7,388.6" fill="#05ff00" stroke-opacity="0.37"/><polygon points="155.6,387.9 159.9,387.2 155.5,386.4 151.2,387.2" fill="#0fff00" stroke-opacity="0.37"/><polygon points="173,388.9 177.4,388.6 173,387.1 168.6,387.7" fill="#05ff00" stroke-opacity="0.57"/><polygon points="99,397.4 103.3,395.8 99,396.8 94.7,398.7" fill="#00ff4e" stroke-opacity="0.07"/><polygon points="194.8,393.6 199,393.8 194.7,391.7 190.4,391.7" fill="#00ff1d" stroke-opacity="0.57"/><polygon points="107.6,394.7 112,393.3 107.6,394.1 103.3,395.8" fill="#00ff30" stroke-opacity="0.07"/><polygon points="116.3,392.6 120.7,391.3 116.3,391.8 112,393.3" fill="#00ff18" stroke-opacity="0.2"/><polygon points="125,390.8 129.4,389.8 125,390 120.7,391.3" fill="#00ff04" stroke-opacity="0.2"/><polygon points="133.7,389.6 138.1,388.7 133.7,388.6 129.4,389.8" fill="#0bff00" stroke-opacity="0.2"/><polygon points="142.5,388.8 146.8,388 142.5,387.7 138.1,388.7" fill="#14ff00" stroke-opacity="0.2"/><polygon points="151.2,388.4 155.6,387.9 151.2,387.2 146.8,388" fill="#19ff00" stroke-opacity="0.37"/><polygon points="160,388.5 164.3,388.1 159.9,387.2 155.6,387.9" fill="#18ff00" stroke-opacity="0.37"/><polygon points="168.7,389.1 173,388.9 168.6,387.7 164.3,388.1" fill="#12ff00" stroke-opacity="0.37"/><polygon points="177.4,390.2 181.7,390.1 177.4,388.6 173,388.9" fill="#08ff00" stroke-opacity="0.37"/><polygon points="186.1,391.6 190.4,391.7 186,389.9 181.7,390.1" fill="#00ff08" stroke-opacity="0.57"/><polygon points="103.3,396.1 107.6,394.7 103.3,395.8 99,397.4" fill="#00ff30" stroke-opacity="0.07"/><polygon points="120.7,391.9 125,390.8 120.7,391.3 116.3,392.6" fill="#0f0" stroke-opacity="0.07"/><polygon points="138.1,389.5 142.5,388.8 138.1,388.7 133.7,389.6" fill="#1cff00" stroke-opacity="0.2"/><polygon points="155.6,388.9 160,388.5 155.6,387.9 151.2,388.4" fill="#24ff00" stroke-opacity="0.2"/><polygon points="173.1,390.2 177.4,390.2 173,388.9 168.7,389.1" fill="#17ff00" stroke-opacity="0.37"/><polygon points="190.5,393.3 194.8,393.6 190.4,391.7 186.1,391.6" fill="#00ff0a" stroke-opacity="0.37"/><polygon points="111.9,393.8 116.3,392.6 112,393.3 107.6,394.7" fill="#00ff15" stroke-opacity="0.07"/><polygon points="129.4,390.4 133.7,389.6 129.4,389.8 125,390.8" fill="#1f0" stroke-opacity="0.07"/><polygon points="146.9,388.9 151.2,388.4 146.8,388 142.5,388.8" fill="#23ff00" stroke-opacity="0.2"/><polygon points="164.3,389.3 168.7,389.1 164.3,388.1 160,388.5" fill="#20ff00" stroke-opacity="0.2"/><polygon points="181.8,391.5 186.1,391.6 181.7,390.1 177.4,390.2" fill="#09ff00" stroke-opacity="0.37"/><polygon points="107.6,394.9 111.9,393.8 107.6,394.7 103.3,396.1" fill="#00ff12" stroke-opacity="0"/><polygon points="116.3,392.8 120.7,391.9 116.3,392.6 111.9,393.8" fill="#05ff00" stroke-opacity="0.07"/><polygon points="125,391.2 129.4,390.4 125,390.8 120.7,391.9" fill="#18ff00" stroke-opacity="0.07"/><polygon points="133.7,390.1 138.1,389.5 133.7,389.6 129.4,390.4" fill="#25ff00" stroke-opacity="0.07"/><polygon points="142.5,389.4 146.9,388.9 142.5,388.8 138.1,389.5" fill="#2dff00" stroke-opacity="0.07"/><polygon points="151.3,389.2 155.6,388.9 151.2,388.4 146.9,388.9" fill="#31ff00" stroke-opacity="0.2"/><polygon points="160,389.4 164.3,389.3 160,388.5 155.6,388.9" fill="#2fff00" stroke-opacity="0.2"/><polygon points="168.7,390.1 173.1,390.2 168.7,389.1 164.3,389.3" fill="#28ff00" stroke-opacity="0.2"/><polygon points="177.5,391.3 181.8,391.5 177.4,390.2 173.1,390.2" fill="#1cff00" stroke-opacity="0.2"/><polygon points="186.2,392.9 190.5,393.3 186.1,391.6 181.8,391.5" fill="#0bff00" stroke-opacity="0.37"/><polygon points="111.9,393.7 116.3,392.8 111.9,393.8 107.6,394.9" fill="#0bff00" stroke-opacity="0"/><polygon points="129.4,390.6 133.7,390.1 129.4,390.4 125,391.2" fill="#2eff00" stroke-opacity="0"/><polygon points="164.4,390 168.7,390.1 164.3,389.3 160,389.4" fill="#39ff00" stroke-opacity="0.07"/><polygon points="181.9,392.5 186.2,392.9 181.8,391.5 177.5,391.3" fill="#1fff00" stroke-opacity="0.2"/><polygon points="146.9,389.4 151.3,389.2 146.9,388.9 142.5,389.4" fill="#3eff00" stroke-opacity="0.07"/><polygon points="120.6,392 125,391.2 120.7,391.9 116.3,392.8" fill="#1fff00" stroke-opacity="0"/><polygon points="138.1,389.8 142.5,389.4 138.1,389.5 133.7,390.1" fill="#39ff00" stroke-opacity="0.07"/><polygon points="155.6,389.4 160,389.4 155.6,388.9 151.3,389.2" fill="#3eff00" stroke-opacity="0.07"/><polygon points="173.1,391 177.5,391.3 173.1,390.2 168.7,390.1" fill="#2fff00" stroke-opacity="0.2"/><polygon points="116.3,392.6 120.6,392 116.3,392.8 111.9,393.7" fill="#27ff00" stroke-opacity="0"/><polygon points="125,391.1 129.4,390.6 125,391.2 120.6,392" fill="#38ff00" stroke-opacity="0"/><polygon points="133.8,390.1 138.1,389.8 133.7,390.1 129.4,390.6" fill="#4f0" stroke-opacity="0"/><polygon points="142.5,389.5 146.9,389.4 142.5,389.4 138.1,389.8" fill="#4bff00" stroke-opacity="0"/><polygon points="151.3,389.4 155.6,389.4 151.3,389.2 146.9,389.4" fill="#4dff00" stroke-opacity="0.07"/><polygon points="160,389.8 164.4,390 160,389.4 155.6,389.4" fill="#4aff00" stroke-opacity="0.07"/><polygon points="168.8,390.6 173.1,391 168.7,390.1 164.4,390" fill="#42ff00" stroke-opacity="0.07"/><polygon points="177.5,391.9 181.9,392.5 177.5,391.3 173.1,391" fill="#35ff00" stroke-opacity="0.07"/><polygon points="120.6,391.5 125,391.1 120.6,392 116.3,392.6" fill="#42ff00" stroke-opacity="0.07"/><polygon points="173.2,391.3 177.5,391.9 173.1,391 168.8,390.6" fill="#4aff00" stroke-opacity="0.07"/><polygon points="138.1,389.6 142.5,389.5 138.1,389.8 133.8,390.1" fill="#59ff00" stroke-opacity="0"/><polygon points="146.9,389.3 151.3,389.4 146.9,389.4 142.5,389.5" fill="#5dff00" stroke-opacity="0"/><polygon points="155.7,389.5 160,389.8 155.6,389.4 151.3,389.4" fill="#5cff00" stroke-opacity="0"/><polygon points="129.4,390.3 133.8,390.1 129.4,390.6 125,391.1" fill="#50ff00" stroke-opacity="0.07"/><polygon points="164.5,390.2 168.8,390.6 164.4,390 160,389.8" fill="#56ff00" stroke-opacity="0"/><polygon points="125,390.5 129.4,390.3 125,391.1 120.6,391.5" fill="#5dff00" stroke-opacity="0.07"/><polygon points="133.8,389.6 138.1,389.6 133.8,390.1 129.4,390.3" fill="#68ff00" stroke-opacity="0.07"/><polygon points="142.5,389.1 146.9,389.3 142.5,389.5 138.1,389.6" fill="#6eff00" stroke-opacity="0.07"/><polygon points="151.3,389.2 155.7,389.5 151.3,389.4 146.9,389.3" fill="#6fff00" stroke-opacity="0.07"/><polygon points="160.1,389.7 164.5,390.2 160,389.8 155.7,389.5" fill="#6aff00" stroke-opacity="0"/><polygon points="168.9,390.6 173.2,391.3 168.8,390.6 164.5,390.2" fill="#61ff00" stroke-opacity="0"/><polygon points="129.4,389.5 133.8,389.6 129.4,390.3 125,390.5" fill="#7f0" stroke-opacity="0.2"/><polygon points="138.2,388.9 142.5,389.1 138.1,389.6 133.8,389.6" fill="#7fff00" stroke-opacity="0.07"/><polygon points="146.9,388.8 151.3,389.2 146.9,389.3 142.5,389.1" fill="#82ff00" stroke-opacity="0.07"/><polygon points="155.7,389.1 160.1,389.7 155.7,389.5 151.3,389.2" fill="#7fff00" stroke-opacity="0.07"/><polygon points="164.5,389.9 168.9,390.6 164.5,390.2 160.1,389.7" fill="#78ff00" stroke-opacity="0.07"/><polygon points="133.8,388.6 138.2,388.9 133.8,389.6 129.4,389.5" fill="#91ff00" stroke-opacity="0.2"/><polygon points="142.6,388.3 146.9,388.8 142.5,389.1 138.2,388.9" fill="#95ff00" stroke-opacity="0.2"/><polygon points="151.4,388.4 155.7,389.1 151.3,389.2 146.9,388.8" fill="#95ff00" stroke-opacity="0.2"/><polygon points="160.2,389.1 164.5,389.9 160.1,389.7 155.7,389.1" fill="#8fff00" stroke-opacity="0.07"/><polygon points="138.2,387.7 142.6,388.3 138.2,388.9 133.8,388.6" fill="#a9ff00" stroke-opacity="0.37"/><polygon points="147,387.7 151.4,388.4 146.9,388.8 142.6,388.3" fill="#abff00" stroke-opacity="0.2"/><polygon points="155.8,388.1 160.2,389.1 155.7,389.1 151.4,388.4" fill="#a7ff00" stroke-opacity="0.2"/><polygon points="142.6,386.9 147,387.7 142.6,388.3 138.2,387.7" fill="#c2ff00" stroke-opacity="0.37"/><polygon points="151.4,387.1 155.8,388.1 151.4,388.4 147,387.7" fill="#c0ff00" stroke-opacity="0.37"/><polygon points="147,386.1 151.4,387.1 147,387.7 142.6,386.9" fill="#d9ff00" stroke-opacity="0.37"/></g>
<line x1="56.8" y1="412.1" x2="56.7" y2="408.8" stroke="#555" stroke-width="0.6"/><circle cx="56.7" cy="408.8" r="1.6" fill="#b00000" stroke="#700000" stroke-width="0.5"/>
<line x1="146.8" y1="378.4" x2="146.8" y2="367.7" stroke="#555" stroke-width="0.6"/><circle cx="146.8" cy="367.7" r="1.6" fill="#b00000" stroke="#700000" stroke-width="0.5"/>
<circle cx="147" cy="502.2" r="0.6" fill="#222"/>
<text x="150.5" y="509.7" font-size="6.5" text-anchor="start" fill="#111" class="t">5</text>
<circle cx="164.5" cy="492.8" r="0.6" fill="#222"/>
<text x="168" y="500.3" font-size="6.5" text-anchor="start" fill="#111" class="t">6</text>
<circle cx="182" cy="483.3" r="0.6" fill="#222"/>
<text x="185.5" y="490.8" font-size="6.5" text-anchor="start" fill="#111" class="t">7</text>
<circle cx="199.5" cy="473.9" r="0.6" fill="#222"/>
<text x="203" y="481.4" font-size="6.5" text-anchor="start" fill="#111" class="t">8</text>
<circle cx="217" cy="464.4" r="0.6" fill="#222"/>
<text x="220.5" y="471.9" font-size="6.5" text-anchor="start" fill="#111" class="t">9</text>
<circle cx="234.5" cy="455" r="0.6" fill="#222"/>
<text x="238" y="462.5" font-size="6.5" text-anchor="start" fill="#111" class="t">10</text>
<text x="224.4" y="499.2" font-size="6.6" text-anchor="middle" xml:space="preserve" fill="#111" class="t">A: Monomer (gm)</text>
<circle cx="147" cy="502.2" r="0.6" fill="#222"/>
<text x="143" y="509.7" font-size="6.5" text-anchor="end" fill="#111" class="t">0.04</text>
<circle cx="124.9" cy="490.4" r="0.6" fill="#222"/>
<text x="120.9" y="497.9" font-size="6.5" text-anchor="end" fill="#111" class="t">0.05</text>
<circle cx="102.8" cy="478.6" r="0.6" fill="#222"/>
<text x="98.8" y="486.1" font-size="6.5" text-anchor="end" fill="#111" class="t">0.06</text>
<circle cx="80.6" cy="466.8" r="0.6" fill="#222"/>
<text x="76.6" y="474.3" font-size="6.5" text-anchor="end" fill="#111" class="t">0.07</text>
<circle cx="58.5" cy="455" r="0.6" fill="#222"/>
<text x="54.5" y="462.5" font-size="6.5" text-anchor="end" fill="#111" class="t">0.08</text>
<text x="69" y="499.5" font-size="6.6" text-anchor="middle" xml:space="preserve" fill="#111" class="t">B: Cross-linker (gm)</text>
<text x="147.8" y="290.8" font-size="32" font-weight="bold" text-anchor="middle" fill="#000" font-family="Liberation Serif, Times New Roman, serif">D</text>
<path d="M284.9 427.3L378.9 395.5M378.9 395.5L473.2 427.5M284.2 412.8L378.9 382.3M378.9 382.3L473.9 413.1M283.6 398.3L379 369.2M379 369.2L474.5 398.6M282.9 383.8L379 356M379 356L475.2 384.2M282.2 369.4L379 342.8M379 342.8L475.9 369.8M281.5 354.9L379 329.6M379 329.6L476.6 355.4M280.9 340.4L379.1 316.5M379.1 316.5L477.2 340.9M280.2 325.9L379.1 303.3M379.1 303.3L477.9 326.5M284.9 427.3L280.2 325.9M308.4 419.4L304.9 320.2M331.9 411.4L329.6 314.6M355.4 403.4L354.4 308.9M378.9 395.5L379.1 303.3M397.8 401.9L398.9 307.9M416.6 408.3L418.6 312.6M435.5 414.7L438.4 317.2M454.3 421.1L458.1 321.9M473.2 427.5L477.9 326.5" stroke="#222" stroke-width="0.65" fill="none"/>
<path d="M284.9 427.3L286.4 458.6M378.9 395.5L378.7 422.8M473.2 427.5L471.6 458.6" stroke="#666" stroke-width="0.6" fill="none"/>
<polygon points="286.4,458.6 378.7,422.8 471.6,458.6 379.4,505.8" fill="#606060"/>
<polyline fill="none" stroke="#00b7ff" stroke-width="1" points="459.7,464.7 459.3,463.5 459,462 458.7,460.5 458.4,459 458.3,457.7 458.2,456.4 458.1,455.1 458.1,453.7 458.1,453.4"/>
<polyline fill="none" stroke="#00ffdc" stroke-width="1" points="446.1,471.7 445.4,470.5 444.6,468.8 444,467.7 443.4,466.1 442.8,464.7 442.4,463.5 442,462.1 441.6,460.5 441.4,459.2 441.2,457.9 441.1,456.6 441.1,455.2 441.1,453.8 441.2,452.4 441.4,451 441.6,449.7 441.9,448.5 442.3,447.3"/>
<polyline fill="none" stroke="#00ffdc" stroke-width="1" points="297.5,454.3 297.3,455.7 297.1,457.1 296.8,458.3 296.5,459.6 296,461.1 295.5,462.5 295.3,463.1"/>
<polyline fill="none" stroke="#00ff7a" stroke-width="1" points="431.6,479.1 430.3,477.7 429.2,476.5 427.9,475.1 426.6,473.6 425.4,472 424.6,470.9 423.5,469.4 422.5,467.9 421.8,466.7 421,465.1 420.3,463.8 419.8,462.6 419.3,461 418.9,459.6 418.7,458.4 418.5,457.1 418.4,455.7 418.5,454.4 418.6,452.9 418.9,451.5 419.3,450.1 419.7,449 420.3,447.5 420.9,446.2 421.7,444.9 422.5,443.6 423.6,442.1 424.3,441 424.7,440.5"/>
<polyline fill="none" stroke="#00ff7a" stroke-width="1" points="318.6,446.1 319.2,447.6 319.6,449 319.9,450.3 320.1,451.5 320.2,452.8 320.2,454.2 320.1,455.6 319.9,457.1 319.5,458.5 319.1,459.7 318.6,461 317.9,462.6 317.3,463.7 316.4,465.3 315.6,466.5 314.6,467.9 313.4,469.5 312.4,470.7 311.7,471.5"/>
<polyline fill="none" stroke="#00ff18" stroke-width="1" points="416.1,487 414.1,485.8 411.4,484.2 409.3,483 406.6,481.4 403.8,479.8 401.8,478.6 399,477 396.1,475.5 393.9,474.4 391,472.9 388,471.4 384.8,470.1 381.5,468.8 378.8,467.9 375.9,467.1 372.5,466.5 369.7,466.3 366.6,466.3 363.2,466.7 360.1,467.4 357.3,468.2 353.9,469.4 350.6,470.7 347.5,472 344.5,473.4 341.5,474.9 338.6,476.3 335.8,477.8 333.6,479 330.8,480.4 330.1,480.8"/>
<polyline fill="none" stroke="#00ff18" stroke-width="1" points="343.5,436.5 346.1,437.7 348.6,438.9 351.7,440.3 354.9,441.6 357.4,442.5 361.1,443.6 364.2,444.3 366.6,444.6 370.1,444.8 372.8,444.7 376.3,444.2 379.3,443.5 382,442.7 385.4,441.6 388.6,440.3 391.7,439 394.7,437.7 397.7,436.3 400.6,435 402.7,433.9 404.8,432.9"/>
<polyline fill="none" stroke="#49ff00" stroke-width="1" points="399.4,495.6 395.6,494.4 392.7,493.6 389.6,492.8 386.5,492.1 383.2,491.5 380.8,491.1 377.2,490.6 374.6,490.4 371.2,490.2 368,490.1 365,490.1 362.2,490.3 358.6,490.5 355.9,490.8 352.4,491.3 351.3,491.5"/>
<circle cx="284.9" cy="427.3" r="0.7" fill="#222"/>
<text x="281.7" y="425.9" font-size="6.5" text-anchor="end" fill="#111" class="t">1000</text>
<circle cx="284.2" cy="412.8" r="0.7" fill="#222"/>
<text x="281" y="411.4" font-size="6.5" text-anchor="end" fill="#111" class="t">1200</text>
<circle cx="283.6" cy="398.3" r="0.7" fill="#222"/>
<text x="280.4" y="396.9" font-size="6.5" text-anchor="end" fill="#111" class="t">1400</text>
<circle cx="282.9" cy="383.8" r="0.7" fill="#222"/>
<text x="279.7" y="382.4" font-size="6.5" text-anchor="end" fill="#111" class="t">1600</text>
<circle cx="282.2" cy="369.4" r="0.7" fill="#222"/>
<text x="279" y="368" font-size="6.5" text-anchor="end" fill="#111" class="t">1800</text>
<circle cx="281.5" cy="354.9" r="0.7" fill="#222"/>
<text x="278.3" y="353.5" font-size="6.5" text-anchor="end" fill="#111" class="t">2000</text>
<circle cx="280.9" cy="340.4" r="0.7" fill="#222"/>
<text x="277.7" y="339" font-size="6.5" text-anchor="end" fill="#111" class="t">2200</text>
<circle cx="280.2" cy="325.9" r="0.7" fill="#222"/>
<text x="277" y="324.5" font-size="6.5" text-anchor="end" fill="#111" class="t">2400</text>
<text transform="translate(253.8,395.6) rotate(-90)" font-size="7.2" text-anchor="middle" fill="#111" class="t">Degree of swelling pH7.2</text>
<line x1="379" y1="343.7" x2="379" y2="333.1" stroke="#555" stroke-width="0.6"/><circle cx="379" cy="333.1" r="1.6" fill="#b00000" stroke="#700000" stroke-width="0.5"/>
<line x1="379.4" y1="399.7" x2="379.4" y2="412.2" stroke="#555" stroke-width="0.6"/><circle cx="379.4" cy="412.2" r="1.9" fill="#f8caca" stroke="#b05050" stroke-width="0.5"/>
<line x1="473.7" y1="416.5" x2="473.3" y2="425.1" stroke="#555" stroke-width="0.6"/><circle cx="473.3" cy="425.1" r="1.9" fill="#f8caca" stroke="#b05050" stroke-width="0.5"/>
<g stroke="#000" stroke-opacity="0.8" stroke-width="0.5" stroke-linejoin="round"><polygon points="379,348.5 383.6,346.4 379,343.7 374.4,345.9" fill="#45ff00"/><polygon points="374.4,350.6 379,348.5 374.4,345.9 369.8,348.2" fill="#3bff00"/><polygon points="383.6,351.1 388.2,349.1 383.6,346.4 379,348.5" fill="#36ff00"/><polygon points="369.8,352.8 374.4,350.6 369.8,348.2 365.2,350.6" fill="#30ff00"/><polygon points="379,353.1 383.6,351.1 379,348.5 374.4,350.6" fill="#2dff00"/><polygon points="388.2,353.8 392.8,352 388.2,349.1 383.6,351.1" fill="#25ff00"/><polygon points="374.4,355.1 379,353.1 374.4,350.6 369.8,352.8" fill="#24ff00"/><polygon points="383.6,355.6 388.2,353.8 383.6,351.1 379,353.1" fill="#1fff00"/><polygon points="365.2,355.1 369.8,352.8 365.2,350.6 360.6,353" fill="#24ff00"/><polygon points="392.8,356.5 397.4,354.9 392.8,352 388.2,353.8" fill="#14ff00"/><polygon points="360.6,357.4 365.2,355.1 360.6,353 356,355.5" fill="#18ff00"/><polygon points="369.8,357.3 374.4,355.1 369.8,352.8 365.2,355.1" fill="#1bff00"/><polygon points="379,357.5 383.6,355.6 379,353.1 374.4,355.1" fill="#18ff00"/><polygon points="388.2,358.2 392.8,356.5 388.2,353.8 383.6,355.6" fill="#10ff00"/><polygon points="397.4,359.4 402,357.9 397.4,354.9 392.8,356.5" fill="#02ff00"/><polygon points="356.1,359.8 360.6,357.4 356,355.5 351.5,358" fill="#0bff00"/><polygon points="365.2,359.4 369.8,357.3 365.2,355.1 360.6,357.4" fill="#1f0"/><polygon points="392.8,360.9 397.4,359.4 392.8,356.5 388.2,358.2" fill="#01ff00"/><polygon points="402,362.3 406.5,360.9 402,357.9 397.4,359.4" fill="#00ff10"/><polygon points="374.4,359.5 379,357.5 374.4,355.1 369.8,357.3" fill="#1f0"/><polygon points="383.6,360 388.2,358.2 383.6,355.6 379,357.5" fill="#0bff00"/><polygon points="360.7,361.7 365.2,359.4 360.6,357.4 356.1,359.8" fill="#06ff00"/><polygon points="397.4,363.7 402,362.3 397.4,359.4 392.8,360.9" fill="#00ff10"/><polygon points="351.5,362.3 356.1,359.8 351.5,358 346.9,360.6" fill="#00ff03"/><polygon points="369.8,361.5 374.4,359.5 369.8,357.3 365.2,359.4" fill="#09ff00"/><polygon points="379,361.8 383.6,360 379,357.5 374.4,359.5" fill="#06ff00"/><polygon points="388.2,362.5 392.8,360.9 388.2,358.2 383.6,360" fill="#00ff02"/><polygon points="406.5,365.3 411.1,364.1 406.5,360.9 402,362.3" fill="#00ff23"/><polygon points="346.9,364.8 351.5,362.3 346.9,360.6 342.3,363.3" fill="#0f1"/><polygon points="356.1,364 360.7,361.7 356.1,359.8 351.5,362.3" fill="#00ff05"/><polygon points="365.3,363.6 369.8,361.5 365.2,359.4 360.7,361.7" fill="#0f0"/><polygon points="374.4,363.7 379,361.8 374.4,359.5 369.8,361.5" fill="#0f0"/><polygon points="383.6,364.2 388.2,362.5 383.6,360 379,361.8" fill="#00ff05"/><polygon points="392.8,365.1 397.4,363.7 392.8,360.9 388.2,362.5" fill="#00ff10"/><polygon points="401.9,366.5 406.5,365.3 402,362.3 397.4,363.7" fill="#00ff21"/><polygon points="411.1,368.3 415.6,367.3 411.1,364.1 406.5,365.3" fill="#00ff37"/><polygon points="342.4,367.3 346.9,364.8 342.3,363.3 337.8,366" fill="#00ff1f"/><polygon points="351.5,366.3 356.1,364 351.5,362.3 346.9,364.8" fill="#0f1"/><polygon points="360.7,365.7 365.3,363.6 360.7,361.7 356.1,364" fill="#00ff09"/><polygon points="369.9,365.6 374.4,363.7 369.8,361.5 365.3,363.6" fill="#00ff06"/><polygon points="379,365.9 383.6,364.2 379,361.8 374.4,363.7" fill="#00ff09"/><polygon points="388.2,366.6 392.8,365.1 388.2,362.5 383.6,364.2" fill="#0f1"/><polygon points="397.4,367.8 401.9,366.5 397.4,363.7 392.8,365.1" fill="#00ff1f"/><polygon points="406.5,369.4 411.1,368.3 406.5,365.3 401.9,366.5" fill="#0f3"/><polygon points="415.6,371.5 420.2,370.6 415.6,367.3 411.1,368.3" fill="#00ff4c"/><polygon points="337.8,370 342.4,367.3 337.8,366 333.2,368.8" fill="#00ff2e"/><polygon points="346.9,368.7 351.5,366.3 346.9,364.8 342.4,367.3" fill="#00ff1e"/><polygon points="356.1,367.9 360.7,365.7 356.1,364 351.5,366.3" fill="#00ff13"/><polygon points="365.3,367.6 369.9,365.6 365.3,363.6 360.7,365.7" fill="#00ff0d"/><polygon points="374.5,367.6 379,365.9 374.4,363.7 369.9,365.6" fill="#00ff0d"/><polygon points="383.6,368.2 388.2,366.6 383.6,364.2 379,365.9" fill="#00ff13"/><polygon points="392.8,369.1 397.4,367.8 392.8,365.1 388.2,366.6" fill="#00ff1e"/><polygon points="401.9,370.5 406.5,369.4 401.9,366.5 397.4,367.8" fill="#00ff2f"/><polygon points="411.1,372.4 415.6,371.5 411.1,368.3 406.5,369.4" fill="#00ff45"/><polygon points="420.2,374.7 424.7,374 420.2,370.6 415.6,371.5" fill="#00ff61"/><polygon points="333.2,372.7 337.8,370 333.2,368.8 328.7,371.7" fill="#00ff3e"/><polygon points="342.4,371.2 346.9,368.7 342.4,367.3 337.8,370" fill="#00ff2b"/><polygon points="351.5,370.2 356.1,367.9 351.5,366.3 346.9,368.7" fill="#00ff1d"/><polygon points="369.9,369.5 374.5,367.6 369.9,365.6 365.3,367.6" fill="#00ff12"/><polygon points="379,369.8 383.6,368.2 379,365.9 374.5,367.6" fill="#00ff15"/><polygon points="388.2,370.5 392.8,369.1 388.2,366.6 383.6,368.2" fill="#00ff1d"/><polygon points="406.5,373.4 411.1,372.4 406.5,369.4 401.9,370.5" fill="#00ff3f"/><polygon points="415.6,375.5 420.2,374.7 415.6,371.5 411.1,372.4" fill="#00ff58"/><polygon points="424.7,378 429.2,377.4 424.7,374 420.2,374.7" fill="#0f7"/><polygon points="360.7,369.6 365.3,367.6 360.7,365.7 356.1,367.9" fill="#00ff15"/><polygon points="397.4,371.7 401.9,370.5 397.4,367.8 392.8,369.1" fill="#00ff2b"/><polygon points="337.8,373.7 342.4,371.2 337.8,370 333.2,372.7" fill="#00ff38"/><polygon points="347,372.5 351.5,370.2 346.9,368.7 342.4,371.2" fill="#00ff28"/><polygon points="374.5,371.4 379,369.8 374.5,367.6 369.9,369.5" fill="#00ff18"/><polygon points="383.6,372 388.2,370.5 383.6,368.2 379,369.8" fill="#00ff1d"/><polygon points="411.1,376.3 415.6,375.5 411.1,372.4 406.5,373.4" fill="#00ff50"/><polygon points="420.2,378.6 424.7,378 420.2,374.7 415.6,375.5" fill="#00ff6c"/><polygon points="328.7,375.4 333.2,372.7 328.7,371.7 324.1,374.6" fill="#00ff4e"/><polygon points="356.1,371.7 360.7,369.6 356.1,367.9 351.5,370.2" fill="#00ff1d"/><polygon points="365.3,371.3 369.9,369.5 365.3,367.6 360.7,369.6" fill="#00ff18"/><polygon points="392.8,373 397.4,371.7 392.8,369.1 388.2,370.5" fill="#00ff29"/><polygon points="401.9,374.4 406.5,373.4 401.9,370.5 397.4,371.7" fill="#00ff3a"/><polygon points="429.2,381.4 433.7,381 429.2,377.4 424.7,378" fill="#00ff8d"/><polygon points="324.2,378.3 328.7,375.4 324.1,374.6 319.6,377.6" fill="#00ff5f"/><polygon points="333.3,376.3 337.8,373.7 333.2,372.7 328.7,375.4" fill="#00ff47"/><polygon points="342.4,374.9 347,372.5 342.4,371.2 337.8,373.7" fill="#0f3"/><polygon points="351.6,373.8 356.1,371.7 351.5,370.2 347,372.5" fill="#00ff26"/><polygon points="360.7,373.3 365.3,371.3 360.7,369.6 356.1,371.7" fill="#00ff1e"/><polygon points="369.9,373.1 374.5,371.4 369.9,369.5 365.3,371.3" fill="#00ff1b"/><polygon points="379.1,373.5 383.6,372 379,369.8 374.5,371.4" fill="#00ff1e"/><polygon points="388.2,374.2 392.8,373 388.2,370.5 383.6,372" fill="#00ff27"/><polygon points="397.4,375.5 401.9,374.4 397.4,371.7 392.8,373" fill="#00ff35"/><polygon points="406.5,377.1 411.1,376.3 406.5,373.4 401.9,374.4" fill="#00ff48"/><polygon points="415.6,379.2 420.2,378.6 415.6,375.5 411.1,376.3" fill="#00ff62"/><polygon points="424.7,381.8 429.2,381.4 424.7,378 420.2,378.6" fill="#00ff80"/><polygon points="433.7,384.8 438.2,384.6 433.7,381 429.2,381.4" fill="#00ffa5"/><polygon points="328.7,379 333.3,376.3 328.7,375.4 324.2,378.3" fill="#0f5"/><polygon points="356.1,375.2 360.7,373.3 356.1,371.7 351.6,373.8" fill="#00ff24"/><polygon points="365.3,374.9 369.9,373.1 365.3,371.3 360.7,373.3" fill="#00ff1f"/><polygon points="392.8,376.6 397.4,375.5 392.8,373 388.2,374.2" fill="#00ff30"/><polygon points="402,378 406.5,377.1 401.9,374.4 397.4,375.5" fill="#00ff41"/><polygon points="429.2,385.1 433.7,384.8 429.2,381.4 424.7,381.8" fill="#00ff95"/><polygon points="319.7,381.1 324.2,378.3 319.6,377.6 315.1,380.6" fill="#00ff71"/><polygon points="337.8,377.3 342.4,374.9 337.8,373.7 333.3,376.3" fill="#00ff3f"/><polygon points="347,376 351.6,373.8 347,372.5 342.4,374.9" fill="#00ff2f"/><polygon points="374.5,375 379.1,373.5 374.5,371.4 369.9,373.1" fill="#00ff1f"/><polygon points="383.7,375.6 388.2,374.2 383.6,372 379.1,373.5" fill="#00ff25"/><polygon points="411.1,379.9 415.6,379.2 411.1,376.3 406.5,377.1" fill="#00ff58"/><polygon points="420.2,382.3 424.7,381.8 420.2,378.6 415.6,379.2" fill="#00ff74"/><polygon points="438.2,388.3 442.7,388.3 438.2,384.6 433.7,384.8" fill="#00ffbd"/><polygon points="360.7,376.7 365.3,374.9 360.7,373.3 356.1,375.2" fill="#00ff23"/><polygon points="397.4,379 402,378 397.4,375.5 392.8,376.6" fill="#00ff3b"/><polygon points="315.1,384.1 319.7,381.1 315.1,380.6 310.6,383.7" fill="#00ff83"/><polygon points="324.2,381.7 328.7,379 324.2,378.3 319.7,381.1" fill="#00ff65"/><polygon points="333.3,379.8 337.8,377.3 333.3,376.3 328.7,379" fill="#00ff4c"/><polygon points="342.4,378.3 347,376 342.4,374.9 337.8,377.3" fill="#00ff39"/><polygon points="351.6,377.3 356.1,375.2 351.6,373.8 347,376" fill="#00ff2b"/><polygon points="369.9,376.6 374.5,375 369.9,373.1 365.3,374.9" fill="#00ff21"/><polygon points="379.1,376.9 383.7,375.6 379.1,373.5 374.5,375" fill="#00ff24"/><polygon points="388.2,377.7 392.8,376.6 388.2,374.2 383.7,375.6" fill="#00ff2d"/><polygon points="406.5,380.7 411.1,379.9 406.5,377.1 402,378" fill="#00ff4f"/><polygon points="415.6,382.8 420.2,382.3 415.6,379.2 411.1,379.9" fill="#00ff68"/><polygon points="424.7,385.4 429.2,385.1 424.7,381.8 420.2,382.3" fill="#00ff87"/><polygon points="433.7,388.5 438.2,388.3 433.7,384.8 429.2,385.1" fill="#00ffab"/><polygon points="442.7,392 447.2,392 442.7,388.3 438.2,388.3" fill="#00ffd5"/><polygon points="310.6,387.1 315.1,384.1 310.6,383.7 306.1,386.9" fill="#00ff95"/><polygon points="319.7,384.5 324.2,381.7 319.7,381.1 315.1,384.1" fill="#00ff74"/><polygon points="328.8,382.3 333.3,379.8 328.7,379 324.2,381.7" fill="#00ff59"/><polygon points="337.9,380.6 342.4,378.3 337.8,377.3 333.3,379.8" fill="#00ff43"/><polygon points="347,379.4 351.6,377.3 347,376 342.4,378.3" fill="#0f3"/><polygon points="356.2,378.6 360.7,376.7 356.1,375.2 351.6,377.3" fill="#00ff28"/><polygon points="365.3,378.2 369.9,376.6 365.3,374.9 360.7,376.7" fill="#00ff23"/><polygon points="374.5,378.4 379.1,376.9 374.5,375 369.9,376.6" fill="#00ff24"/><polygon points="383.7,378.9 388.2,377.7 383.7,375.6 379.1,376.9" fill="#00ff2a"/><polygon points="392.8,380 397.4,379 392.8,376.6 388.2,377.7" fill="#00ff35"/><polygon points="402,381.4 406.5,380.7 402,378 397.4,379" fill="#00ff46"/><polygon points="411.1,383.4 415.6,382.8 411.1,379.9 406.5,380.7" fill="#00ff5d"/><polygon points="420.2,385.8 424.7,385.4 420.2,382.3 415.6,382.8" fill="#00ff79"/><polygon points="429.2,388.6 433.7,388.5 429.2,385.1 424.7,385.4" fill="#00ff9b"/><polygon points="438.2,391.9 442.7,392 438.2,388.3 433.7,388.5" fill="#00ffc2"/><polygon points="447.2,395.7 451.6,395.9 447.2,392 442.7,392" fill="#00ffef"/><polygon points="306.1,390.2 310.6,387.1 306.1,386.9 301.6,390.2" fill="#00ffa9"/><polygon points="315.2,387.4 319.7,384.5 315.1,384.1 310.6,387.1" fill="#00ff85"/><polygon points="324.2,385 328.8,382.3 324.2,381.7 319.7,384.5" fill="#00ff67"/><polygon points="342.4,381.5 347,379.4 342.4,378.3 337.9,380.6" fill="#00ff3b"/><polygon points="351.6,380.5 356.2,378.6 351.6,377.3 347,379.4" fill="#00ff2e"/><polygon points="360.8,380 365.3,378.2 360.7,376.7 356.2,378.6" fill="#00ff26"/><polygon points="369.9,379.8 374.5,378.4 369.9,376.6 365.3,378.2" fill="#00ff24"/><polygon points="379.1,380.2 383.7,378.9 379.1,376.9 374.5,378.4" fill="#00ff27"/><polygon points="388.3,381 392.8,380 388.2,377.7 383.7,378.9" fill="#00ff30"/><polygon points="397.4,382.3 402,381.4 397.4,379 392.8,380" fill="#00ff3e"/><polygon points="406.5,384 411.1,383.4 406.5,380.7 402,381.4" fill="#00ff52"/><polygon points="415.6,386.2 420.2,385.8 415.6,382.8 411.1,383.4" fill="#00ff6b"/><polygon points="433.7,391.9 438.2,391.9 433.7,388.5 429.2,388.6" fill="#00ffaf"/><polygon points="442.7,395.4 447.2,395.7 442.7,392 438.2,391.9" fill="#00ffd9"/><polygon points="451.6,399.4 456.1,399.8 451.6,395.9 447.2,395.7" fill="#00f4ff"/><polygon points="333.3,383 337.9,380.6 333.3,379.8 328.8,382.3" fill="#00ff4e"/><polygon points="424.7,388.8 429.2,388.6 424.7,385.4 420.2,385.8" fill="#00ff8a"/><polygon points="301.6,393.4 306.1,390.2 301.6,390.2 297.2,393.5" fill="#00ffbc"/><polygon points="310.6,390.3 315.2,387.4 310.6,387.1 306.1,390.2" fill="#00ff96"/><polygon points="319.7,387.6 324.2,385 319.7,384.5 315.2,387.4" fill="#00ff75"/><polygon points="328.8,385.5 333.3,383 328.8,382.3 324.2,385" fill="#00ff5a"/><polygon points="337.9,383.8 342.4,381.5 337.9,380.6 333.3,383" fill="#0f4"/><polygon points="347,382.5 351.6,380.5 347,379.4 342.4,381.5" fill="#00ff34"/><polygon points="356.2,381.7 360.8,380 356.2,378.6 351.6,380.5" fill="#00ff2a"/><polygon points="365.3,381.4 369.9,379.8 365.3,378.2 360.8,380" fill="#00ff24"/><polygon points="374.5,381.5 379.1,380.2 374.5,378.4 369.9,379.8" fill="#00ff25"/><polygon points="383.7,382.1 388.3,381 383.7,378.9 379.1,380.2" fill="#00ff2b"/><polygon points="392.8,383.1 397.4,382.3 392.8,380 388.3,381" fill="#00ff37"/><polygon points="402,384.6 406.5,384 402,381.4 397.4,382.3" fill="#00ff48"/><polygon points="411.1,386.6 415.6,386.2 411.1,383.4 406.5,384" fill="#00ff5f"/><polygon points="420.2,389 424.7,388.8 420.2,385.8 415.6,386.2" fill="#00ff7b"/><polygon points="429.2,391.9 433.7,391.9 429.2,388.6 424.7,388.8" fill="#00ff9d"/><polygon points="438.2,395.3 442.7,395.4 438.2,391.9 433.7,391.9" fill="#00ffc4"/><polygon points="447.2,399 451.6,399.4 447.2,395.7 442.7,395.4" fill="#00fff1"/><polygon points="456.1,403.3 460.5,403.9 456.1,399.8 451.6,399.4" fill="#00d5ff"/><polygon points="306.1,393.3 310.6,390.3 306.1,390.2 301.6,393.4" fill="#00ffa8"/><polygon points="333.3,386 337.9,383.8 333.3,383 328.8,385.5" fill="#00ff4e"/><polygon points="342.5,384.5 347,382.5 342.4,381.5 337.9,383.8" fill="#00ff3b"/><polygon points="351.6,383.5 356.2,381.7 351.6,380.5 347,382.5" fill="#00ff2e"/><polygon points="369.9,382.9 374.5,381.5 369.9,379.8 365.3,381.4" fill="#00ff24"/><polygon points="379.1,383.2 383.7,382.1 379.1,380.2 374.5,381.5" fill="#00ff27"/><polygon points="388.3,384.1 392.8,383.1 388.3,381 383.7,382.1" fill="#00ff30"/><polygon points="406.6,387.1 411.1,386.6 406.5,384 402,384.6" fill="#00ff52"/><polygon points="415.7,389.3 420.2,389 415.6,386.2 411.1,386.6" fill="#00ff6c"/><polygon points="424.7,392 429.2,391.9 424.7,388.8 420.2,389" fill="#00ff8b"/><polygon points="451.7,402.7 456.1,403.3 451.6,399.4 447.2,399" fill="#00f3ff"/><polygon points="297.2,396.6 301.6,393.4 297.2,393.5 292.7,396.9" fill="#00ffd1"/><polygon points="315.2,390.4 319.7,387.6 315.2,387.4 310.6,390.3" fill="#00ff84"/><polygon points="324.2,388 328.8,385.5 324.2,385 319.7,387.6" fill="#0f6"/><polygon points="360.8,383 365.3,381.4 360.8,380 356.2,381.7" fill="#00ff26"/><polygon points="397.4,385.3 402,384.6 397.4,382.3 392.8,383.1" fill="#00ff3e"/><polygon points="433.8,395.1 438.2,395.3 433.7,391.9 429.2,391.9" fill="#00ffb0"/><polygon points="442.7,398.7 447.2,399 442.7,395.4 438.2,395.3" fill="#00ffda"/><polygon points="460.5,407.2 464.9,408 460.5,403.9 456.1,403.3" fill="#00b5ff"/><polygon points="292.7,399.9 297.2,396.6 292.7,396.9 288.3,400.4" fill="#00ffe6"/><polygon points="301.7,396.3 306.1,393.3 301.6,393.4 297.2,396.6" fill="#00ffba"/><polygon points="310.7,393.2 315.2,390.4 310.6,390.3 306.1,393.3" fill="#00ff94"/><polygon points="337.9,386.7 342.5,384.5 337.9,383.8 333.3,386" fill="#00ff42"/><polygon points="374.5,384.4 379.1,383.2 374.5,381.5 369.9,382.9" fill="#00ff23"/><polygon points="383.7,385 388.3,384.1 383.7,382.1 379.1,383.2" fill="#00ff2a"/><polygon points="420.2,392.1 424.7,392 420.2,389 415.7,389.3" fill="#00ff7a"/><polygon points="447.2,402.2 451.7,402.7 447.2,399 442.7,398.7" fill="#00fff0"/><polygon points="456.1,406.5 460.5,407.2 456.1,403.3 451.7,402.7" fill="#00d5ff"/><polygon points="465,411.3 469.3,412.2 464.9,408 460.5,407.2" fill="#0094ff"/><polygon points="319.7,390.6 324.2,388 319.7,387.6 315.2,390.4" fill="#00ff73"/><polygon points="328.8,388.4 333.3,386 328.8,385.5 324.2,388" fill="#00ff58"/><polygon points="347,385.4 351.6,383.5 347,382.5 342.5,384.5" fill="#00ff32"/><polygon points="356.2,384.6 360.8,383 356.2,381.7 351.6,383.5" fill="#00ff28"/><polygon points="365.4,384.3 369.9,382.9 365.3,381.4 360.8,383" fill="#00ff23"/><polygon points="392.9,386.1 397.4,385.3 392.8,383.1 388.3,384.1" fill="#00ff35"/><polygon points="402,387.6 406.6,387.1 402,384.6 397.4,385.3" fill="#00ff47"/><polygon points="411.1,389.6 415.7,389.3 411.1,386.6 406.6,387.1" fill="#00ff5d"/><polygon points="429.3,395 433.8,395.1 429.2,391.9 424.7,392" fill="#00ff9c"/><polygon points="438.3,398.4 442.7,398.7 438.2,395.3 433.8,395.1" fill="#00ffc3"/><polygon points="288.3,403.3 292.7,399.9 288.3,400.4 283.8,404" fill="#00fffb"/><polygon points="297.2,399.5 301.7,396.3 297.2,396.6 292.7,399.9" fill="#00ffcd"/><polygon points="306.1,396.1 310.7,393.2 306.1,393.3 301.7,396.3" fill="#00ffa4"/><polygon points="324.2,390.8 328.8,388.4 324.2,388 319.7,390.6" fill="#00ff62"/><polygon points="333.3,388.8 337.9,386.7 333.3,386 328.8,388.4" fill="#00ff4a"/><polygon points="342.5,387.3 347,385.4 342.5,384.5 337.9,386.7" fill="#00ff37"/><polygon points="360.8,385.7 365.4,384.3 360.8,383 356.2,384.6" fill="#0f2"/><polygon points="370,385.7 374.5,384.4 369.9,382.9 365.4,384.3" fill="#00ff20"/><polygon points="379.1,386 383.7,385 379.1,383.2 374.5,384.4" fill="#00ff24"/><polygon points="388.3,386.9 392.9,386.1 388.3,384.1 383.7,385" fill="#00ff2d"/><polygon points="397.5,388.2 402,387.6 397.4,385.3 392.9,386.1" fill="#00ff3b"/><polygon points="415.7,392.2 420.2,392.1 415.7,389.3 411.1,389.6" fill="#00ff69"/><polygon points="424.8,394.9 429.3,395 424.7,392 420.2,392.1" fill="#00ff89"/><polygon points="433.8,398.1 438.3,398.4 433.8,395.1 429.3,395" fill="#00ffad"/><polygon points="451.7,405.8 456.1,406.5 451.7,402.7 447.2,402.2" fill="#00f5ff"/><polygon points="460.6,410.4 465,411.3 460.5,407.2 456.1,406.5" fill="#00b7ff"/><polygon points="469.4,415.4 473.7,416.5 469.3,412.2 465,411.3" fill="#0073ff"/><polygon points="315.2,393.2 319.7,390.6 315.2,390.4 310.7,393.2" fill="#00ff80"/><polygon points="351.6,386.3 356.2,384.6 351.6,383.5 347,385.4" fill="#00ff2a"/><polygon points="406.6,390 411.1,389.6 406.6,387.1 402,387.6" fill="#00ff50"/><polygon points="442.8,401.7 447.2,402.2 442.7,398.7 438.3,398.4" fill="#00ffd8"/><polygon points="292.7,402.6 297.2,399.5 292.7,399.9 288.3,403.3" fill="#00ffe0"/><polygon points="328.8,391 333.3,388.8 328.8,388.4 324.2,390.8" fill="#00ff53"/><polygon points="365.4,386.9 370,385.7 365.4,384.3 360.8,385.7" fill="#00ff1e"/><polygon points="392.9,388.8 397.5,388.2 392.9,386.1 388.3,386.9" fill="#00ff31"/><polygon points="429.3,397.8 433.8,398.1 429.3,395 424.8,394.9" fill="#00ff98"/><polygon points="465,414.3 469.4,415.4 465,411.3 460.6,410.4" fill="#0098ff"/><polygon points="301.6,399 306.1,396.1 301.7,396.3 297.2,399.5" fill="#00ffb4"/><polygon points="310.7,395.9 315.2,393.2 310.7,393.2 306.1,396.1" fill="#00ff8e"/><polygon points="319.7,393.2 324.2,390.8 319.7,390.6 315.2,393.2" fill="#00ff6e"/><polygon points="337.9,389.3 342.5,387.3 337.9,386.7 333.3,388.8" fill="#00ff3d"/><polygon points="347.1,388.1 351.6,386.3 347,385.4 342.5,387.3" fill="#00ff2d"/><polygon points="356.2,387.3 360.8,385.7 356.2,384.6 351.6,386.3" fill="#00ff23"/><polygon points="374.6,387.1 379.1,386 374.5,384.4 370,385.7" fill="#00ff1f"/><polygon points="383.7,387.7 388.3,386.9 383.7,385 379.1,386" fill="#00ff25"/><polygon points="402,390.4 406.6,390 402,387.6 397.5,388.2" fill="#00ff42"/><polygon points="411.2,392.4 415.7,392.2 411.1,389.6 406.6,390" fill="#00ff59"/><polygon points="420.2,394.9 424.8,394.9 420.2,392.1 415.7,392.2" fill="#00ff76"/><polygon points="438.3,401.3 442.8,401.7 438.3,398.4 433.8,398.1" fill="#00ffc0"/><polygon points="447.3,405.2 451.7,405.8 447.2,402.2 442.8,401.7" fill="#00ffed"/><polygon points="456.2,409.5 460.6,410.4 456.1,406.5 451.7,405.8" fill="#00d9ff"/><polygon points="297.2,402.1 301.6,399 297.2,399.5 292.7,402.6" fill="#00ffc5"/><polygon points="315.2,395.8 319.7,393.2 315.2,393.2 310.7,395.9" fill="#00ff79"/><polygon points="324.2,393.3 328.8,391 324.2,390.8 319.7,393.2" fill="#00ff5c"/><polygon points="333.3,391.4 337.9,389.3 333.3,388.8 328.8,391" fill="#00ff43"/><polygon points="351.6,388.8 356.2,387.3 351.6,386.3 347.1,388.1" fill="#00ff24"/><polygon points="360.8,388.3 365.4,386.9 360.8,385.7 356.2,387.3" fill="#00ff1c"/><polygon points="370,388.2 374.6,387.1 370,385.7 365.4,386.9" fill="#00ff1a"/><polygon points="388.3,389.5 392.9,388.8 388.3,386.9 383.7,387.7" fill="#00ff27"/><polygon points="397.5,390.8 402,390.4 397.5,388.2 392.9,388.8" fill="#00ff36"/><polygon points="406.6,392.6 411.2,392.4 406.6,390 402,390.4" fill="#00ff4a"/><polygon points="424.8,397.6 429.3,397.8 424.8,394.9 420.2,394.9" fill="#00ff83"/><polygon points="433.8,400.8 438.3,401.3 433.8,398.1 429.3,397.8" fill="#00ffa8"/><polygon points="442.8,404.5 447.3,405.2 442.8,401.7 438.3,401.3" fill="#00ffd2"/><polygon points="460.6,413.3 465,414.3 460.6,410.4 456.2,409.5" fill="#00bdff"/><polygon points="306.1,398.7 310.7,395.9 306.1,396.1 301.6,399" fill="#00ff9d"/><polygon points="342.5,389.9 347.1,388.1 342.5,387.3 337.9,389.3" fill="#00ff31"/><polygon points="379.2,388.6 383.7,387.7 379.1,386 374.6,387.1" fill="#00ff1e"/><polygon points="415.7,394.9 420.2,394.9 415.7,392.2 411.2,392.4" fill="#00ff64"/><polygon points="451.7,408.7 456.2,409.5 451.7,405.8 447.3,405.2" fill="#00fbff"/><polygon points="319.7,395.7 324.2,393.3 319.7,393.2 315.2,395.8" fill="#00ff65"/><polygon points="356.2,389.7 360.8,388.3 356.2,387.3 351.6,388.8" fill="#00ff1b"/><polygon points="402.1,392.9 406.6,392.6 402,390.4 397.5,390.8" fill="#00ff3b"/><polygon points="438.3,403.9 442.8,404.5 438.3,401.3 433.8,400.8" fill="#00ffb9"/><polygon points="301.6,401.5 306.1,398.7 301.6,399 297.2,402.1" fill="#00ffac"/><polygon points="310.6,398.3 315.2,395.8 310.7,395.9 306.1,398.7" fill="#00ff86"/><polygon points="328.8,393.5 333.3,391.4 328.8,391 324.2,393.3" fill="#00ff4a"/><polygon points="337.9,391.7 342.5,389.9 337.9,389.3 333.3,391.4" fill="#00ff35"/><polygon points="347.1,390.5 351.6,388.8 347.1,388.1 342.5,389.9" fill="#00ff25"/><polygon points="365.4,389.4 370,388.2 365.4,386.9 360.8,388.3" fill="#00ff16"/><polygon points="374.6,389.5 379.2,388.6 374.6,387.1 370,388.2" fill="#00ff17"/><polygon points="383.8,390.2 388.3,389.5 383.7,387.7 379.2,388.6" fill="#00ff1e"/><polygon points="392.9,391.3 397.5,390.8 392.9,388.8 388.3,389.5" fill="#00ff2a"/><polygon points="411.2,394.9 415.7,394.9 411.2,392.4 406.6,392.6" fill="#00ff52"/><polygon points="420.3,397.4 424.8,397.6 420.2,394.9 415.7,394.9" fill="#00ff6f"/><polygon points="429.3,400.4 433.8,400.8 429.3,397.8 424.8,397.6" fill="#00ff91"/><polygon points="447.3,407.8 451.7,408.7 447.3,405.2 442.8,404.5" fill="#00ffe6"/><polygon points="456.2,412.3 460.6,413.3 456.2,409.5 451.7,408.7" fill="#00e1ff"/><polygon points="306.1,401 310.6,398.3 306.1,398.7 301.6,401.5" fill="#00ff93"/><polygon points="315.2,398.1 319.7,395.7 315.2,395.8 310.6,398.3" fill="#00ff6f"/><polygon points="324.2,395.6 328.8,393.5 324.2,393.3 319.7,395.7" fill="#00ff52"/><polygon points="342.5,392.1 347.1,390.5 342.5,389.9 337.9,391.7" fill="#00ff27"/><polygon points="351.6,391.1 356.2,389.7 351.6,388.8 347.1,390.5" fill="#00ff1a"/><polygon points="360.8,390.6 365.4,389.4 360.8,388.3 356.2,389.7" fill="#00ff13"/><polygon points="379.2,390.9 383.8,390.2 379.2,388.6 374.6,389.5" fill="#00ff15"/><polygon points="397.5,393.2 402.1,392.9 397.5,390.8 392.9,391.3" fill="#00ff2d"/><polygon points="406.6,395 411.2,394.9 406.6,392.6 402.1,392.9" fill="#00ff41"/><polygon points="415.8,397.3 420.3,397.4 415.7,394.9 411.2,394.9" fill="#00ff5b"/><polygon points="433.9,403.3 438.3,403.9 433.8,400.8 429.3,400.4" fill="#00ffa0"/><polygon points="442.9,407.1 447.3,407.8 442.8,404.5 438.3,403.9" fill="#00ffca"/><polygon points="451.8,411.3 456.2,412.3 451.7,408.7 447.3,407.8" fill="#00fffa"/><polygon points="333.3,393.6 337.9,391.7 333.3,391.4 328.8,393.5" fill="#00ff3a"/><polygon points="370,390.5 374.6,389.5 370,388.2 365.4,389.4" fill="#0f1"/><polygon points="388.3,391.8 392.9,391.3 388.3,389.5 383.8,390.2" fill="#00ff1e"/><polygon points="424.8,400.1 429.3,400.4 424.8,397.6 420.3,397.4" fill="#00ff7b"/><polygon points="310.6,400.5 315.2,398.1 310.6,398.3 306.1,401" fill="#00ff7a"/><polygon points="347.1,392.6 351.6,391.1 347.1,390.5 342.5,392.1" fill="#00ff1a"/><polygon points="411.2,397.2 415.8,397.3 411.2,394.9 406.6,395" fill="#00ff48"/><polygon points="447.4,410.3 451.8,411.3 447.3,407.8 442.9,407.1" fill="#00ffdc"/><polygon points="319.7,397.8 324.2,395.6 319.7,395.7 315.2,398.1" fill="#00ff5a"/><polygon points="328.8,395.6 333.3,393.6 328.8,393.5 324.2,395.6" fill="#00ff3f"/><polygon points="337.9,393.9 342.5,392.1 337.9,391.7 333.3,393.6" fill="#00ff2a"/><polygon points="356.2,391.8 360.8,390.6 356.2,389.7 351.6,391.1" fill="#00ff10"/><polygon points="365.4,391.5 370,390.5 365.4,389.4 360.8,390.6" fill="#00ff0b"/><polygon points="374.6,391.7 379.2,390.9 374.6,389.5 370,390.5" fill="#00ff0c"/><polygon points="383.8,392.4 388.3,391.8 383.8,390.2 379.2,390.9" fill="#00ff13"/><polygon points="392.9,393.5 397.5,393.2 392.9,391.3 388.3,391.8" fill="#00ff1f"/><polygon points="402.1,395.1 406.6,395 402.1,392.9 397.5,393.2" fill="#00ff31"/><polygon points="420.3,399.8 424.8,400.1 420.3,397.4 415.8,397.3" fill="#00ff65"/><polygon points="429.4,402.8 433.9,403.3 429.3,400.4 424.8,400.1" fill="#00ff87"/><polygon points="438.4,406.3 442.9,407.1 438.3,403.9 433.9,403.3" fill="#00ffaf"/><polygon points="315.1,400.1 319.7,397.8 315.2,398.1 310.6,400.5" fill="#00ff62"/><polygon points="333.3,395.7 337.9,393.9 333.3,393.6 328.8,395.6" fill="#00ff2d"/><polygon points="342.5,394.2 347.1,392.6 342.5,392.1 337.9,393.9" fill="#00ff1b"/><polygon points="351.6,393.2 356.2,391.8 351.6,391.1 347.1,392.6" fill="#00ff0e"/><polygon points="370,392.6 374.6,391.7 370,390.5 365.4,391.5" fill="#00ff05"/><polygon points="388.4,393.9 392.9,393.5 388.3,391.8 383.8,392.4" fill="#00ff12"/><polygon points="406.7,397.1 411.2,397.2 406.6,395 402.1,395.1" fill="#00ff35"/><polygon points="415.8,399.5 420.3,399.8 415.8,397.3 411.2,397.2" fill="#00ff4f"/><polygon points="424.9,402.3 429.4,402.8 424.8,400.1 420.3,399.8" fill="#00ff6f"/><polygon points="442.9,409.4 447.4,410.3 442.9,407.1 438.4,406.3" fill="#00ffbf"/><polygon points="324.2,397.7 328.8,395.6 324.2,395.6 319.7,397.8" fill="#00ff45"/><polygon points="360.8,392.6 365.4,391.5 360.8,390.6 356.2,391.8" fill="#00ff06"/><polygon points="379.2,393 383.8,392.4 379.2,390.9 374.6,391.7" fill="#00ff09"/><polygon points="397.5,395.3 402.1,395.1 397.5,393.2 392.9,393.5" fill="#00ff21"/><polygon points="433.9,405.6 438.4,406.3 433.9,403.3 429.4,402.8" fill="#00ff94"/><polygon points="337.9,395.8 342.5,394.2 337.9,393.9 333.3,395.7" fill="#00ff1c" stroke-opacity="0.57"/><polygon points="420.4,401.8 424.9,402.3 420.3,399.8 415.8,399.5" fill="#00ff58"/><polygon points="319.7,399.8 324.2,397.7 319.7,397.8 315.1,400.1" fill="#00ff4b" stroke-opacity="0.57"/><polygon points="328.8,397.5 333.3,395.7 328.8,395.6 324.2,397.7" fill="#00ff31" stroke-opacity="0.57"/><polygon points="347.1,394.5 351.6,393.2 347.1,392.6 342.5,394.2" fill="#00ff0c" stroke-opacity="0.57"/><polygon points="356.2,393.7 360.8,392.6 356.2,391.8 351.6,393.2" fill="#00ff02" stroke-opacity="0.57"/><polygon points="365.4,393.5 370,392.6 365.4,391.5 360.8,392.6" fill="#02ff00" stroke-opacity="0.57"/><polygon points="374.6,393.6 379.2,393 374.6,391.7 370,392.6" fill="#01ff00"/><polygon points="383.8,394.3 388.4,393.9 383.8,392.4 379.2,393" fill="#00ff05"/><polygon points="393,395.5 397.5,395.3 392.9,393.5 388.4,393.9" fill="#00ff12"/><polygon points="402.1,397.1 406.7,397.1 402.1,395.1 397.5,395.3" fill="#00ff23"/><polygon points="411.3,399.2 415.8,399.5 411.2,397.2 406.7,397.1" fill="#00ff3b"/><polygon points="429.4,404.9 433.9,405.6 429.4,402.8 424.9,402.3" fill="#00ff7a"/><polygon points="438.5,408.5 442.9,409.4 438.4,406.3 433.9,405.6" fill="#00ffa2"/><polygon points="324.2,399.5 328.8,397.5 324.2,397.7 319.7,399.8" fill="#00ff35" stroke-opacity="0.57"/><polygon points="333.3,397.5 337.9,395.8 333.3,395.7 328.8,397.5" fill="#00ff1d" stroke-opacity="0.57"/><polygon points="342.5,396 347.1,394.5 342.5,394.2 337.9,395.8" fill="#00ff0b" stroke-opacity="0.57"/><polygon points="360.8,394.4 365.4,393.5 360.8,392.6 356.2,393.7" fill="#09ff00" stroke-opacity="0.57"/><polygon points="379.2,394.8 383.8,394.3 379.2,393 374.6,393.6" fill="#07ff00" stroke-opacity="0.57"/><polygon points="397.6,397.1 402.1,397.1 397.5,395.3 393,395.5" fill="#00ff12" stroke-opacity="0.57"/><polygon points="415.9,401.4 420.4,401.8 415.8,399.5 411.3,399.2" fill="#00ff41" stroke-opacity="0.57"/><polygon points="424.9,404.2 429.4,404.9 424.9,402.3 420.4,401.8" fill="#00ff60" stroke-opacity="0.57"/><polygon points="434,407.6 438.5,408.5 433.9,405.6 429.4,404.9" fill="#00ff86"/><polygon points="351.7,394.9 356.2,393.7 351.6,393.2 347.1,394.5" fill="#02ff00" stroke-opacity="0.57"/><polygon points="370,394.3 374.6,393.6 370,392.6 365.4,393.5" fill="#0bff00" stroke-opacity="0.57"/><polygon points="388.4,395.7 393,395.5 388.4,393.9 383.8,394.3" fill="#00ff03" stroke-opacity="0.57"/><polygon points="406.7,399 411.3,399.2 406.7,397.1 402.1,397.1" fill="#00ff27" stroke-opacity="0.57"/><polygon points="328.8,399.2 333.3,397.5 328.8,397.5 324.2,399.5" fill="#00ff1f" stroke-opacity="0.57"/><polygon points="429.5,406.7 434,407.6 429.4,404.9 424.9,404.2" fill="#00ff6a" stroke-opacity="0.57"/><polygon points="337.9,397.4 342.5,396 337.9,395.8 333.3,397.5" fill="#00ff0a" stroke-opacity="0.57"/><polygon points="347.1,396.2 351.7,394.9 347.1,394.5 342.5,396" fill="#05ff00" stroke-opacity="0.57"/><polygon points="356.2,395.4 360.8,394.4 356.2,393.7 351.7,394.9" fill="#0fff00" stroke-opacity="0.57"/><polygon points="365.4,395.1 370,394.3 365.4,393.5 360.8,394.4" fill="#13ff00" stroke-opacity="0.57"/><polygon points="374.6,395.3 379.2,394.8 374.6,393.6 370,394.3" fill="#12ff00" stroke-opacity="0.57"/><polygon points="383.8,396 388.4,395.7 383.8,394.3 379.2,394.8" fill="#0bff00" stroke-opacity="0.57"/><polygon points="393,397.2 397.6,397.1 393,395.5 388.4,395.7" fill="#00ff01" stroke-opacity="0.57"/><polygon points="402.2,398.8 406.7,399 402.1,397.1 397.6,397.1" fill="#00ff13" stroke-opacity="0.57"/><polygon points="411.3,401 415.9,401.4 411.3,399.2 406.7,399" fill="#00ff2a" stroke-opacity="0.57"/><polygon points="420.4,403.6 424.9,404.2 420.4,401.8 415.9,401.4" fill="#00ff47" stroke-opacity="0.57"/><polygon points="333.3,399 337.9,397.4 333.3,397.5 328.8,399.2" fill="#00ff0a" stroke-opacity="0.57"/><polygon points="351.7,396.4 356.2,395.4 351.7,394.9 347.1,396.2" fill="#14ff00" stroke-opacity="0.57"/><polygon points="370,395.9 374.6,395.3 370,394.3 365.4,395.1" fill="#1dff00" stroke-opacity="0.57"/><polygon points="388.4,397.3 393,397.2 388.4,395.7 383.8,396" fill="#0fff00" stroke-opacity="0.57"/><polygon points="406.8,400.6 411.3,401 406.7,399 402.2,398.8" fill="#00ff15" stroke-opacity="0.57"/><polygon points="425,405.9 429.5,406.7 424.9,404.2 420.4,403.6" fill="#00ff4f" stroke-opacity="0.57"/><polygon points="342.5,397.5 347.1,396.2 342.5,396 337.9,397.4" fill="#08ff00" stroke-opacity="0.57"/><polygon points="360.8,395.9 365.4,395.1 360.8,394.4 356.2,395.4" fill="#1bff00" stroke-opacity="0.57"/><polygon points="379.3,396.3 383.8,396 379.2,394.8 374.6,395.3" fill="#19ff00" stroke-opacity="0.57"/><polygon points="397.6,398.7 402.2,398.8 397.6,397.1 393,397.2" fill="#0f0" stroke-opacity="0.57"/><polygon points="415.9,403 420.4,403.6 415.9,401.4 411.3,401" fill="#00ff2f" stroke-opacity="0.57"/><polygon points="337.9,398.8 342.5,397.5 337.9,397.4 333.3,399" fill="#0aff00" stroke-opacity="0.37"/><polygon points="347.1,397.5 351.7,396.4 347.1,396.2 342.5,397.5" fill="#19ff00" stroke-opacity="0.37"/><polygon points="356.3,396.8 360.8,395.9 356.2,395.4 351.7,396.4" fill="#23ff00" stroke-opacity="0.37"/><polygon points="365.5,396.5 370,395.9 365.4,395.1 360.8,395.9" fill="#27ff00" stroke-opacity="0.37"/><polygon points="374.7,396.7 379.3,396.3 374.6,395.3 370,395.9" fill="#26ff00" stroke-opacity="0.37"/><polygon points="383.9,397.4 388.4,397.3 383.8,396 379.3,396.3" fill="#1fff00" stroke-opacity="0.37"/><polygon points="393.1,398.6 397.6,398.7 393,397.2 388.4,397.3" fill="#12ff00" stroke-opacity="0.37"/><polygon points="402.2,400.3 406.8,400.6 402.2,398.8 397.6,398.7" fill="#0f0" stroke-opacity="0.37"/><polygon points="411.4,402.5 415.9,403 411.3,401 406.8,400.6" fill="#00ff17" stroke-opacity="0.37"/><polygon points="420.5,405.1 425,405.9 420.4,403.6 415.9,403" fill="#00ff34" stroke-opacity="0.37"/><polygon points="342.5,398.7 347.1,397.5 342.5,397.5 337.9,398.8" fill="#1dff00" stroke-opacity="0.37"/><polygon points="360.9,397.1 365.5,396.5 360.8,395.9 356.3,396.8" fill="#31ff00" stroke-opacity="0.37"/><polygon points="397.7,400 402.2,400.3 397.6,398.7 393.1,398.6" fill="#15ff00" stroke-opacity="0.37"/><polygon points="416,404.4 420.5,405.1 415.9,403 411.4,402.5" fill="#00ff1a" stroke-opacity="0.37"/><polygon points="379.3,397.6 383.9,397.4 379.3,396.3 374.7,396.7" fill="#2eff00" stroke-opacity="0.37"/><polygon points="351.7,397.7 356.3,396.8 351.7,396.4 347.1,397.5" fill="#2aff00" stroke-opacity="0.37"/><polygon points="370.1,397.1 374.7,396.7 370,395.9 365.5,396.5" fill="#32ff00" stroke-opacity="0.37"/><polygon points="388.5,398.5 393.1,398.6 388.4,397.3 383.9,397.4" fill="#24ff00" stroke-opacity="0.37"/><polygon points="406.8,401.9 411.4,402.5 406.8,400.6 402.2,400.3" fill="#0f0" stroke-opacity="0.37"/><polygon points="347.1,398.6 351.7,397.7 347.1,397.5 342.5,398.7" fill="#30ff00" stroke-opacity="0.37"/><polygon points="356.3,397.8 360.9,397.1 356.3,396.8 351.7,397.7" fill="#3aff00" stroke-opacity="0.37"/><polygon points="365.5,397.6 370.1,397.1 365.5,396.5 360.9,397.1" fill="#3eff00" stroke-opacity="0.37"/><polygon points="374.7,397.8 379.3,397.6 374.7,396.7 370.1,397.1" fill="#3cff00" stroke-opacity="0.37"/><polygon points="383.9,398.5 388.5,398.5 383.9,397.4 379.3,397.6" fill="#35ff00" stroke-opacity="0.37"/><polygon points="393.1,399.7 397.7,400 393.1,398.6 388.5,398.5" fill="#29ff00" stroke-opacity="0.37"/><polygon points="402.3,401.5 406.8,401.9 402.2,400.3 397.7,400" fill="#17ff00" stroke-opacity="0.37"/><polygon points="411.4,403.7 416,404.4 411.4,402.5 406.8,401.9" fill="#00ff01" stroke-opacity="0.37"/><polygon points="351.6,398.6 356.3,397.8 351.7,397.7 347.1,398.6" fill="#42ff00" stroke-opacity="0.2"/><polygon points="406.9,403 411.4,403.7 406.8,401.9 402.3,401.5" fill="#18ff00" stroke-opacity="0.2"/><polygon points="370.1,398.1 374.7,397.8 370.1,397.1 365.5,397.6" fill="#4aff00" stroke-opacity="0.2"/><polygon points="379.3,398.5 383.9,398.5 379.3,397.6 374.7,397.8" fill="#46ff00" stroke-opacity="0.2"/><polygon points="388.5,399.5 393.1,399.7 388.5,398.5 383.9,398.5" fill="#3cff00" stroke-opacity="0.2"/><polygon points="360.9,398.1 365.5,397.6 360.9,397.1 356.3,397.8" fill="#49ff00" stroke-opacity="0.2"/><polygon points="397.7,401 402.3,401.5 397.7,400 393.1,399.7" fill="#2dff00" stroke-opacity="0.2"/><polygon points="356.3,398.6 360.9,398.1 356.3,397.8 351.6,398.6" fill="#54ff00" stroke-opacity="0.2"/><polygon points="365.5,398.4 370.1,398.1 365.5,397.6 360.9,398.1" fill="#58ff00" stroke-opacity="0.2"/><polygon points="374.7,398.6 379.3,398.5 374.7,397.8 370.1,398.1" fill="#56ff00" stroke-opacity="0.2"/><polygon points="383.9,399.4 388.5,399.5 383.9,398.5 379.3,398.5" fill="#4fff00" stroke-opacity="0.2"/><polygon points="393.1,400.6 397.7,401 393.1,399.7 388.5,399.5" fill="#42ff00" stroke-opacity="0.2"/><polygon points="402.3,402.3 406.9,403 402.3,401.5 397.7,401" fill="#30ff00" stroke-opacity="0.2"/><polygon points="360.9,398.7 365.5,398.4 360.9,398.1 356.3,398.6" fill="#65ff00" stroke-opacity="0.2"/><polygon points="370.1,398.7 374.7,398.6 370.1,398.1 365.5,398.4" fill="#6f0" stroke-opacity="0.2"/><polygon points="379.3,399.2 383.9,399.4 379.3,398.5 374.7,398.6" fill="#61ff00" stroke-opacity="0.2"/><polygon points="388.6,400.2 393.1,400.6 388.5,399.5 383.9,399.4" fill="#57ff00" stroke-opacity="0.2"/><polygon points="397.8,401.7 402.3,402.3 397.7,401 393.1,400.6" fill="#48ff00" stroke-opacity="0.2"/><polygon points="365.5,398.9 370.1,398.7 365.5,398.4 360.9,398.7" fill="#75ff00" stroke-opacity="0.07"/><polygon points="374.7,399.1 379.3,399.2 374.7,398.6 370.1,398.7" fill="#73ff00" stroke-opacity="0.07"/><polygon points="384,399.9 388.6,400.2 383.9,399.4 379.3,399.2" fill="#6cff00" stroke-opacity="0.07"/><polygon points="393.2,401.2 397.8,401.7 393.1,400.6 388.6,400.2" fill="#5fff00" stroke-opacity="0.07"/><polygon points="370.1,399.1 374.7,399.1 370.1,398.7 365.5,398.9" fill="#84ff00" stroke-opacity="0.07"/><polygon points="379.4,399.6 384,399.9 379.3,399.2 374.7,399.1" fill="#80ff00" stroke-opacity="0.07"/><polygon points="388.6,400.6 393.2,401.2 388.6,400.2 384,399.9" fill="#76ff00" stroke-opacity="0.07"/><polygon points="374.8,399.4 379.4,399.6 374.7,399.1 370.1,399.1" fill="#93ff00" stroke-opacity="0.07"/><polygon points="384,400.1 388.6,400.6 384,399.9 379.4,399.6" fill="#8cff00" stroke-opacity="0.07"/><polygon points="379.4,399.7 384,400.1 379.4,399.6 374.8,399.4" fill="#a1ff00" stroke-opacity="0"/></g>
<line x1="283.8" y1="404" x2="283.5" y2="397.6" stroke="#555" stroke-width="0.6"/><circle cx="283.5" cy="397.6" r="1.6" fill="#b00000" stroke="#700000" stroke-width="0.5"/>
<line x1="379.1" y1="384.7" x2="379.1" y2="372.6" stroke="#555" stroke-width="0.6"/><circle cx="379.1" cy="372.6" r="1.6" fill="#b00000" stroke="#700000" stroke-width="0.5"/>
<circle cx="379.4" cy="505.8" r="0.6" fill="#222"/>
<text x="383.4" y="513.8" font-size="6.5" text-anchor="start" fill="#111" class="t">0.04</text>
<circle cx="402.4" cy="494" r="0.6" fill="#222"/>
<text x="406.4" y="502" font-size="6.5" text-anchor="start" fill="#111" class="t">0.05</text>
<circle cx="425.5" cy="482.2" r="0.6" fill="#222"/>
<text x="429.5" y="490.2" font-size="6.5" text-anchor="start" fill="#111" class="t">0.06</text>
<circle cx="448.6" cy="470.4" r="0.6" fill="#222"/>
<text x="452.6" y="478.4" font-size="6.5" text-anchor="start" fill="#111" class="t">0.07</text>
<circle cx="471.6" cy="458.6" r="0.6" fill="#222"/>
<text x="475.6" y="466.6" font-size="6.5" text-anchor="start" fill="#111" class="t">0.08</text>
<text x="460.5" y="503.3" font-size="6.6" text-anchor="middle" xml:space="preserve" fill="#111" class="t">B: Cross-linker (gm)</text>
<circle cx="379.4" cy="505.8" r="0.6" fill="#222"/>
<text x="375.4" y="513.8" font-size="6.5" text-anchor="end" fill="#111" class="t">0.3</text>
<circle cx="360.8" cy="496.4" r="0.6" fill="#222"/>
<text x="356.8" y="504.4" font-size="6.5" text-anchor="end" fill="#111" class="t">0.36</text>
<circle cx="342.2" cy="486.9" r="0.6" fill="#222"/>
<text x="338.2" y="494.9" font-size="6.5" text-anchor="end" fill="#111" class="t">0.42</text>
<circle cx="323.6" cy="477.5" r="0.6" fill="#222"/>
<text x="319.6" y="485.5" font-size="6.5" text-anchor="end" fill="#111" class="t">0.48</text>
<circle cx="305" cy="468" r="0.6" fill="#222"/>
<text x="301" y="476" font-size="6.5" text-anchor="end" fill="#111" class="t">0.54</text>
<circle cx="286.4" cy="458.6" r="0.6" fill="#222"/>
<text x="282.4" y="466.6" font-size="6.5" text-anchor="end" fill="#111" class="t">0.6</text>
<text x="297" y="503.3" font-size="6.6" text-anchor="middle" xml:space="preserve" fill="#111" class="t">C: Polymer  (gm)</text>
<text x="383.2" y="297.4" font-size="32" font-weight="bold" text-anchor="middle" fill="#000" font-family="Liberation Serif, Times New Roman, serif">E</text>
<path d="M528.8 428.7L619.4 397M619.4 397L711 429M528.1 414.3L619.4 383.8M619.4 383.8L711.7 414.4M527.5 399.8L619.4 370.6M619.4 370.6L712.4 399.8M526.8 385.4L619.4 357.4M619.4 357.4L713.1 385.2M526.1 371L619.4 344.3M619.4 344.3L713.7 370.6M525.4 356.6L619.4 331.1M619.4 331.1L714.4 356M524.8 342.1L619.4 317.9M619.4 317.9L715.1 341.4M524.1 327.7L619.4 304.7M619.4 304.7L715.8 326.8M528.8 428.7L524.1 327.7M546.9 422.4L543.2 323.1M565 416L562.2 318.5M583.2 409.7L581.3 313.9M601.3 403.3L600.3 309.3M619.4 397L619.4 304.7M637.7 403.4L638.7 309.1M656 409.8L658 313.5M674.4 416.2L677.2 318M692.7 422.6L696.5 322.4M711 429L715.8 326.8" stroke="#222" stroke-width="0.65" fill="none"/>
<path d="M528.8 428.7L530.3 459.8M619.4 397L619.4 424M711 429L709 459.8" stroke="#666" stroke-width="0.6" fill="none"/>
<polygon points="530.3,459.8 619.4,424 709,459.8 619.4,508" fill="#606060"/>
<polyline fill="none" stroke="#00c2ff" stroke-width="1" points="606.4,501 609.5,500.6 612.4,500.2 615.1,500 618.7,499.7 621.4,499.5 624.1,499.4 626.9,499.3 629.9,499.2 632.9,499.2 635.7,499.2"/>
<polyline fill="none" stroke="#00ffb6" stroke-width="1" points="591.6,492.9 594.5,492.2 597.6,491.5 600.7,490.9 603.6,490.4 606.2,490 609.7,489.5 612.1,489.2 615.6,488.9 618.5,488.7 621.2,488.6 624.1,488.5 627.1,488.5 630.2,488.6 633.5,488.7 636.4,488.8 638.9,489 642.5,489.4 645,489.6 648.5,490 650.8,490.3 651.9,490.5"/>
<polyline fill="none" stroke="#00ffb6" stroke-width="1" points="633.7,429.7 630.9,430.4 627.9,431.1 624.9,431.7 621.7,432.2 619.2,432.6 616.2,433 612.8,433.4 610.3,433.6 607.2,433.8 603.8,434 601.1,434 598.2,434 595.2,434 594.6,434"/>
<polyline fill="none" stroke="#00ff38" stroke-width="1" points="575.5,484.2 578.4,482.8 581.4,481.4 584.4,480 587.4,478.6 589.8,477.7 593,476.4 596.3,475.1 598.9,474.3 601.7,473.5 604.9,472.7 607.7,472.1 611.1,471.6 613.6,471.4 616.8,471.3 619.7,471.4 622.8,471.6 625.9,471.9 629,472.4 631.5,472.8 634.6,473.4 637.6,474.1 640.5,474.8 643.4,475.5 646.5,476.3 650,477.3 652.8,478.1 655.5,478.8 658.5,479.7 661.8,480.7 664.5,481.5 667.1,482.3"/>
<polyline fill="none" stroke="#00ff38" stroke-width="1" points="649.3,436 646.4,437.3 643.5,438.7 640.5,440 637.5,441.3 634.4,442.6 632,443.5 628.8,444.7 625.8,445.8 622.8,446.7 620,447.5 617,448.1 613.7,448.7 611.2,448.9 607.7,449.1 604.7,449.1 601.9,449 599.4,448.8 595.9,448.3 593.1,447.8 590.4,447.3 587.3,446.6 584.3,445.9 581.4,445.1 578.6,444.3 575.1,443.3 572.9,442.7"/>
<polyline fill="none" stroke="#46ff00" stroke-width="1" points="666.4,442.8 665.4,443.9 664.4,445.2 663.3,446.8 662.7,447.9 661.9,449.5 661.4,450.7 661.1,452 660.8,453.5 660.8,454.8 661,456.1 661.3,457.4 662,459.1 662.6,460.1 663.7,461.7 664.9,463.1 666.1,464.4 667.7,465.7 669.5,467.2 671.2,468.5 673,469.7 675.5,471.2 677.5,472.4 680.1,473.9 681.5,474.6"/>
<polyline fill="none" stroke="#46ff00" stroke-width="1" points="557.7,474.6 558.8,473 559.8,471.6 560.5,470.3 561.2,468.8 561.7,467.3 562,466.1 562.2,464.7 562.2,463.3 562,461.8 561.5,460.2 561,459 560.1,457.4 559.3,456.3 558.1,454.7 556.7,453.3 555.2,451.8 553.5,450.5 553.5,450.5"/>
<polyline fill="none" stroke="#c4ff00" stroke-width="1" points="685.5,450.4 685.5,451.8 685.7,453.2 686,454.6 686.4,455.7 686.9,457.1 687.6,458.5 688.4,459.8 689.3,461.1 690.5,462.6 691.7,464 692.9,465.2 694.3,466.5 695.2,467.2"/>
<circle cx="528.8" cy="428.7" r="0.7" fill="#222"/>
<text x="525.6" y="427.3" font-size="6.5" text-anchor="end" fill="#111" class="t">1000</text>
<circle cx="528.1" cy="414.3" r="0.7" fill="#222"/>
<text x="524.9" y="412.9" font-size="6.5" text-anchor="end" fill="#111" class="t">1200</text>
<circle cx="527.5" cy="399.8" r="0.7" fill="#222"/>
<text x="524.3" y="398.4" font-size="6.5" text-anchor="end" fill="#111" class="t">1400</text>
<circle cx="526.8" cy="385.4" r="0.7" fill="#222"/>
<text x="523.6" y="384" font-size="6.5" text-anchor="end" fill="#111" class="t">1600</text>
<circle cx="526.1" cy="371" r="0.7" fill="#222"/>
<text x="522.9" y="369.6" font-size="6.5" text-anchor="end" fill="#111" class="t">1800</text>
<circle cx="525.4" cy="356.6" r="0.7" fill="#222"/>
<text x="522.2" y="355.2" font-size="6.5" text-anchor="end" fill="#111" class="t">2000</text>
<circle cx="524.8" cy="342.1" r="0.7" fill="#222"/>
<text x="521.6" y="340.7" font-size="6.5" text-anchor="end" fill="#111" class="t">2200</text>
<circle cx="524.1" cy="327.7" r="0.7" fill="#222"/>
<text x="520.9" y="326.3" font-size="6.5" text-anchor="end" fill="#111" class="t">2400</text>
<text transform="translate(498.3,397) rotate(-90)" font-size="7.2" text-anchor="middle" fill="#111" class="t">Degree of swelling pH7.2</text>
<line x1="525.5" y1="357.5" x2="526.3" y2="375" stroke="#555" stroke-width="0.6"/><circle cx="526.3" cy="375" r="1.9" fill="#f8caca" stroke="#b05050" stroke-width="0.5"/>
<g stroke="#000" stroke-opacity="0.8" stroke-width="0.5" stroke-linejoin="round"><polygon points="619.4,376.5 623.8,376.5 619.4,378.4 615,378.1" fill="#00e3ff" stroke-opacity="0.37"/><polygon points="615.1,376.4 619.4,376.5 615,378.1 610.7,377.7" fill="#00f9ff" stroke-opacity="0.37"/><polygon points="623.9,375 628.2,374.7 623.8,376.5 619.4,376.5" fill="#00fff2" stroke-opacity="0.37"/><polygon points="610.7,376.2 615.1,376.4 610.7,377.7 606.3,377.3" fill="#00fff1" stroke-opacity="0.37"/><polygon points="619.5,375.1 623.9,375 619.4,376.5 615.1,376.4" fill="#00ffe3" stroke-opacity="0.2"/><polygon points="628.3,373.4 632.7,372.9 628.2,374.7 623.9,375" fill="#00ffcf" stroke-opacity="0.2"/><polygon points="615.1,375.2 619.5,375.1 615.1,376.4 610.7,376.2" fill="#00ffd2" stroke-opacity="0.2"/><polygon points="623.9,373.9 628.3,373.4 623.9,375 619.5,375.1" fill="#00ffc2" stroke-opacity="0.2"/><polygon points="606.3,376 610.7,376.2 606.3,377.3 601.9,376.8" fill="#00ffdc" stroke-opacity="0.2"/><polygon points="632.8,372 637.2,371.2 632.7,372.9 628.3,373.4" fill="#00ffac" stroke-opacity="0.2"/><polygon points="601.9,375.7 606.3,376 601.9,376.8 597.5,376.3" fill="#00ffc8" stroke-opacity="0.2"/><polygon points="610.7,375.3 615.1,375.2 610.7,376.2 606.3,376" fill="#00ffc1" stroke-opacity="0.2"/><polygon points="619.5,374.3 623.9,373.9 619.5,375.1 615.1,375.2" fill="#00ffb4" stroke-opacity="0.2"/><polygon points="628.4,372.7 632.8,372 628.3,373.4 623.9,373.9" fill="#00ffa2" stroke-opacity="0.07"/><polygon points="637.2,370.5 641.6,369.5 637.2,371.2 632.8,372" fill="#00ff8a" stroke-opacity="0.07"/><polygon points="597.5,375.4 601.9,375.7 597.5,376.3 593.1,375.6" fill="#00ffb3" stroke-opacity="0.2"/><polygon points="606.3,375.3 610.7,375.3 606.3,376 601.9,375.7" fill="#00ffaf" stroke-opacity="0.07"/><polygon points="632.8,371.5 637.2,370.5 632.8,372 628.4,372.7" fill="#00ff83" stroke-opacity="0.07"/><polygon points="641.7,369.1 646.1,367.8 641.6,369.5 637.2,370.5" fill="#00ff69" stroke-opacity="0.07"/><polygon points="615.1,374.6 619.5,374.3 615.1,375.2 610.7,375.3" fill="#00ffa6" stroke-opacity="0.07"/><polygon points="624,373.3 628.4,372.7 623.9,373.9 619.5,374.3" fill="#00ff98" stroke-opacity="0.07"/><polygon points="601.9,375.2 606.3,375.3 601.9,375.7 597.5,375.4" fill="#00ff9d" stroke-opacity="0.07"/><polygon points="637.3,370.4 641.7,369.1 637.2,370.5 632.8,371.5" fill="#00ff65" stroke-opacity="0"/><polygon points="593.1,375 597.5,375.4 593.1,375.6 588.7,374.9" fill="#00ff9d" stroke-opacity="0.07"/><polygon points="610.7,374.8 615.1,374.6 610.7,375.3 606.3,375.3" fill="#00ff98" stroke-opacity="0.07"/><polygon points="619.6,373.9 624,373.3 619.5,374.3 615.1,374.6" fill="#00ff8c" stroke-opacity="0.07"/><polygon points="628.4,372.5 632.8,371.5 628.4,372.7 624,373.3" fill="#00ff7b" stroke-opacity="0"/><polygon points="646.2,367.8 650.6,366.2 646.1,367.8 641.7,369.1" fill="#00ff49" stroke-opacity="0"/><polygon points="588.6,374.5 593.1,375 588.7,374.9 584.2,374.2" fill="#00ff86" stroke-opacity="0.07"/><polygon points="597.5,375 601.9,375.2 597.5,375.4 593.1,375" fill="#00ff8a" stroke-opacity="0.07"/><polygon points="606.3,375 610.7,374.8 606.3,375.3 601.9,375.2" fill="#0f8" stroke-opacity="0"/><polygon points="615.2,374.5 619.6,373.9 615.1,374.6 610.7,374.8" fill="#00ff81" stroke-opacity="0"/><polygon points="624,373.3 628.4,372.5 624,373.3 619.6,373.9" fill="#00ff73" stroke-opacity="0"/><polygon points="632.9,371.6 637.3,370.4 632.8,371.5 628.4,372.5" fill="#00ff60" stroke-opacity="0"/><polygon points="641.8,369.3 646.2,367.8 641.7,369.1 637.3,370.4" fill="#00ff47" stroke-opacity="0"/><polygon points="650.7,366.5 655.1,364.6 650.6,366.2 646.2,367.8" fill="#00ff29" stroke-opacity="0.07"/><polygon points="584.2,373.9 588.6,374.5 584.2,374.2 579.8,373.3" fill="#00ff6f" stroke-opacity="0"/><polygon points="593,374.8 597.5,375 593.1,375 588.6,374.5" fill="#0f7" stroke-opacity="0"/><polygon points="601.9,375.2 606.3,375 601.9,375.2 597.5,375" fill="#00ff78" stroke-opacity="0"/><polygon points="610.7,374.9 615.2,374.5 610.7,374.8 606.3,375" fill="#00ff74" stroke-opacity="0"/><polygon points="619.6,374.1 624,373.3 619.6,373.9 615.2,374.5" fill="#00ff6a" stroke-opacity="0"/><polygon points="628.5,372.8 632.9,371.6 628.4,372.5 624,373.3" fill="#00ff5b" stroke-opacity="0.07"/><polygon points="637.3,370.8 641.8,369.3 637.3,370.4 632.9,371.6" fill="#00ff46" stroke-opacity="0.07"/><polygon points="646.3,368.3 650.7,366.5 646.2,367.8 641.8,369.3" fill="#00ff2b" stroke-opacity="0.07"/><polygon points="655.2,365.2 659.7,363.1 655.1,364.6 650.7,366.5" fill="#00ff0a" stroke-opacity="0.07"/><polygon points="579.8,373.3 584.2,373.9 579.8,373.3 575.3,372.4" fill="#00ff58" stroke-opacity="0"/><polygon points="588.6,374.5 593,374.8 588.6,374.5 584.2,373.9" fill="#00ff63" stroke-opacity="0"/><polygon points="597.5,375.2 601.9,375.2 597.5,375 593,374.8" fill="#00ff68" stroke-opacity="0"/><polygon points="606.3,375.3 610.7,374.9 606.3,375 601.9,375.2" fill="#00ff67" stroke-opacity="0.07"/><polygon points="615.2,374.9 619.6,374.1 615.2,374.5 610.7,374.9" fill="#00ff61" stroke-opacity="0.07"/><polygon points="624,373.9 628.5,372.8 624,373.3 619.6,374.1" fill="#0f5" stroke-opacity="0.07"/><polygon points="632.9,372.3 637.3,370.8 632.9,371.6 628.5,372.8" fill="#00ff43" stroke-opacity="0.07"/><polygon points="641.8,370.1 646.3,368.3 641.8,369.3 637.3,370.8" fill="#00ff2c" stroke-opacity="0.07"/><polygon points="650.8,367.3 655.2,365.2 650.7,366.5 646.3,368.3" fill="#00ff0f" stroke-opacity="0.2"/><polygon points="659.7,364 664.2,361.6 659.7,363.1 655.2,365.2" fill="#14ff00" stroke-opacity="0.2"/><polygon points="575.3,372.6 579.8,373.3 575.3,372.4 570.9,371.4" fill="#00ff40" stroke-opacity="0"/><polygon points="584.2,374.2 588.6,374.5 584.2,373.9 579.8,373.3" fill="#00ff4e" stroke-opacity="0.07"/><polygon points="593,375.2 597.5,375.2 593,374.8 588.6,374.5" fill="#00ff57" stroke-opacity="0.07"/><polygon points="610.8,375.6 615.2,374.9 610.7,374.9 606.3,375.3" fill="#00ff57" stroke-opacity="0.07"/><polygon points="619.6,374.9 624,373.9 619.6,374.1 615.2,374.9" fill="#00ff4f" stroke-opacity="0.07"/><polygon points="628.5,373.7 632.9,372.3 628.5,372.8 624,373.9" fill="#00ff40" stroke-opacity="0.2"/><polygon points="646.3,369.4 650.8,367.3 646.3,368.3 641.8,370.1" fill="#00ff13" stroke-opacity="0.2"/><polygon points="655.3,366.4 659.7,364 655.2,365.2 650.8,367.3" fill="#0cff00" stroke-opacity="0.2"/><polygon points="664.3,362.8 668.8,360.1 664.2,361.6 659.7,364" fill="#31ff00" stroke-opacity="0.2"/><polygon points="601.9,375.7 606.3,375.3 601.9,375.2 597.5,375.2" fill="#00ff5a" stroke-opacity="0.07"/><polygon points="637.4,371.8 641.8,370.1 637.3,370.8 632.9,372.3" fill="#00ff2d" stroke-opacity="0.2"/><polygon points="579.7,373.8 584.2,374.2 579.8,373.3 575.3,372.6" fill="#00ff39" stroke-opacity="0.07"/><polygon points="588.6,375.2 593,375.2 588.6,374.5 584.2,374.2" fill="#00ff45" stroke-opacity="0.07"/><polygon points="615.2,375.9 619.6,374.9 615.2,374.9 610.8,375.6" fill="#00ff47" stroke-opacity="0.2"/><polygon points="624.1,375 628.5,373.7 624,373.9 619.6,374.9" fill="#00ff3d" stroke-opacity="0.2"/><polygon points="650.8,368.8 655.3,366.4 650.8,367.3 646.3,369.4" fill="#05ff00" stroke-opacity="0.37"/><polygon points="659.8,365.5 664.3,362.8 659.7,364 655.3,366.4" fill="#27ff00" stroke-opacity="0.37"/><polygon points="570.8,371.8 575.3,372.6 570.9,371.4 566.4,370.4" fill="#00ff27" stroke-opacity="0.07"/><polygon points="597.5,376 601.9,375.7 597.5,375.2 593,375.2" fill="#00ff4c" stroke-opacity="0.07"/><polygon points="606.3,376.2 610.8,375.6 606.3,375.3 601.9,375.7" fill="#00ff4c" stroke-opacity="0.2"/><polygon points="633,373.5 637.4,371.8 632.9,372.3 628.5,373.7" fill="#00ff2d" stroke-opacity="0.2"/><polygon points="641.9,371.4 646.3,369.4 641.8,370.1 637.4,371.8" fill="#00ff17" stroke-opacity="0.2"/><polygon points="668.8,361.7 673.3,358.7 668.8,360.1 664.3,362.8" fill="#4eff00" stroke-opacity="0.37"/><polygon points="566.3,370.9 570.8,371.8 566.4,370.4 561.9,369.2" fill="#00ff0e" stroke-opacity="0.07"/><polygon points="575.3,373.3 579.7,373.8 575.3,372.6 570.8,371.8" fill="#00ff23" stroke-opacity="0.07"/><polygon points="584.2,375 588.6,375.2 584.2,374.2 579.7,373.8" fill="#0f3" stroke-opacity="0.07"/><polygon points="593,376.2 597.5,376 593,375.2 588.6,375.2" fill="#00ff3d" stroke-opacity="0.2"/><polygon points="601.9,376.8 606.3,376.2 601.9,375.7 597.5,376" fill="#00ff41" stroke-opacity="0.2"/><polygon points="610.8,376.8 615.2,375.9 610.8,375.6 606.3,376.2" fill="#00ff40" stroke-opacity="0.2"/><polygon points="619.6,376.3 624.1,375 619.6,374.9 615.2,375.9" fill="#00ff39" stroke-opacity="0.2"/><polygon points="628.5,375.1 633,373.5 628.5,373.7 624.1,375" fill="#00ff2c" stroke-opacity="0.37"/><polygon points="637.4,373.4 641.9,371.4 637.4,371.8 633,373.5" fill="#00ff1a" stroke-opacity="0.37"/><polygon points="646.3,371.1 650.8,368.8 646.3,369.4 641.9,371.4" fill="#00ff01" stroke-opacity="0.37"/><polygon points="655.3,368.2 659.8,365.5 655.3,366.4 650.8,368.8" fill="#1dff00" stroke-opacity="0.37"/><polygon points="664.3,364.7 668.8,361.7 664.3,362.8 659.8,365.5" fill="#40ff00" stroke-opacity="0.37"/><polygon points="673.4,360.7 677.9,357.3 673.3,358.7 668.8,361.7" fill="#69ff00" stroke-opacity="0.57"/><polygon points="570.8,372.7 575.3,373.3 570.8,371.8 566.3,370.9" fill="#00ff0d" stroke-opacity="0.2"/><polygon points="597.5,377.3 601.9,376.8 597.5,376 593,376.2" fill="#00ff35" stroke-opacity="0.2"/><polygon points="606.3,377.7 610.8,376.8 606.3,376.2 601.9,376.8" fill="#00ff38" stroke-opacity="0.37"/><polygon points="633,375.3 637.4,373.4 633,373.5 628.5,375.1" fill="#00ff1c" stroke-opacity="0.37"/><polygon points="641.9,373.3 646.3,371.1 641.9,371.4 637.4,373.4" fill="#00ff07" stroke-opacity="0.37"/><polygon points="668.9,363.9 673.4,360.7 668.8,361.7 664.3,364.7" fill="#59ff00" stroke-opacity="0.57"/><polygon points="561.9,370 566.3,370.9 561.9,369.2 557.4,368" fill="#0cff00" stroke-opacity="0.07"/><polygon points="579.7,374.8 584.2,375 579.7,373.8 575.3,373.3" fill="#00ff20" stroke-opacity="0.2"/><polygon points="588.6,376.4 593,376.2 588.6,375.2 584.2,375" fill="#00ff2e" stroke-opacity="0.2"/><polygon points="615.2,377.5 619.6,376.3 615.2,375.9 610.8,376.8" fill="#00ff34" stroke-opacity="0.37"/><polygon points="624.1,376.7 628.5,375.1 624.1,375 619.6,376.3" fill="#00ff2b" stroke-opacity="0.37"/><polygon points="650.8,370.8 655.3,368.2 650.8,368.8 646.3,371.1" fill="#13ff00" stroke-opacity="0.57"/><polygon points="659.8,367.7 664.3,364.7 659.8,365.5 655.3,368.2" fill="#3f0" stroke-opacity="0.57"/><polygon points="677.9,359.6 682.5,356 677.9,357.3 673.4,360.7" fill="#84ff00" stroke-opacity="0.57"/><polygon points="601.9,378.5 606.3,377.7 601.9,376.8 597.5,377.3" fill="#00ff2f" stroke-opacity="0.37"/><polygon points="637.4,375.5 641.9,373.3 637.4,373.4 633,375.3" fill="#00ff0d" stroke-opacity="0.57"/><polygon points="557.3,369 561.9,370 557.4,368 552.9,366.8" fill="#27ff00" stroke-opacity="0.2"/><polygon points="566.3,372.1 570.8,372.7 566.3,370.9 561.9,370" fill="#0aff00" stroke-opacity="0.2"/><polygon points="575.2,374.6 579.7,374.8 575.3,373.3 570.8,372.7" fill="#00ff0d" stroke-opacity="0.2"/><polygon points="584.1,376.4 588.6,376.4 584.2,375 579.7,374.8" fill="#00ff1e" stroke-opacity="0.37"/><polygon points="593,377.8 597.5,377.3 593,376.2 588.6,376.4" fill="#00ff29" stroke-opacity="0.37"/><polygon points="610.8,378.6 615.2,377.5 610.8,376.8 606.3,377.7" fill="#00ff2f" stroke-opacity="0.37"/><polygon points="619.6,378.2 624.1,376.7 619.6,376.3 615.2,377.5" fill="#00ff29" stroke-opacity="0.37"/><polygon points="628.5,377.2 633,375.3 628.5,375.1 624.1,376.7" fill="#00ff1e" stroke-opacity="0.57"/><polygon points="646.4,373.3 650.8,370.8 646.3,371.1 641.9,373.3" fill="#0aff00" stroke-opacity="0.57"/><polygon points="655.3,370.6 659.8,367.7 655.3,368.2 650.8,370.8" fill="#27ff00" stroke-opacity="0.57"/><polygon points="664.3,367.2 668.9,363.9 664.3,364.7 659.8,367.7" fill="#49ff00" stroke-opacity="0.57"/><polygon points="673.4,363.2 677.9,359.6 673.4,360.7 668.9,363.9" fill="#71ff00"/><polygon points="682.5,358.7 687.1,354.7 682.5,356 677.9,359.6" fill="#9fff00"/><polygon points="552.8,368 557.3,369 552.9,366.8 548.4,365.4" fill="#42ff00" stroke-opacity="0.2"/><polygon points="561.8,371.4 566.3,372.1 561.9,370 557.3,369" fill="#2f0" stroke-opacity="0.2"/><polygon points="570.8,374.2 575.2,374.6 570.8,372.7 566.3,372.1" fill="#08ff00" stroke-opacity="0.37"/><polygon points="579.7,376.5 584.1,376.4 579.7,374.8 575.2,374.6" fill="#00ff0d" stroke-opacity="0.37"/><polygon points="588.6,378.1 593,377.8 588.6,376.4 584.1,376.4" fill="#00ff1c" stroke-opacity="0.37"/><polygon points="597.5,379.2 601.9,378.5 597.5,377.3 593,377.8" fill="#00ff25" stroke-opacity="0.37"/><polygon points="606.3,379.7 610.8,378.6 606.3,377.7 601.9,378.5" fill="#00ff29" stroke-opacity="0.57"/><polygon points="615.2,379.6 619.6,378.2 615.2,377.5 610.8,378.6" fill="#00ff27" stroke-opacity="0.57"/><polygon points="624.1,379 628.5,377.2 624.1,376.7 619.6,378.2" fill="#00ff1f" stroke-opacity="0.57"/><polygon points="633,377.7 637.4,375.5 633,375.3 628.5,377.2" fill="#0f1" stroke-opacity="0.57"/><polygon points="641.9,375.9 646.4,373.3 641.9,373.3 637.4,375.5" fill="#02ff00" stroke-opacity="0.57"/><polygon points="650.9,373.4 655.3,370.6 650.8,370.8 646.4,373.3" fill="#1bff00"/><polygon points="659.8,370.4 664.3,367.2 659.8,367.7 655.3,370.6" fill="#3aff00"/><polygon points="668.9,366.8 673.4,363.2 668.9,363.9 664.3,367.2" fill="#5eff00"/><polygon points="677.9,362.5 682.5,358.7 677.9,359.6 673.4,363.2" fill="#8f0"/><polygon points="687.1,357.7 691.7,353.5 687.1,354.7 682.5,358.7" fill="#b8ff00"/><polygon points="548.3,366.8 552.8,368 548.4,365.4 543.8,364" fill="#5eff00" stroke-opacity="0.37"/><polygon points="557.3,370.6 561.8,371.4 557.3,369 552.8,368" fill="#3aff00" stroke-opacity="0.37"/><polygon points="566.3,373.8 570.8,374.2 566.3,372.1 561.8,371.4" fill="#1cff00" stroke-opacity="0.37"/><polygon points="584.1,378.5 588.6,378.1 584.1,376.4 579.7,376.5" fill="#00ff0f" stroke-opacity="0.57"/><polygon points="593,379.9 597.5,379.2 593,377.8 588.6,378.1" fill="#00ff1b" stroke-opacity="0.57"/><polygon points="601.9,380.8 606.3,379.7 601.9,378.5 597.5,379.2" fill="#0f2" stroke-opacity="0.57"/><polygon points="610.8,381 615.2,379.6 610.8,378.6 606.3,379.7" fill="#00ff24" stroke-opacity="0.57"/><polygon points="619.7,380.7 624.1,379 619.6,378.2 615.2,379.6" fill="#00ff20" stroke-opacity="0.57"/><polygon points="628.5,379.8 633,377.7 628.5,377.2 624.1,379" fill="#00ff16"/><polygon points="637.5,378.3 641.9,375.9 637.4,375.5 633,377.7" fill="#00ff06"/><polygon points="646.4,376.2 650.9,373.4 646.4,373.3 641.9,375.9" fill="#10ff00"/><polygon points="655.4,373.5 659.8,370.4 655.3,370.6 650.9,373.4" fill="#2bff00"/><polygon points="673.4,366.4 677.9,362.5 673.4,363.2 668.9,366.8" fill="#72ff00"/><polygon points="682.5,361.9 687.1,357.7 682.5,358.7 677.9,362.5" fill="#9eff00"/><polygon points="691.7,356.9 696.3,352.3 691.7,353.5 687.1,357.7" fill="#d0ff00"/><polygon points="575.2,376.4 579.7,376.5 575.2,374.6 570.8,374.2" fill="#04ff00" stroke-opacity="0.37"/><polygon points="664.4,370.3 668.9,366.8 664.3,367.2 659.8,370.4" fill="#4cff00"/><polygon points="543.8,365.6 548.3,366.8 543.8,364 539.3,362.5" fill="#7aff00" stroke-opacity="0.37"/><polygon points="552.8,369.8 557.3,370.6 552.8,368 548.3,366.8" fill="#53ff00" stroke-opacity="0.37"/><polygon points="561.8,373.3 566.3,373.8 561.8,371.4 557.3,370.6" fill="#31ff00" stroke-opacity="0.57"/><polygon points="570.7,376.3 575.2,376.4 570.8,374.2 566.3,373.8" fill="#16ff00" stroke-opacity="0.57"/><polygon points="579.7,378.7 584.1,378.5 579.7,376.5 575.2,376.4" fill="#0f0" stroke-opacity="0.57"/><polygon points="588.6,380.5 593,379.9 588.6,378.1 584.1,378.5" fill="#0f1" stroke-opacity="0.57"/><polygon points="597.5,381.8 601.9,380.8 597.5,379.2 593,379.9" fill="#00ff1b" stroke-opacity="0.57"/><polygon points="606.3,382.4 610.8,381 606.3,379.7 601.9,380.8" fill="#00ff20"/><polygon points="615.2,382.4 619.7,380.7 615.2,379.6 610.8,381" fill="#00ff20"/><polygon points="624.1,381.9 628.5,379.8 624.1,379 619.7,380.7" fill="#00ff19"/><polygon points="633,380.7 637.5,378.3 633,377.7 628.5,379.8" fill="#00ff0d"/><polygon points="641.9,379 646.4,376.2 641.9,375.9 637.5,378.3" fill="#05ff00"/><polygon points="650.9,376.7 655.4,373.5 650.9,373.4 646.4,376.2" fill="#1dff00"/><polygon points="659.8,373.7 664.4,370.3 659.8,370.4 655.4,373.5" fill="#3aff00"/><polygon points="668.9,370.2 673.4,366.4 668.9,366.8 664.4,370.3" fill="#5dff00"/><polygon points="677.9,366.1 682.5,361.9 677.9,362.5 673.4,366.4" fill="#86ff00"/><polygon points="687.1,361.4 691.7,356.9 687.1,357.7 682.5,361.9" fill="#b4ff00"/><polygon points="696.3,356.1 700.9,351.2 696.3,352.3 691.7,356.9" fill="#e8ff00"/><polygon points="548.3,368.9 552.8,369.8 548.3,366.8 543.8,365.6" fill="#6cff00" stroke-opacity="0.57"/><polygon points="575.2,378.9 579.7,378.7 575.2,376.4 570.7,376.3" fill="#0eff00" stroke-opacity="0.57"/><polygon points="584.1,381.1 588.6,380.5 584.1,378.5 579.7,378.7" fill="#00ff06"/><polygon points="593,382.7 597.5,381.8 593,379.9 588.6,380.5" fill="#00ff14"/><polygon points="610.8,384.1 615.2,382.4 610.8,381 606.3,382.4" fill="#00ff1f"/><polygon points="619.7,383.9 624.1,381.9 619.7,380.7 615.2,382.4" fill="#00ff1c"/><polygon points="628.6,383.1 633,380.7 628.5,379.8 624.1,381.9" fill="#00ff13"/><polygon points="646.4,379.7 650.9,376.7 646.4,376.2 641.9,379" fill="#0fff00"/><polygon points="655.3,377.2 659.8,373.7 655.4,373.5 650.9,376.7" fill="#29ff00"/><polygon points="664.3,374 668.9,370.2 664.4,370.3 659.8,373.7" fill="#48ff00"/><polygon points="691.6,360.9 696.3,356.1 691.7,356.9 687.1,361.4" fill="#c9ff00"/><polygon points="539.2,364.3 543.8,365.6 539.3,362.5 534.7,360.9" fill="#97ff00" stroke-opacity="0.37"/><polygon points="557.3,372.8 561.8,373.3 557.3,370.6 552.8,369.8" fill="#47ff00" stroke-opacity="0.57"/><polygon points="566.3,376.2 570.7,376.3 566.3,373.8 561.8,373.3" fill="#28ff00" stroke-opacity="0.57"/><polygon points="601.9,383.7 606.3,382.4 601.9,380.8 597.5,381.8" fill="#00ff1c"/><polygon points="637.5,381.7 641.9,379 637.5,378.3 633,380.7" fill="#00ff05"/><polygon points="673.4,370.2 677.9,366.1 673.4,366.4 668.9,370.2" fill="#6dff00"/><polygon points="682.5,365.8 687.1,361.4 682.5,361.9 677.9,366.1" fill="#98ff00"/><polygon points="700.9,355.3 705.5,350.1 700.9,351.2 696.3,356.1" fill="#ff0"/><polygon points="534.6,363 539.2,364.3 534.7,360.9 530.1,359.2" fill="#b4ff00" stroke-opacity="0.57"/><polygon points="543.7,367.9 548.3,368.9 543.8,365.6 539.2,364.3" fill="#86ff00" stroke-opacity="0.57"/><polygon points="552.8,372.2 557.3,372.8 552.8,369.8 548.3,368.9" fill="#5eff00" stroke-opacity="0.57"/><polygon points="579.7,381.6 584.1,381.1 579.7,378.7 575.2,378.9" fill="#06ff00"/><polygon points="615.2,385.8 619.7,383.9 615.2,382.4 610.8,384.1" fill="#00ff1e"/><polygon points="624.1,385.4 628.6,383.1 624.1,381.9 619.7,383.9" fill="#00ff19"/><polygon points="659.8,377.7 664.3,374 659.8,373.7 655.3,377.2" fill="#34ff00"/><polygon points="687,365.7 691.6,360.9 687.1,361.4 682.5,365.8" fill="#af0"/><polygon points="696.2,360.4 700.9,355.3 696.3,356.1 691.6,360.9" fill="#df0"/><polygon points="705.5,354.6 710.2,349.1 705.5,350.1 700.9,355.3" fill="#ffe900"/><polygon points="561.8,375.9 566.3,376.2 561.8,373.3 557.3,372.8" fill="#3bff00"/><polygon points="570.7,379 575.2,378.9 570.7,376.3 566.3,376.2" fill="#1eff00"/><polygon points="588.6,383.5 593,382.7 588.6,380.5 584.1,381.1" fill="#00ff0c"/><polygon points="597.5,384.9 601.9,383.7 597.5,381.8 593,382.7" fill="#00ff18"/><polygon points="606.3,385.7 610.8,384.1 606.3,382.4 601.9,383.7" fill="#00ff1e"/><polygon points="633,384.4 637.5,381.7 633,380.7 628.6,383.1" fill="#00ff0f"/><polygon points="641.9,382.8 646.4,379.7 641.9,379 637.5,381.7" fill="#02ff00"/><polygon points="650.9,380.5 655.3,377.2 650.9,376.7 646.4,379.7" fill="#18ff00"/><polygon points="668.8,374.3 673.4,370.2 668.9,370.2 664.3,374" fill="#56ff00"/><polygon points="677.9,370.3 682.5,365.8 677.9,366.1 673.4,370.2" fill="#7dff00"/><polygon points="530.1,361.5 534.6,363 530.1,359.2 525.5,357.5" fill="#d2ff00" stroke-opacity="0.57"/><polygon points="539.2,366.8 543.7,367.9 539.2,364.3 534.6,363" fill="#a1ff00"/><polygon points="548.3,371.5 552.8,372.2 548.3,368.9 543.7,367.9" fill="#75ff00"/><polygon points="566.3,379.1 570.7,379 566.3,376.2 561.8,375.9" fill="#2dff00"/><polygon points="575.2,382 579.7,381.6 575.2,378.9 570.7,379" fill="#13ff00"/><polygon points="584.1,384.3 588.6,383.5 584.1,381.1 579.7,381.6" fill="#00ff03"/><polygon points="601.9,387.2 606.3,385.7 601.9,383.7 597.5,384.9" fill="#00ff1c"/><polygon points="610.8,387.7 615.2,385.8 610.8,384.1 606.3,385.7" fill="#00ff20"/><polygon points="619.7,387.7 624.1,385.4 619.7,383.9 615.2,385.8" fill="#00ff1f"/><polygon points="628.5,387 633,384.4 628.6,383.1 624.1,385.4" fill="#00ff17"/><polygon points="637.4,385.7 641.9,382.8 637.5,381.7 633,384.4" fill="#00ff0a"/><polygon points="655.3,381.4 659.8,377.7 655.3,377.2 650.9,380.5" fill="#21ff00"/><polygon points="664.3,378.4 668.8,374.3 664.3,374 659.8,377.7" fill="#3fff00"/><polygon points="673.4,374.7 677.9,370.3 673.4,370.2 668.8,374.3" fill="#63ff00"/><polygon points="691.6,365.5 696.2,360.4 691.6,360.9 687,365.7" fill="#bf0"/><polygon points="700.8,360 705.5,354.6 700.9,355.3 696.2,360.4" fill="#f0ff00"/><polygon points="710.1,353.9 714.8,348.2 710.2,349.1 705.5,354.6" fill="#ffd400"/><polygon points="557.3,375.6 561.8,375.9 557.3,372.8 552.8,372.2" fill="#4eff00"/><polygon points="593,386.1 597.5,384.9 593,382.7 588.6,383.5" fill="#00ff12"/><polygon points="646.4,383.9 650.9,380.5 646.4,379.7 641.9,382.8" fill="#08ff00"/><polygon points="682.4,370.4 687,365.7 682.5,365.8 677.9,370.3" fill="#8cff00"/><polygon points="534.6,365.7 539.2,366.8 534.6,363 530.1,361.5" fill="#bcff00"/><polygon points="570.7,382.4 575.2,382 570.7,379 566.3,379.1" fill="#1fff00"/><polygon points="606.3,389.6 610.8,387.7 606.3,385.7 601.9,387.2" fill="#00ff21"/><polygon points="633,388.7 637.4,385.7 633,384.4 628.5,387" fill="#00ff16"/><polygon points="668.8,379 673.4,374.7 668.8,374.3 664.3,378.4" fill="#49ff00"/><polygon points="705.4,359.7 710.1,353.9 705.5,354.6 700.8,360" fill="#fffb00"/><polygon points="543.7,370.7 548.3,371.5 543.7,367.9 539.2,366.8" fill="#8cff00"/><polygon points="552.8,375.2 557.3,375.6 552.8,372.2 548.3,371.5" fill="#62ff00"/><polygon points="561.8,379.1 566.3,379.1 561.8,375.9 557.3,375.6" fill="#3eff00"/><polygon points="579.7,385.1 584.1,384.3 579.7,381.6 575.2,382" fill="#07ff00"/><polygon points="588.6,387.2 593,386.1 588.6,383.5 584.1,384.3" fill="#00ff0c"/><polygon points="597.5,388.7 601.9,387.2 597.5,384.9 593,386.1" fill="#00ff1a"/><polygon points="615.2,389.9 619.7,387.7 615.2,385.8 610.8,387.7" fill="#00ff23"/><polygon points="624.1,389.6 628.5,387 624.1,385.4 619.7,387.7" fill="#00ff20"/><polygon points="641.9,387.2 646.4,383.9 641.9,382.8 637.4,385.7" fill="#00ff07"/><polygon points="650.8,385.1 655.3,381.4 650.9,380.5 646.4,383.9" fill="#0eff00"/><polygon points="659.8,382.4 664.3,378.4 659.8,377.7 655.3,381.4" fill="#28ff00"/><polygon points="677.9,375.1 682.4,370.4 677.9,370.3 673.4,374.7" fill="#6fff00"/><polygon points="687,370.6 691.6,365.5 687,365.7 682.4,370.4" fill="#9aff00"/><polygon points="696.1,365.5 700.8,360 696.2,360.4 691.6,365.5" fill="#cf0"/><polygon points="539.2,369.9 543.7,370.7 539.2,366.8 534.6,365.7" fill="#a4ff00"/><polygon points="557.3,379 561.8,379.1 557.3,375.6 552.8,375.2" fill="#4fff00"/><polygon points="566.3,382.7 570.7,382.4 566.3,379.1 561.8,379.1" fill="#2dff00"/><polygon points="575.2,385.8 579.7,385.1 575.2,382 570.7,382.4" fill="#1f0"/><polygon points="593,390.1 597.5,388.7 593,386.1 588.6,387.2" fill="#00ff17"/><polygon points="601.9,391.4 606.3,389.6 601.9,387.2 597.5,388.7" fill="#0f2"/><polygon points="610.8,392.1 615.2,389.9 610.8,387.7 606.3,389.6" fill="#00ff28"/><polygon points="628.5,391.6 633,388.7 628.5,387 624.1,389.6" fill="#0f2"/><polygon points="637.4,390.4 641.9,387.2 637.4,385.7 633,388.7" fill="#00ff16"/><polygon points="646.3,388.7 650.8,385.1 646.4,383.9 641.9,387.2" fill="#00ff05"/><polygon points="664.3,383.4 668.8,379 664.3,378.4 659.8,382.4" fill="#2fff00"/><polygon points="673.3,379.8 677.9,375.1 673.4,374.7 668.8,379" fill="#52ff00"/><polygon points="682.4,375.6 687,370.6 682.4,370.4 677.9,375.1" fill="#7aff00"/><polygon points="700.7,365.5 705.4,359.7 700.8,360 696.1,365.5" fill="#dbff00"/><polygon points="548.3,374.8 552.8,375.2 548.3,371.5 543.7,370.7" fill="#7f0"/><polygon points="584.1,388.2 588.6,387.2 584.1,384.3 579.7,385.1" fill="#00ff06"/><polygon points="619.7,392.1 624.1,389.6 619.7,387.7 615.2,389.9" fill="#00ff27"/><polygon points="655.3,386.3 659.8,382.4 655.3,381.4 650.8,385.1" fill="#12ff00"/><polygon points="691.5,370.8 696.1,365.5 691.6,365.5 687,370.6" fill="#a8ff00"/><polygon points="561.8,382.9 566.3,382.7 561.8,379.1 557.3,379" fill="#3bff00"/><polygon points="597.5,393.1 601.9,391.4 597.5,388.7 593,390.1" fill="#0f2"/><polygon points="641.9,392.3 646.3,388.7 641.9,387.2 637.4,390.4" fill="#00ff16"/><polygon points="677.8,380.6 682.4,375.6 677.9,375.1 673.3,379.8" fill="#5aff00"/><polygon points="543.7,374.2 548.3,374.8 543.7,370.7 539.2,369.9" fill="#8cff00"/><polygon points="552.8,378.9 557.3,379 552.8,375.2 548.3,374.8" fill="#61ff00"/><polygon points="570.7,386.4 575.2,385.8 570.7,382.4 566.3,382.7" fill="#1bff00"/><polygon points="579.7,389.2 584.1,388.2 579.7,385.1 575.2,385.8" fill="#01ff00"/><polygon points="588.6,391.5 593,390.1 588.6,387.2 584.1,388.2" fill="#00ff13"/><polygon points="606.3,394.2 610.8,392.1 606.3,389.6 601.9,391.4" fill="#00ff2b"/><polygon points="615.2,394.6 619.7,392.1 615.2,389.9 610.8,392.1" fill="#00ff2f"/><polygon points="624.1,394.4 628.5,391.6 624.1,389.6 619.7,392.1" fill="#00ff2c"/><polygon points="633,393.6 637.4,390.4 633,388.7 628.5,391.6" fill="#00ff24"/><polygon points="650.8,390.3 655.3,386.3 650.8,385.1 646.3,388.7" fill="#00ff03"/><polygon points="659.8,387.7 664.3,383.4 659.8,382.4 655.3,386.3" fill="#16ff00"/><polygon points="668.7,384.5 673.3,379.8 668.8,379 664.3,383.4" fill="#35ff00"/><polygon points="686.9,376.2 691.5,370.8 687,370.6 682.4,375.6" fill="#84ff00"/><polygon points="696,371.2 700.7,365.5 696.1,365.5 691.5,370.8" fill="#b4ff00"/><polygon points="548.3,378.7 552.8,378.9 548.3,374.8 543.7,374.2" fill="#73ff00"/><polygon points="557.3,383.1 561.8,382.9 557.3,379 552.8,378.9" fill="#4aff00"/><polygon points="566.3,386.9 570.7,386.4 566.3,382.7 561.8,382.9" fill="#26ff00"/><polygon points="584.1,392.8 588.6,391.5 584.1,388.2 579.7,389.2" fill="#00ff0f"/><polygon points="593,394.8 597.5,393.1 593,390.1 588.6,391.5" fill="#0f2"/><polygon points="601.9,396.2 606.3,394.2 601.9,391.4 597.5,393.1" fill="#00ff2e"/><polygon points="619.6,397.2 624.1,394.4 619.7,392.1 615.2,394.6" fill="#00ff36"/><polygon points="637.4,395.8 641.9,392.3 637.4,390.4 633,393.6" fill="#00ff27"/><polygon points="646.3,394.2 650.8,390.3 646.3,388.7 641.9,392.3" fill="#00ff18"/><polygon points="655.2,391.9 659.8,387.7 655.3,386.3 650.8,390.3" fill="#00ff02"/><polygon points="673.2,385.6 677.8,380.6 673.3,379.8 668.7,384.5" fill="#3bff00"/><polygon points="682.3,381.5 686.9,376.2 682.4,375.6 677.8,380.6" fill="#61ff00"/><polygon points="691.4,376.9 696,371.2 691.5,370.8 686.9,376.2" fill="#8eff00"/><polygon points="575.2,390.2 579.7,389.2 575.2,385.8 570.7,386.4" fill="#09ff00"/><polygon points="610.8,397 615.2,394.6 610.8,392.1 606.3,394.2" fill="#00ff35"/><polygon points="628.5,396.8 633,393.6 628.5,391.6 624.1,394.4" fill="#00ff32"/><polygon points="664.2,389.1 668.7,384.5 664.3,383.4 659.8,387.7" fill="#19ff00"/><polygon points="552.8,383.2 557.3,383.1 552.8,378.9 548.3,378.7" fill="#59ff00"/><polygon points="588.6,396.4 593,394.8 588.6,391.5 584.1,392.8" fill="#00ff20"/><polygon points="650.7,396.2 655.2,391.9 650.8,390.3 646.3,394.2" fill="#00ff1a"/><polygon points="686.8,382.5 691.4,376.9 686.9,376.2 682.3,381.5" fill="#68ff00"/><polygon points="561.8,387.4 566.3,386.9 561.8,382.9 557.3,383.1" fill="#32ff00"/><polygon points="570.8,391 575.2,390.2 570.7,386.4 566.3,386.9" fill="#1f0"/><polygon points="579.7,394 584.1,392.8 579.7,389.2 575.2,390.2" fill="#00ff0b"/><polygon points="597.5,398.2 601.9,396.2 597.5,393.1 593,394.8" fill="#00ff31"/><polygon points="606.3,399.4 610.8,397 606.3,394.2 601.9,396.2" fill="#00ff3b"/><polygon points="615.2,400 619.6,397.2 615.2,394.6 610.8,397" fill="#00ff40"/><polygon points="624.1,399.9 628.5,396.8 624.1,394.4 619.6,397.2" fill="#00ff3f"/><polygon points="632.9,399.3 637.4,395.8 633,393.6 628.5,396.8" fill="#00ff38"/><polygon points="641.8,398 646.3,394.2 641.9,392.3 637.4,395.8" fill="#00ff2c"/><polygon points="659.7,393.7 664.2,389.1 659.8,387.7 655.2,391.9" fill="#00ff02"/><polygon points="668.7,390.6 673.2,385.6 668.7,384.5 664.2,389.1" fill="#1cff00"/><polygon points="677.7,386.9 682.3,381.5 677.8,380.6 673.2,385.6" fill="#3fff00"/><polygon points="557.3,387.9 561.8,387.4 557.3,383.1 552.8,383.2" fill="#3fff00"/><polygon points="575.2,395.2 579.7,394 575.2,390.2 570.8,391" fill="#00ff05"/><polygon points="584.2,398 588.6,396.4 584.1,392.8 579.7,394" fill="#00ff1f"/><polygon points="593,400.2 597.5,398.2 593,394.8 588.6,396.4" fill="#00ff32"/><polygon points="610.8,402.7 615.2,400 610.8,397 606.3,399.4" fill="#00ff49"/><polygon points="628.5,402.7 632.9,399.3 628.5,396.8 624.1,399.9" fill="#00ff48"/><polygon points="646.3,400.3 650.7,396.2 646.3,394.2 641.8,398" fill="#00ff31"/><polygon points="655.2,398.2 659.7,393.7 655.2,391.9 650.7,396.2" fill="#00ff1c"/><polygon points="664.1,395.5 668.7,390.6 664.2,389.1 659.7,393.7" fill="#00ff02"/><polygon points="682.2,388.2 686.8,382.5 682.3,381.5 677.7,386.9" fill="#43ff00"/><polygon points="566.3,391.8 570.8,391 566.3,386.9 561.8,387.4" fill="#1aff00"/><polygon points="601.9,401.7 606.3,399.4 601.9,396.2 597.5,398.2" fill="#00ff40"/><polygon points="619.6,403 624.1,399.9 619.6,397.2 615.2,400" fill="#00ff4b"/><polygon points="637.4,401.8 641.8,398 637.4,395.8 632.9,399.3" fill="#00ff3f"/><polygon points="673.1,392.1 677.7,386.9 673.2,385.6 668.7,390.6" fill="#1dff00"/><polygon points="579.7,399.5 584.2,398 579.7,394 575.2,395.2" fill="#00ff1c"/><polygon points="659.6,400.4 664.1,395.5 659.7,393.7 655.2,398.2" fill="#00ff20"/><polygon points="561.8,392.6 566.3,391.8 561.8,387.4 557.3,387.9" fill="#23ff00"/><polygon points="570.8,396.4 575.2,395.2 570.8,391 566.3,391.8" fill="#01ff00"/><polygon points="588.6,402.1 593,400.2 588.6,396.4 584.2,398" fill="#00ff34"/><polygon points="597.5,404 601.9,401.7 597.5,398.2 593,400.2" fill="#00ff45"/><polygon points="606.3,405.3 610.8,402.7 606.3,399.4 601.9,401.7" fill="#00ff51"/><polygon points="615.2,406 619.6,403 615.2,400 610.8,402.7" fill="#00ff57"/><polygon points="624,406.1 628.5,402.7 624.1,399.9 619.6,403" fill="#00ff57"/><polygon points="632.9,405.6 637.4,401.8 632.9,399.3 628.5,402.7" fill="#00ff52"/><polygon points="641.8,404.5 646.3,400.3 641.8,398 637.4,401.8" fill="#00ff47"/><polygon points="650.7,402.7 655.2,398.2 650.7,396.2 646.3,400.3" fill="#00ff36"/><polygon points="668.6,397.4 673.1,392.1 668.7,390.6 664.1,395.5" fill="#00ff04"/><polygon points="677.6,393.8 682.2,388.2 677.7,386.9 673.1,392.1" fill="#1eff00"/><polygon points="566.3,397.4 570.8,396.4 566.3,391.8 561.8,392.6" fill="#07ff00"/><polygon points="575.3,401 579.7,399.5 575.2,395.2 570.8,396.4" fill="#00ff19"/><polygon points="584.2,403.9 588.6,402.1 584.2,398 579.7,399.5" fill="#00ff34"/><polygon points="601.9,407.9 606.3,405.3 601.9,401.7 597.5,404" fill="#00ff59"/><polygon points="619.6,409.5 624,406.1 619.6,403 615.2,406" fill="#0f6"/><polygon points="637.3,408.6 641.8,404.5 637.4,401.8 632.9,405.6" fill="#00ff5d"/><polygon points="655.1,405.2 659.6,400.4 655.2,398.2 650.7,402.7" fill="#00ff3d"/><polygon points="664,402.6 668.6,397.4 664.1,395.5 659.6,400.4" fill="#00ff24"/><polygon points="673,399.3 677.6,393.8 673.1,392.1 668.6,397.4" fill="#00ff06"/><polygon points="593.1,406.2 597.5,404 593,400.2 588.6,402.1" fill="#00ff49"/><polygon points="610.8,409 615.2,406 610.8,402.7 606.3,405.3" fill="#00ff62"/><polygon points="628.5,409.3 632.9,405.6 628.5,402.7 624,406.1" fill="#00ff64"/><polygon points="646.2,407.2 650.7,402.7 646.3,400.3 641.8,404.5" fill="#00ff50"/><polygon points="570.8,402.4 575.3,401 570.8,396.4 566.3,397.4" fill="#00ff16"/><polygon points="668.5,404.9 673,399.3 668.6,397.4 664,402.6" fill="#00ff29"/><polygon points="579.7,405.7 584.2,403.9 579.7,399.5 575.3,401" fill="#00ff34"/><polygon points="588.6,408.4 593.1,406.2 588.6,402.1 584.2,403.9" fill="#00ff4d"/><polygon points="597.5,410.5 601.9,407.9 597.5,404 593.1,406.2" fill="#00ff60"/><polygon points="606.3,412 610.8,409 606.3,405.3 601.9,407.9" fill="#00ff6d"/><polygon points="615.2,412.8 619.6,409.5 615.2,406 610.8,409" fill="#00ff74"/><polygon points="624,413 628.5,409.3 624,406.1 619.6,409.5" fill="#00ff76"/><polygon points="632.9,412.7 637.3,408.6 632.9,405.6 628.5,409.3" fill="#00ff72"/><polygon points="641.7,411.6 646.2,407.2 641.8,404.5 637.3,408.6" fill="#00ff69"/><polygon points="650.6,410 655.1,405.2 650.7,402.7 646.2,407.2" fill="#00ff59"/><polygon points="659.5,407.8 664,402.6 659.6,400.4 655.1,405.2" fill="#0f4"/><polygon points="575.3,407.4 579.7,405.7 575.3,401 570.8,402.4" fill="#00ff34"/><polygon points="593.1,413 597.5,410.5 593.1,406.2 588.6,408.4" fill="#0f6"/><polygon points="610.8,416.1 615.2,412.8 610.8,409 606.3,412" fill="#00ff82"/><polygon points="628.4,416.7 632.9,412.7 628.5,409.3 624,413" fill="#00ff87"/><polygon points="646.1,414.8 650.6,410 646.2,407.2 641.7,411.6" fill="#00ff75"/><polygon points="663.9,410.4 668.5,404.9 664,402.6 659.5,407.8" fill="#00ff4c"/><polygon points="584.2,410.5 588.6,408.4 584.2,403.9 579.7,405.7" fill="#00ff50"/><polygon points="601.9,414.8 606.3,412 601.9,407.9 597.5,410.5" fill="#0f7"/><polygon points="619.6,416.7 624,413 619.6,409.5 615.2,412.8" fill="#00ff87"/><polygon points="637.3,416 641.7,411.6 637.3,408.6 632.9,412.7" fill="#00ff81"/><polygon points="655,412.9 659.5,407.8 655.1,405.2 650.6,410" fill="#00ff63"/><polygon points="579.8,412.6 584.2,410.5 579.7,405.7 575.3,407.4" fill="#00ff52"/><polygon points="588.7,415.4 593.1,413 588.6,408.4 584.2,410.5" fill="#00ff6c"/><polygon points="597.5,417.7 601.9,414.8 597.5,410.5 593.1,413" fill="#00ff80"/><polygon points="606.3,419.3 610.8,416.1 606.3,412 601.9,414.8" fill="#00ff8f"/><polygon points="615.2,420.3 619.6,416.7 615.2,412.8 610.8,416.1" fill="#00ff98"/><polygon points="624,420.7 628.4,416.7 624,413 619.6,416.7" fill="#00ff9b"/><polygon points="632.8,420.4 637.3,416 632.9,412.7 628.4,416.7" fill="#00ff98"/><polygon points="641.7,419.5 646.1,414.8 641.7,411.6 637.3,416" fill="#00ff90"/><polygon points="650.5,418 655,412.9 650.6,410 646.1,414.8" fill="#00ff82"/><polygon points="659.4,415.9 663.9,410.4 659.5,407.8 655,412.9" fill="#00ff6e"/><polygon points="584.2,417.8 588.7,415.4 584.2,410.5 579.8,412.6" fill="#00ff71"/><polygon points="601.9,422.5 606.3,419.3 601.9,414.8 597.5,417.7" fill="#00ff9b"/><polygon points="637.2,424.2 641.7,419.5 637.3,416 632.8,420.4" fill="#00ffab"/><polygon points="654.9,421.4 659.4,415.9 655,412.9 650.5,418" fill="#00ff90"/><polygon points="619.6,424.6 624,420.7 619.6,416.7 615.2,420.3" fill="#00ffae"/><polygon points="593.1,420.5 597.5,417.7 593.1,413 588.7,415.4" fill="#00ff89"/><polygon points="610.7,423.8 615.2,420.3 610.8,416.1 606.3,419.3" fill="#00ffa8"/><polygon points="628.4,424.7 632.8,420.4 628.4,416.7 624,420.7" fill="#00ffaf"/><polygon points="646,423.1 650.5,418 646.1,414.8 641.7,419.5" fill="#00ffa0"/><polygon points="588.7,423.2 593.1,420.5 588.7,415.4 584.2,417.8" fill="#00ff92"/><polygon points="597.5,425.6 601.9,422.5 597.5,417.7 593.1,420.5" fill="#00ffa7"/><polygon points="606.3,427.4 610.7,423.8 606.3,419.3 601.9,422.5" fill="#00ffb7"/><polygon points="615.1,428.5 619.6,424.6 615.2,420.3 610.7,423.8" fill="#00ffc1"/><polygon points="623.9,429 628.4,424.7 624,420.7 619.6,424.6" fill="#00ffc6"/><polygon points="632.8,428.9 637.2,424.2 632.8,420.4 628.4,424.7" fill="#00ffc5"/><polygon points="641.6,428.2 646,423.1 641.7,419.5 637.2,424.2" fill="#00ffbe"/><polygon points="650.4,426.8 654.9,421.4 650.5,418 646,423.1" fill="#00ffb1"/><polygon points="593.1,428.7 597.5,425.6 593.1,420.5 588.7,423.2" fill="#00ffb2"/><polygon points="645.9,432.2 650.4,426.8 646,423.1 641.6,428.2" fill="#00ffd2"/><polygon points="610.7,432.4 615.1,428.5 610.7,423.8 606.3,427.4" fill="#00ffd4"/><polygon points="619.5,433.3 623.9,429 619.6,424.6 615.1,428.5" fill="#00ffdc"/><polygon points="628.3,433.5 632.8,428.9 628.4,424.7 623.9,429" fill="#00ffde"/><polygon points="601.9,430.8 606.3,427.4 601.9,422.5 597.5,425.6" fill="#00ffc6"/><polygon points="637.1,433.2 641.6,428.2 637.2,424.2 632.8,428.9" fill="#00ffdb"/><polygon points="597.5,434.2 601.9,430.8 597.5,425.6 593.1,428.7" fill="#00ffd4"/><polygon points="606.3,436.2 610.7,432.4 606.3,427.4 601.9,430.8" fill="#00ffe5"/><polygon points="615.1,437.5 619.5,433.3 615.1,428.5 610.7,432.4" fill="#00fff1"/><polygon points="623.9,438.1 628.3,433.5 623.9,429 619.5,433.3" fill="#00fff7"/><polygon points="632.7,438.2 637.1,433.2 632.8,428.9 628.3,433.5" fill="#00fff7"/><polygon points="641.5,437.5 645.9,432.2 641.6,428.2 637.1,433.2" fill="#00fff2"/><polygon points="601.9,439.9 606.3,436.2 601.9,430.8 597.5,434.2" fill="#00fff7"/><polygon points="610.7,441.6 615.1,437.5 610.7,432.4 606.3,436.2" fill="#00f7ff"/><polygon points="619.5,442.7 623.9,438.1 619.5,433.3 615.1,437.5" fill="#00ecff"/><polygon points="628.3,443.1 632.7,438.2 628.3,433.5 623.9,438.1" fill="#00e8ff"/><polygon points="637,442.9 641.5,437.5 637.1,433.2 632.7,438.2" fill="#00eaff"/><polygon points="606.3,445.7 610.7,441.6 606.3,436.2 601.9,439.9" fill="#00e0ff"/><polygon points="615.1,447.2 619.5,442.7 615.1,437.5 610.7,441.6" fill="#00d1ff"/><polygon points="623.8,448 628.3,443.1 623.9,438.1 619.5,442.7" fill="#00c9ff"/><polygon points="632.6,448.2 637,442.9 632.7,438.2 628.3,443.1" fill="#00c7ff"/><polygon points="610.7,451.7 615.1,447.2 610.7,441.6 606.3,445.7" fill="#00b6ff"/><polygon points="619.4,452.9 623.8,448 619.5,442.7 615.1,447.2" fill="#0af"/><polygon points="628.2,453.4 632.6,448.2 628.3,443.1 623.8,448" fill="#00a4ff"/><polygon points="615.1,457.7 619.4,452.9 615.1,447.2 610.7,451.7" fill="#008cff"/><polygon points="623.8,458.6 628.2,453.4 623.8,448 619.4,452.9" fill="#0082ff"/><polygon points="619.4,463.8 623.8,458.6 619.4,452.9 615.1,457.7" fill="#0060ff"/></g>
<line x1="714.8" y1="348.2" x2="715.5" y2="333.3" stroke="#555" stroke-width="0.6"/><circle cx="715.5" cy="333.3" r="1.6" fill="#b00000" stroke="#700000" stroke-width="0.5"/>
<line x1="619.7" y1="385.7" x2="619.7" y2="374.1" stroke="#555" stroke-width="0.6"/><circle cx="619.7" cy="374.1" r="1.6" fill="#b00000" stroke="#700000" stroke-width="0.5"/>
<line x1="619.4" y1="463.8" x2="619.4" y2="456.6" stroke="#555" stroke-width="0.6"/><circle cx="619.4" cy="456.6" r="1.6" fill="#b00000" stroke="#700000" stroke-width="0.5"/>
<circle cx="619.4" cy="508" r="0.6" fill="#222"/>
<text x="622.9" y="515.5" font-size="6.5" text-anchor="start" fill="#111" class="t">5</text>
<circle cx="637.3" cy="498.4" r="0.6" fill="#222"/>
<text x="640.8" y="505.9" font-size="6.5" text-anchor="start" fill="#111" class="t">6</text>
<circle cx="655.2" cy="488.7" r="0.6" fill="#222"/>
<text x="658.7" y="496.2" font-size="6.5" text-anchor="start" fill="#111" class="t">7</text>
<circle cx="673.2" cy="479.1" r="0.6" fill="#222"/>
<text x="676.7" y="486.6" font-size="6.5" text-anchor="start" fill="#111" class="t">8</text>
<circle cx="691.1" cy="469.4" r="0.6" fill="#222"/>
<text x="694.6" y="476.9" font-size="6.5" text-anchor="start" fill="#111" class="t">9</text>
<circle cx="709" cy="459.8" r="0.6" fill="#222"/>
<text x="712.5" y="467.3" font-size="6.5" text-anchor="start" fill="#111" class="t">10</text>
<text x="699.3" y="504.8" font-size="6.6" text-anchor="middle" xml:space="preserve" fill="#111" class="t">A: Monomer (gm)</text>
<circle cx="619.4" cy="508" r="0.6" fill="#222"/>
<text x="615.4" y="516" font-size="6.5" text-anchor="end" fill="#111" class="t">0.3</text>
<circle cx="601.6" cy="498.4" r="0.6" fill="#222"/>
<text x="597.6" y="506.4" font-size="6.5" text-anchor="end" fill="#111" class="t">0.36</text>
<circle cx="583.8" cy="488.7" r="0.6" fill="#222"/>
<text x="579.8" y="496.7" font-size="6.5" text-anchor="end" fill="#111" class="t">0.42</text>
<circle cx="565.9" cy="479.1" r="0.6" fill="#222"/>
<text x="561.9" y="487.1" font-size="6.5" text-anchor="end" fill="#111" class="t">0.48</text>
<circle cx="548.1" cy="469.4" r="0.6" fill="#222"/>
<text x="544.1" y="477.4" font-size="6.5" text-anchor="end" fill="#111" class="t">0.54</text>
<circle cx="530.3" cy="459.8" r="0.6" fill="#222"/>
<text x="526.3" y="467.8" font-size="6.5" text-anchor="end" fill="#111" class="t">0.6</text>
<text x="541" y="504.8" font-size="6.6" text-anchor="middle" xml:space="preserve" fill="#111" class="t">C: Polymer  (gm)</text>
<text x="627.7" y="298.8" font-size="32" font-weight="bold" text-anchor="middle" fill="#000" font-family="Liberation Serif, Times New Roman, serif">F</text>
</svg></body></html>
